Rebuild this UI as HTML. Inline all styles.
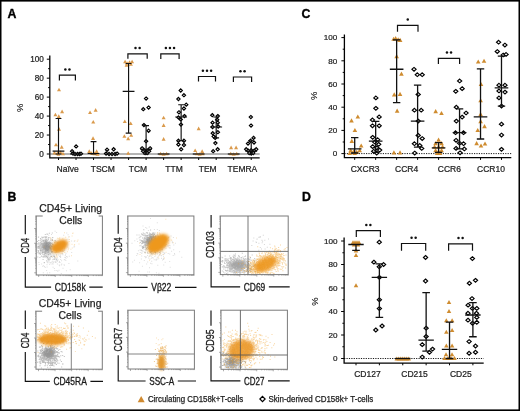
<!DOCTYPE html>
<html><head><meta charset="utf-8"><style>
html,body{margin:0;padding:0;background:#fff;width:520px;height:411px;overflow:hidden;}
svg{display:block;font-family:"Liberation Sans", sans-serif;filter:blur(0.25px);}
</style></head><body>
<svg width="520" height="411" viewBox="0 0 520 411"><rect x="0" y="0" width="520" height="1.6" fill="#000"/>
<rect x="0" y="0" width="1.5" height="411" fill="#000"/>
<rect x="518.5" y="0" width="1.5" height="411" fill="#000"/>
<rect x="0" y="409.4" width="520" height="1.6" fill="#000"/>
<text x="7.4" y="17.8" font-family='"Liberation Sans", sans-serif' font-weight="bold" font-size="12.3" stroke="#000" stroke-width="0.35">A</text>
<text x="7.4" y="200.7" font-family='"Liberation Sans", sans-serif' font-weight="bold" font-size="12.3" stroke="#000" stroke-width="0.35">B</text>
<text x="301.4" y="17.7" font-family='"Liberation Sans", sans-serif' font-weight="bold" font-size="12.3" stroke="#000" stroke-width="0.35">C</text>
<text x="301.9" y="200.8" font-family='"Liberation Sans", sans-serif' font-weight="bold" font-size="12.3" stroke="#000" stroke-width="0.35">D</text>
<path d="M49.8 55.5V157.8H259.7" fill="none" stroke="#000" stroke-width="1.3"/>
<path d="M46.8 154H49.8" stroke="#000" stroke-width="1"/>
<text x="43.8" y="156.7" text-anchor="end" font-family='"Liberation Sans", sans-serif' font-size="8.2" fill="#222" stroke="#222" stroke-width="0.22">0</text>
<path d="M48.1 144.52H49.8" stroke="#000" stroke-width="1"/>
<path d="M46.8 135.04H49.8" stroke="#000" stroke-width="1"/>
<text x="43.8" y="137.74" text-anchor="end" font-family='"Liberation Sans", sans-serif' font-size="8.2" fill="#222" stroke="#222" stroke-width="0.22">20</text>
<path d="M48.1 125.56H49.8" stroke="#000" stroke-width="1"/>
<path d="M46.8 116.08H49.8" stroke="#000" stroke-width="1"/>
<text x="43.8" y="118.78" text-anchor="end" font-family='"Liberation Sans", sans-serif' font-size="8.2" fill="#222" stroke="#222" stroke-width="0.22">40</text>
<path d="M48.1 106.6H49.8" stroke="#000" stroke-width="1"/>
<path d="M46.8 97.12H49.8" stroke="#000" stroke-width="1"/>
<text x="43.8" y="99.82" text-anchor="end" font-family='"Liberation Sans", sans-serif' font-size="8.2" fill="#222" stroke="#222" stroke-width="0.22">60</text>
<path d="M48.1 87.64H49.8" stroke="#000" stroke-width="1"/>
<path d="M46.8 78.16H49.8" stroke="#000" stroke-width="1"/>
<text x="43.8" y="80.86" text-anchor="end" font-family='"Liberation Sans", sans-serif' font-size="8.2" fill="#222" stroke="#222" stroke-width="0.22">80</text>
<path d="M48.1 68.68H49.8" stroke="#000" stroke-width="1"/>
<path d="M46.8 59.2H49.8" stroke="#000" stroke-width="1"/>
<text x="43.8" y="61.9" text-anchor="end" font-family='"Liberation Sans", sans-serif' font-size="8.2" fill="#222" stroke="#222" stroke-width="0.22">100</text>
<path d="M58.5 157.8V160" stroke="#000" stroke-width="1"/>
<path d="M76.02 157.8V160" stroke="#000" stroke-width="1"/>
<path d="M93.54 157.8V160" stroke="#000" stroke-width="1"/>
<path d="M111.06 157.8V160" stroke="#000" stroke-width="1"/>
<path d="M128.58 157.8V160" stroke="#000" stroke-width="1"/>
<path d="M146.1 157.8V160" stroke="#000" stroke-width="1"/>
<path d="M163.62 157.8V160" stroke="#000" stroke-width="1"/>
<path d="M181.14 157.8V160" stroke="#000" stroke-width="1"/>
<path d="M198.66 157.8V160" stroke="#000" stroke-width="1"/>
<path d="M216.18 157.8V160" stroke="#000" stroke-width="1"/>
<path d="M233.7 157.8V160" stroke="#000" stroke-width="1"/>
<path d="M251.22 157.8V160" stroke="#000" stroke-width="1"/>
<path d="M49.8 154H259.7" stroke="#444" stroke-width="0.8"/>
<text transform="translate(20 107.8) rotate(-90)" text-anchor="middle" y="3" font-family='"Liberation Sans", sans-serif' font-size="9.4" fill="#222" stroke="#222" stroke-width="0.1">%</text>
<text x="67.7" y="171.9" text-anchor="middle" font-family='"Liberation Sans", sans-serif' font-size="8.5" fill="#222" stroke="#222" stroke-width="0.22">Naïve</text>
<text x="102.8" y="171.9" text-anchor="middle" font-family='"Liberation Sans", sans-serif' font-size="8.5" fill="#222" stroke="#222" stroke-width="0.22">TSCM</text>
<text x="138" y="171.9" text-anchor="middle" font-family='"Liberation Sans", sans-serif' font-size="8.5" fill="#222" stroke="#222" stroke-width="0.22">TCM</text>
<text x="174" y="171.9" text-anchor="middle" font-family='"Liberation Sans", sans-serif' font-size="8.5" fill="#222" stroke="#222" stroke-width="0.22">TTM</text>
<text x="207.7" y="171.9" text-anchor="middle" font-family='"Liberation Sans", sans-serif' font-size="8.5" fill="#222" stroke="#222" stroke-width="0.22">TEM</text>
<text x="242.4" y="171.9" text-anchor="middle" font-family='"Liberation Sans", sans-serif' font-size="8.5" fill="#222" stroke="#222" stroke-width="0.22">TEMRA</text>
<path d="M55.4 112.76L57.4 116.36L53.4 116.36Z" fill="#DA9A4C"/>
<path d="M58.8 114.28L60.8 117.88L56.8 117.88Z" fill="#DA9A4C"/>
<path d="M62.1 109.54L64.1 113.14L60.1 113.14Z" fill="#DA9A4C"/>
<path d="M59 87.74L61 91.34L57 91.34Z" fill="#DA9A4C"/>
<path d="M59 127.08L61 130.68L57 130.68Z" fill="#DA9A4C"/>
<path d="M56 142.72L58 146.32L54 146.32Z" fill="#DA9A4C"/>
<path d="M61.7 145.09L63.7 148.69L59.7 148.69Z" fill="#DA9A4C"/>
<path d="M54.5 150.78L56.5 154.38L52.5 154.38Z" fill="#DA9A4C"/>
<path d="M57.5 151.25L59.5 154.85L55.5 154.85Z" fill="#DA9A4C"/>
<path d="M60.5 150.3L62.5 153.9L58.5 153.9Z" fill="#DA9A4C"/>
<path d="M63 151.73L65 155.33L61 155.33Z" fill="#DA9A4C"/>
<path d="M58.5 152.2L60.5 155.8L56.5 155.8Z" fill="#DA9A4C"/>
<path d="M76.12 144.82L77.77 146.42L76.12 148.02L74.47 146.42Z" fill="#fff" stroke="#000" stroke-width="1.15"/>
<path d="M72.12 149.56L73.77 151.16L72.12 152.76L70.47 151.16Z" fill="#fff" stroke="#000" stroke-width="1.15"/>
<path d="M73.02 151.93L74.67 153.53L73.02 155.13L71.37 153.53Z" fill="#fff" stroke="#000" stroke-width="1.15"/>
<path d="M75.02 152.4L76.67 154L75.02 155.6L73.37 154Z" fill="#fff" stroke="#000" stroke-width="1.15"/>
<path d="M77.52 152.4L79.17 154L77.52 155.6L75.87 154Z" fill="#fff" stroke="#000" stroke-width="1.15"/>
<path d="M79.52 152.4L81.17 154L79.52 155.6L77.87 154Z" fill="#fff" stroke="#000" stroke-width="1.15"/>
<path d="M81.02 152.12L82.67 153.72L81.02 155.32L79.37 153.72Z" fill="#fff" stroke="#000" stroke-width="1.15"/>
<path d="M90.04 110.49L92.04 114.09L88.04 114.09Z" fill="#DA9A4C"/>
<path d="M95.64 108.12L97.64 111.72L93.64 111.72Z" fill="#DA9A4C"/>
<path d="M93.24 119.97L95.24 123.57L91.24 123.57Z" fill="#DA9A4C"/>
<path d="M93.04 136.37L95.04 139.97L91.04 139.97Z" fill="#DA9A4C"/>
<path d="M89.24 149.36L91.24 152.96L87.24 152.96Z" fill="#DA9A4C"/>
<path d="M96.64 149.36L98.64 152.96L94.64 152.96Z" fill="#DA9A4C"/>
<path d="M91.54 151.25L93.54 154.85L89.54 154.85Z" fill="#DA9A4C"/>
<path d="M94.54 151.73L96.54 155.33L92.54 155.33Z" fill="#DA9A4C"/>
<path d="M97.54 152.2L99.54 155.8L95.54 155.8Z" fill="#DA9A4C"/>
<path d="M107.06 148.13L108.71 149.73L107.06 151.33L105.41 149.73Z" fill="#fff" stroke="#000" stroke-width="1.15"/>
<path d="M113.66 147.66L115.31 149.26L113.66 150.86L112.01 149.26Z" fill="#fff" stroke="#000" stroke-width="1.15"/>
<path d="M106.06 151.93L107.71 153.53L106.06 155.13L104.41 153.53Z" fill="#fff" stroke="#000" stroke-width="1.15"/>
<path d="M109.06 152.4L110.71 154L109.06 155.6L107.41 154Z" fill="#fff" stroke="#000" stroke-width="1.15"/>
<path d="M112.06 152.4L113.71 154L112.06 155.6L110.41 154Z" fill="#fff" stroke="#000" stroke-width="1.15"/>
<path d="M115.06 152.4L116.71 154L115.06 155.6L113.41 154Z" fill="#fff" stroke="#000" stroke-width="1.15"/>
<path d="M117.06 151.93L118.71 153.53L117.06 155.13L115.41 153.53Z" fill="#fff" stroke="#000" stroke-width="1.15"/>
<path d="M125.08 59.77L127.08 63.37L123.08 63.37Z" fill="#DA9A4C"/>
<path d="M127.08 61.19L129.08 64.79L125.08 64.79Z" fill="#DA9A4C"/>
<path d="M129.58 60.24L131.58 63.84L127.58 63.84Z" fill="#DA9A4C"/>
<path d="M132.08 59.77L134.08 63.37L130.08 63.37Z" fill="#DA9A4C"/>
<path d="M126.58 63.09L128.58 66.69L124.58 66.69Z" fill="#DA9A4C"/>
<path d="M130.88 62.14L132.88 65.74L128.88 65.74Z" fill="#DA9A4C"/>
<path d="M124.78 119.49L126.78 123.09L122.78 123.09Z" fill="#DA9A4C"/>
<path d="M130.68 121.39L132.68 124.99L128.68 124.99Z" fill="#DA9A4C"/>
<path d="M124.38 134.19L126.38 137.79L122.38 137.79Z" fill="#DA9A4C"/>
<path d="M131.18 133.24L133.18 136.84L129.18 136.84Z" fill="#DA9A4C"/>
<path d="M128.18 136.56L130.18 140.16L126.18 140.16Z" fill="#DA9A4C"/>
<path d="M128.18 151.25L130.18 154.85L126.18 154.85Z" fill="#DA9A4C"/>
<path d="M146.1 96.94L147.75 98.54L146.1 100.14L144.45 98.54Z" fill="#fff" stroke="#000" stroke-width="1.15"/>
<path d="M143.3 107.56L144.95 109.16L143.3 110.76L141.65 109.16Z" fill="#fff" stroke="#000" stroke-width="1.15"/>
<path d="M148.6 105.95L150.25 107.55L148.6 109.15L146.95 107.55Z" fill="#fff" stroke="#000" stroke-width="1.15"/>
<path d="M143.9 123.49L145.55 125.09L143.9 126.69L142.25 125.09Z" fill="#fff" stroke="#000" stroke-width="1.15"/>
<path d="M148.6 129.17L150.25 130.77L148.6 132.37L146.95 130.77Z" fill="#fff" stroke="#000" stroke-width="1.15"/>
<path d="M146.1 139.6L147.75 141.2L146.1 142.8L144.45 141.2Z" fill="#fff" stroke="#000" stroke-width="1.15"/>
<path d="M142.1 146.71L143.75 148.31L142.1 149.91L140.45 148.31Z" fill="#fff" stroke="#000" stroke-width="1.15"/>
<path d="M144.1 148.61L145.75 150.21L144.1 151.81L142.45 150.21Z" fill="#fff" stroke="#000" stroke-width="1.15"/>
<path d="M146.1 150.5L147.75 152.1L146.1 153.7L144.45 152.1Z" fill="#fff" stroke="#000" stroke-width="1.15"/>
<path d="M148.1 148.61L149.75 150.21L148.1 151.81L146.45 150.21Z" fill="#fff" stroke="#000" stroke-width="1.15"/>
<path d="M150.1 146.71L151.75 148.31L150.1 149.91L148.45 148.31Z" fill="#fff" stroke="#000" stroke-width="1.15"/>
<path d="M145.1 151.45L146.75 153.05L145.1 154.65L143.45 153.05Z" fill="#fff" stroke="#000" stroke-width="1.15"/>
<path d="M147.1 151.45L148.75 153.05L147.1 154.65L145.45 153.05Z" fill="#fff" stroke="#000" stroke-width="1.15"/>
<path d="M143.1 149.56L144.75 151.16L143.1 152.76L141.45 151.16Z" fill="#fff" stroke="#000" stroke-width="1.15"/>
<path d="M149.1 149.56L150.75 151.16L149.1 152.76L147.45 151.16Z" fill="#fff" stroke="#000" stroke-width="1.15"/>
<path d="M163.62 115.7L165.62 119.3L161.62 119.3Z" fill="#DA9A4C"/>
<path d="M163.62 123.29L165.62 126.89L161.62 126.89Z" fill="#DA9A4C"/>
<path d="M163.62 137.03L165.62 140.63L161.62 140.63Z" fill="#DA9A4C"/>
<path d="M160.62 151.73L162.62 155.33L158.62 155.33Z" fill="#DA9A4C"/>
<path d="M163.62 152.2L165.62 155.8L161.62 155.8Z" fill="#DA9A4C"/>
<path d="M166.62 151.73L168.62 155.33L164.62 155.33Z" fill="#DA9A4C"/>
<path d="M180.74 88.88L182.39 90.48L180.74 92.08L179.09 90.48Z" fill="#fff" stroke="#000" stroke-width="1.15"/>
<path d="M183.94 93.62L185.59 95.22L183.94 96.82L182.29 95.22Z" fill="#fff" stroke="#000" stroke-width="1.15"/>
<path d="M178.44 97.42L180.09 99.02L178.44 100.62L176.79 99.02Z" fill="#fff" stroke="#000" stroke-width="1.15"/>
<path d="M186.24 103.1L187.89 104.7L186.24 106.3L184.59 104.7Z" fill="#fff" stroke="#000" stroke-width="1.15"/>
<path d="M183.94 106.9L185.59 108.5L183.94 110.1L182.29 108.5Z" fill="#fff" stroke="#000" stroke-width="1.15"/>
<path d="M178.94 110.69L180.59 112.29L178.94 113.89L177.29 112.29Z" fill="#fff" stroke="#000" stroke-width="1.15"/>
<path d="M184.44 114.48L186.09 116.08L184.44 117.68L182.79 116.08Z" fill="#fff" stroke="#000" stroke-width="1.15"/>
<path d="M178.44 115.81L180.09 117.41L178.44 119.01L176.79 117.41Z" fill="#fff" stroke="#000" stroke-width="1.15"/>
<path d="M180.74 117.8L182.39 119.4L180.74 121L179.09 119.4Z" fill="#fff" stroke="#000" stroke-width="1.15"/>
<path d="M180.94 123.01L182.59 124.61L180.94 126.21L179.29 124.61Z" fill="#fff" stroke="#000" stroke-width="1.15"/>
<path d="M178.44 139.13L180.09 140.73L178.44 142.33L176.79 140.73Z" fill="#fff" stroke="#000" stroke-width="1.15"/>
<path d="M183.94 139.13L185.59 140.73L183.94 142.33L182.29 140.73Z" fill="#fff" stroke="#000" stroke-width="1.15"/>
<path d="M178.44 142.92L180.09 144.52L178.44 146.12L176.79 144.52Z" fill="#fff" stroke="#000" stroke-width="1.15"/>
<path d="M183.94 143.39L185.59 144.99L183.94 146.59L182.29 144.99Z" fill="#fff" stroke="#000" stroke-width="1.15"/>
<path d="M181.14 147.66L182.79 149.26L181.14 150.86L179.49 149.26Z" fill="#fff" stroke="#000" stroke-width="1.15"/>
<path d="M198.66 126.6L200.66 130.2L196.66 130.2Z" fill="#DA9A4C"/>
<path d="M195.16 148.41L197.16 152.01L193.16 152.01Z" fill="#DA9A4C"/>
<path d="M202.16 149.36L204.16 152.96L200.16 152.96Z" fill="#DA9A4C"/>
<path d="M196.66 151.73L198.66 155.33L194.66 155.33Z" fill="#DA9A4C"/>
<path d="M199.66 152.2L201.66 155.8L197.66 155.8Z" fill="#DA9A4C"/>
<path d="M202.66 151.73L204.66 155.33L200.66 155.33Z" fill="#DA9A4C"/>
<path d="M212.28 113.53L213.93 115.13L212.28 116.73L210.63 115.13Z" fill="#fff" stroke="#000" stroke-width="1.15"/>
<path d="M217.78 114.48L219.43 116.08L217.78 117.68L216.13 116.08Z" fill="#fff" stroke="#000" stroke-width="1.15"/>
<path d="M217.18 118.27L218.83 119.87L217.18 121.47L215.53 119.87Z" fill="#fff" stroke="#000" stroke-width="1.15"/>
<path d="M212.58 121.12L214.23 122.72L212.58 124.32L210.93 122.72Z" fill="#fff" stroke="#000" stroke-width="1.15"/>
<path d="M217.78 121.12L219.43 122.72L217.78 124.32L216.13 122.72Z" fill="#fff" stroke="#000" stroke-width="1.15"/>
<path d="M212.58 125.38L214.23 126.98L212.58 128.58L210.93 126.98Z" fill="#fff" stroke="#000" stroke-width="1.15"/>
<path d="M218.18 124.91L219.83 126.51L218.18 128.11L216.53 126.51Z" fill="#fff" stroke="#000" stroke-width="1.15"/>
<path d="M212.78 131.54L214.43 133.14L212.78 134.74L211.13 133.14Z" fill="#fff" stroke="#000" stroke-width="1.15"/>
<path d="M217.88 130.6L219.53 132.2L217.88 133.8L216.23 132.2Z" fill="#fff" stroke="#000" stroke-width="1.15"/>
<path d="M213.68 134.86L215.33 136.46L213.68 138.06L212.03 136.46Z" fill="#fff" stroke="#000" stroke-width="1.15"/>
<path d="M215.18 136.28L216.83 137.88L215.18 139.48L213.53 137.88Z" fill="#fff" stroke="#000" stroke-width="1.15"/>
<path d="M215.38 141.5L217.03 143.1L215.38 144.7L213.73 143.1Z" fill="#fff" stroke="#000" stroke-width="1.15"/>
<path d="M217.68 147.66L219.33 149.26L217.68 150.86L216.03 149.26Z" fill="#fff" stroke="#000" stroke-width="1.15"/>
<path d="M213.18 149.56L214.83 151.16L213.18 152.76L211.53 151.16Z" fill="#fff" stroke="#000" stroke-width="1.15"/>
<path d="M231.1 145.56L233.1 149.16L229.1 149.16Z" fill="#DA9A4C"/>
<path d="M236.1 145.56L238.1 149.16L234.1 149.16Z" fill="#DA9A4C"/>
<path d="M230.7 151.73L232.7 155.33L228.7 155.33Z" fill="#DA9A4C"/>
<path d="M233.7 152.2L235.7 155.8L231.7 155.8Z" fill="#DA9A4C"/>
<path d="M236.7 151.73L238.7 155.33L234.7 155.33Z" fill="#DA9A4C"/>
<path d="M250.82 115.43L252.47 117.03L250.82 118.63L249.17 117.03Z" fill="#fff" stroke="#000" stroke-width="1.15"/>
<path d="M251.02 123.96L252.67 125.56L251.02 127.16L249.37 125.56Z" fill="#fff" stroke="#000" stroke-width="1.15"/>
<path d="M253.52 136.28L255.17 137.88L253.52 139.48L251.87 137.88Z" fill="#fff" stroke="#000" stroke-width="1.15"/>
<path d="M250.52 139.13L252.17 140.73L250.52 142.33L248.87 140.73Z" fill="#fff" stroke="#000" stroke-width="1.15"/>
<path d="M248.02 141.97L249.67 143.57L248.02 145.17L246.37 143.57Z" fill="#fff" stroke="#000" stroke-width="1.15"/>
<path d="M254.02 141.02L255.67 142.62L254.02 144.22L252.37 142.62Z" fill="#fff" stroke="#000" stroke-width="1.15"/>
<path d="M246.22 147.66L247.87 149.26L246.22 150.86L244.57 149.26Z" fill="#fff" stroke="#000" stroke-width="1.15"/>
<path d="M248.22 149.08L249.87 150.68L248.22 152.28L246.57 150.68Z" fill="#fff" stroke="#000" stroke-width="1.15"/>
<path d="M250.22 150.5L251.87 152.1L250.22 153.7L248.57 152.1Z" fill="#fff" stroke="#000" stroke-width="1.15"/>
<path d="M252.22 150.5L253.87 152.1L252.22 153.7L250.57 152.1Z" fill="#fff" stroke="#000" stroke-width="1.15"/>
<path d="M254.22 149.08L255.87 150.68L254.22 152.28L252.57 150.68Z" fill="#fff" stroke="#000" stroke-width="1.15"/>
<path d="M256.22 147.66L257.87 149.26L256.22 150.86L254.57 149.26Z" fill="#fff" stroke="#000" stroke-width="1.15"/>
<path d="M251.22 151.93L252.87 153.53L251.22 155.13L249.57 153.53Z" fill="#fff" stroke="#000" stroke-width="1.15"/>
<path d="M249.22 151.45L250.87 153.05L249.22 154.65L247.57 153.05Z" fill="#fff" stroke="#000" stroke-width="1.15"/>
<path d="M253.22 151.45L254.87 153.05L253.22 154.65L251.57 153.05Z" fill="#fff" stroke="#000" stroke-width="1.15"/>
<path d="M251.22 148.61L252.87 150.21L251.22 151.81L249.57 150.21Z" fill="#fff" stroke="#000" stroke-width="1.15"/>
<path d="M58.5 118.45V154M55.6 118.45H61.4M55.6 154H61.4M52.6 151.16H64.4" stroke="#111" stroke-width="1.15" fill="none"/>
<path d="M70.12 154H81.92" stroke="#111" stroke-width="1.15" fill="none"/>
<path d="M93.54 141.68V154M90.64 141.68H96.44M90.64 154H96.44M87.64 153.53H99.44" stroke="#111" stroke-width="1.15" fill="none"/>
<path d="M105.16 154H116.96" stroke="#111" stroke-width="1.15" fill="none"/>
<path d="M128.58 63.47V133.14M125.68 63.47H131.48M125.68 133.14H131.48M122.68 91.43H134.48" stroke="#111" stroke-width="1.15" fill="none"/>
<path d="M146.1 125.56V154M143.2 125.56H149M143.2 154H149M140.2 149.26H152" stroke="#111" stroke-width="1.15" fill="none"/>
<path d="M157.72 154H169.52" stroke="#111" stroke-width="1.15" fill="none"/>
<path d="M181.14 104.7V140.73M178.24 104.7H184.04M178.24 140.73H184.04M175.24 117.03H187.04" stroke="#111" stroke-width="1.15" fill="none"/>
<path d="M192.76 154H204.56" stroke="#111" stroke-width="1.15" fill="none"/>
<path d="M216.18 117.03V137.88M213.28 117.03H219.08M213.28 137.88H219.08M210.28 126.98H222.08" stroke="#111" stroke-width="1.15" fill="none"/>
<path d="M227.8 154H239.6" stroke="#111" stroke-width="1.15" fill="none"/>
<path d="M251.22 140.73V154M248.32 140.73H254.12M248.32 154H254.12M245.32 151.16H257.12" stroke="#111" stroke-width="1.15" fill="none"/>
<path d="M59.4 80.4V75.2H75.4V80.4" stroke="#111" stroke-width="1.2" fill="none"/>
<circle cx="65.35" cy="69.4" r="1.25" fill="#111"/>
<circle cx="69.45" cy="69.4" r="1.25" fill="#111"/>
<path d="M127.9 58.7V53.9H147.2V58.7" stroke="#111" stroke-width="1.2" fill="none"/>
<circle cx="135.5" cy="48.1" r="1.25" fill="#111"/>
<circle cx="139.6" cy="48.1" r="1.25" fill="#111"/>
<path d="M160.8 59V53.9H179.1V59" stroke="#111" stroke-width="1.2" fill="none"/>
<circle cx="165.85" cy="48.1" r="1.25" fill="#111"/>
<circle cx="169.95" cy="48.1" r="1.25" fill="#111"/>
<circle cx="174.05" cy="48.1" r="1.25" fill="#111"/>
<path d="M198.5 81.4V76.5H215.5V81.4" stroke="#111" stroke-width="1.2" fill="none"/>
<circle cx="202.9" cy="70.7" r="1.25" fill="#111"/>
<circle cx="207" cy="70.7" r="1.25" fill="#111"/>
<circle cx="211.1" cy="70.7" r="1.25" fill="#111"/>
<path d="M233.4 81.9V77H251.6V81.9" stroke="#111" stroke-width="1.2" fill="none"/>
<circle cx="240.45" cy="71.2" r="1.25" fill="#111"/>
<circle cx="244.55" cy="71.2" r="1.25" fill="#111"/>
<path d="M344.4 34.5V157.7H511.3" fill="none" stroke="#000" stroke-width="1.3"/>
<path d="M341.4 153.6H344.4" stroke="#000" stroke-width="1"/>
<text x="337.2" y="156.3" text-anchor="end" font-family='"Liberation Sans", sans-serif' font-size="8.1" fill="#222" stroke="#222" stroke-width="0.22">0</text>
<path d="M342.7 142H344.4" stroke="#000" stroke-width="1"/>
<path d="M341.4 130.4H344.4" stroke="#000" stroke-width="1"/>
<text x="337.2" y="133.1" text-anchor="end" font-family='"Liberation Sans", sans-serif' font-size="8.1" fill="#222" stroke="#222" stroke-width="0.22">20</text>
<path d="M342.7 118.8H344.4" stroke="#000" stroke-width="1"/>
<path d="M341.4 107.2H344.4" stroke="#000" stroke-width="1"/>
<text x="337.2" y="109.9" text-anchor="end" font-family='"Liberation Sans", sans-serif' font-size="8.1" fill="#222" stroke="#222" stroke-width="0.22">40</text>
<path d="M342.7 95.6H344.4" stroke="#000" stroke-width="1"/>
<path d="M341.4 84H344.4" stroke="#000" stroke-width="1"/>
<text x="337.2" y="86.7" text-anchor="end" font-family='"Liberation Sans", sans-serif' font-size="8.1" fill="#222" stroke="#222" stroke-width="0.22">60</text>
<path d="M342.7 72.4H344.4" stroke="#000" stroke-width="1"/>
<path d="M341.4 60.8H344.4" stroke="#000" stroke-width="1"/>
<text x="337.2" y="63.5" text-anchor="end" font-family='"Liberation Sans", sans-serif' font-size="8.1" fill="#222" stroke="#222" stroke-width="0.22">80</text>
<path d="M342.7 49.2H344.4" stroke="#000" stroke-width="1"/>
<path d="M341.4 37.6H344.4" stroke="#000" stroke-width="1"/>
<text x="337.2" y="40.3" text-anchor="end" font-family='"Liberation Sans", sans-serif' font-size="8.1" fill="#222" stroke="#222" stroke-width="0.22">100</text>
<path d="M354.7 157.7V159.9" stroke="#000" stroke-width="1"/>
<path d="M375.67 157.7V159.9" stroke="#000" stroke-width="1"/>
<path d="M396.64 157.7V159.9" stroke="#000" stroke-width="1"/>
<path d="M417.61 157.7V159.9" stroke="#000" stroke-width="1"/>
<path d="M438.58 157.7V159.9" stroke="#000" stroke-width="1"/>
<path d="M459.55 157.7V159.9" stroke="#000" stroke-width="1"/>
<path d="M480.52 157.7V159.9" stroke="#000" stroke-width="1"/>
<path d="M501.49 157.7V159.9" stroke="#000" stroke-width="1"/>
<path d="M344.4 153.6H511.3" stroke="#000" stroke-width="0.9" stroke-dasharray="1.2 1.2"/>
<text transform="translate(314 95.8) rotate(-90)" text-anchor="middle" y="3" font-family='"Liberation Sans", sans-serif' font-size="9.4" fill="#222" stroke="#222" stroke-width="0.1">%</text>
<text x="365.1" y="172" text-anchor="middle" font-family='"Liberation Sans", sans-serif' font-size="8.5" fill="#222" stroke="#222" stroke-width="0.22">CXCR3</text>
<text x="406.6" y="172" text-anchor="middle" font-family='"Liberation Sans", sans-serif' font-size="8.5" fill="#222" stroke="#222" stroke-width="0.22">CCR4</text>
<text x="449.4" y="172" text-anchor="middle" font-family='"Liberation Sans", sans-serif' font-size="8.5" fill="#222" stroke="#222" stroke-width="0.22">CCR6</text>
<text x="491" y="172" text-anchor="middle" font-family='"Liberation Sans", sans-serif' font-size="8.5" fill="#222" stroke="#222" stroke-width="0.22">CCR10</text>
<path d="M351.5 118.24L353.8 122.38L349.2 122.38Z" fill="#CF8C30"/>
<path d="M357.8 114.41L360.1 118.55L355.5 118.55Z" fill="#CF8C30"/>
<path d="M354.9 127.98L357.2 132.12L352.6 132.12Z" fill="#CF8C30"/>
<path d="M351.8 138.77L354.1 142.91L349.5 142.91Z" fill="#CF8C30"/>
<path d="M361.2 143.41L363.5 147.55L358.9 147.55Z" fill="#CF8C30"/>
<path d="M350.7 148.05L353 152.19L348.4 152.19Z" fill="#CF8C30"/>
<path d="M353.7 149.21L356 153.35L351.4 153.35Z" fill="#CF8C30"/>
<path d="M356.7 149.79L359 153.93L354.4 153.93Z" fill="#CF8C30"/>
<path d="M359.7 148.05L362 152.19L357.4 152.19Z" fill="#CF8C30"/>
<path d="M354.7 150.95L357 155.09L352.4 155.09Z" fill="#CF8C30"/>
<path d="M349.7 150.95L352 155.09L347.4 155.09Z" fill="#CF8C30"/>
<path d="M375.87 96.07L377.97 97.92L375.87 99.77L373.77 97.92Z" fill="#fff" stroke="#000" stroke-width="1.15"/>
<path d="M375.87 106.51L377.97 108.36L375.87 110.21L373.77 108.36Z" fill="#fff" stroke="#000" stroke-width="1.15"/>
<path d="M379.17 115.09L381.27 116.94L379.17 118.79L377.07 116.94Z" fill="#fff" stroke="#000" stroke-width="1.15"/>
<path d="M372.47 118.11L374.57 119.96L372.47 121.81L370.37 119.96Z" fill="#fff" stroke="#000" stroke-width="1.15"/>
<path d="M372.47 123.91L374.57 125.76L372.47 127.61L370.37 125.76Z" fill="#fff" stroke="#000" stroke-width="1.15"/>
<path d="M379.17 123.91L381.27 125.76L379.17 127.61L377.07 125.76Z" fill="#fff" stroke="#000" stroke-width="1.15"/>
<path d="M372.67 135.51L374.77 137.36L372.67 139.21L370.57 137.36Z" fill="#fff" stroke="#000" stroke-width="1.15"/>
<path d="M377.67 137.83L379.77 139.68L377.67 141.53L375.57 139.68Z" fill="#fff" stroke="#000" stroke-width="1.15"/>
<path d="M374.67 140.15L376.77 142L374.67 143.85L372.57 142Z" fill="#fff" stroke="#000" stroke-width="1.15"/>
<path d="M378.67 142.47L380.77 144.32L378.67 146.17L376.57 144.32Z" fill="#fff" stroke="#000" stroke-width="1.15"/>
<path d="M372.67 144.79L374.77 146.64L372.67 148.49L370.57 146.64Z" fill="#fff" stroke="#000" stroke-width="1.15"/>
<path d="M376.67 145.95L378.77 147.8L376.67 149.65L374.57 147.8Z" fill="#fff" stroke="#000" stroke-width="1.15"/>
<path d="M379.67 148.27L381.77 150.12L379.67 151.97L377.57 150.12Z" fill="#fff" stroke="#000" stroke-width="1.15"/>
<path d="M373.67 149.43L375.77 151.28L373.67 153.13L371.57 151.28Z" fill="#fff" stroke="#000" stroke-width="1.15"/>
<path d="M376.67 151.17L378.77 153.02L376.67 154.87L374.57 153.02Z" fill="#fff" stroke="#000" stroke-width="1.15"/>
<path d="M393.64 36.69L395.94 40.83L391.34 40.83Z" fill="#CF8C30"/>
<path d="M395.64 36.11L397.94 40.25L393.34 40.25Z" fill="#CF8C30"/>
<path d="M398.14 37.27L400.44 41.41L395.84 41.41Z" fill="#CF8C30"/>
<path d="M400.14 37.85L402.44 41.99L397.84 41.99Z" fill="#CF8C30"/>
<path d="M396.64 54.09L398.94 58.23L394.34 58.23Z" fill="#CF8C30"/>
<path d="M401.44 71.49L403.74 75.63L399.14 75.63Z" fill="#CF8C30"/>
<path d="M394.24 92.37L396.54 96.51L391.94 96.51Z" fill="#CF8C30"/>
<path d="M400.04 91.79L402.34 95.93L397.74 95.93Z" fill="#CF8C30"/>
<path d="M397.14 108.61L399.44 112.75L394.84 112.75Z" fill="#CF8C30"/>
<path d="M393.94 150.37L396.24 154.51L391.64 154.51Z" fill="#CF8C30"/>
<path d="M400.04 150.37L402.34 154.51L397.74 154.51Z" fill="#CF8C30"/>
<path d="M414.01 67.42L416.11 69.27L414.01 71.12L411.91 69.27Z" fill="#fff" stroke="#000" stroke-width="1.15"/>
<path d="M417.31 72.87L419.41 74.72L417.31 76.57L415.21 74.72Z" fill="#fff" stroke="#000" stroke-width="1.15"/>
<path d="M422.21 72.87L424.31 74.72L422.21 76.57L420.11 74.72Z" fill="#fff" stroke="#000" stroke-width="1.15"/>
<path d="M418.21 92.59L420.31 94.44L418.21 96.29L416.11 94.44Z" fill="#fff" stroke="#000" stroke-width="1.15"/>
<path d="M414.41 108.37L416.51 110.22L414.41 112.07L412.31 110.22Z" fill="#fff" stroke="#000" stroke-width="1.15"/>
<path d="M421.21 108.37L423.31 110.22L421.21 112.07L419.11 110.22Z" fill="#fff" stroke="#000" stroke-width="1.15"/>
<path d="M418.21 119.27L420.31 121.12L418.21 122.97L416.11 121.12Z" fill="#fff" stroke="#000" stroke-width="1.15"/>
<path d="M418.21 133.54L420.31 135.39L418.21 137.24L416.11 135.39Z" fill="#fff" stroke="#000" stroke-width="1.15"/>
<path d="M422.21 136.67L424.31 138.52L422.21 140.37L420.11 138.52Z" fill="#fff" stroke="#000" stroke-width="1.15"/>
<path d="M414.41 141.89L416.51 143.74L414.41 145.59L412.31 143.74Z" fill="#fff" stroke="#000" stroke-width="1.15"/>
<path d="M419.81 143.63L421.91 145.48L419.81 147.33L417.71 145.48Z" fill="#fff" stroke="#000" stroke-width="1.15"/>
<path d="M421.71 146.65L423.81 148.5L421.71 150.35L419.61 148.5Z" fill="#fff" stroke="#000" stroke-width="1.15"/>
<path d="M414.71 151.17L416.81 153.02L414.71 154.87L412.61 153.02Z" fill="#fff" stroke="#000" stroke-width="1.15"/>
<path d="M435.68 109.07L437.98 113.21L433.38 113.21Z" fill="#CF8C30"/>
<path d="M441.48 110.93L443.78 115.07L439.18 115.07Z" fill="#CF8C30"/>
<path d="M438.58 137.61L440.88 141.75L436.28 141.75Z" fill="#CF8C30"/>
<path d="M435.58 141.09L437.88 145.23L433.28 145.23Z" fill="#CF8C30"/>
<path d="M441.58 141.09L443.88 145.23L439.28 145.23Z" fill="#CF8C30"/>
<path d="M434.58 144.57L436.88 148.71L432.28 148.71Z" fill="#CF8C30"/>
<path d="M438.58 144.57L440.88 148.71L436.28 148.71Z" fill="#CF8C30"/>
<path d="M442.58 144.57L444.88 148.71L440.28 148.71Z" fill="#CF8C30"/>
<path d="M435.58 148.05L437.88 152.19L433.28 152.19Z" fill="#CF8C30"/>
<path d="M441.58 148.05L443.88 152.19L439.28 152.19Z" fill="#CF8C30"/>
<path d="M438.58 149.21L440.88 153.35L436.28 153.35Z" fill="#CF8C30"/>
<path d="M437.08 150.95L439.38 155.09L434.78 155.09Z" fill="#CF8C30"/>
<path d="M440.08 150.95L442.38 155.09L437.78 155.09Z" fill="#CF8C30"/>
<path d="M459.65 79.13L461.75 80.98L459.65 82.83L457.55 80.98Z" fill="#fff" stroke="#000" stroke-width="1.15"/>
<path d="M455.75 89.46L457.85 91.31L455.75 93.16L453.65 91.31Z" fill="#fff" stroke="#000" stroke-width="1.15"/>
<path d="M462.15 86.79L464.25 88.64L462.15 90.49L460.05 88.64Z" fill="#fff" stroke="#000" stroke-width="1.15"/>
<path d="M456.35 105.35L458.45 107.2L456.35 109.05L454.25 107.2Z" fill="#fff" stroke="#000" stroke-width="1.15"/>
<path d="M466.05 111.15L468.15 113L466.05 114.85L463.95 113Z" fill="#fff" stroke="#000" stroke-width="1.15"/>
<path d="M462.15 115.21L464.25 117.06L462.15 118.91L460.05 117.06Z" fill="#fff" stroke="#000" stroke-width="1.15"/>
<path d="M456.35 119.27L458.45 121.12L456.35 122.97L454.25 121.12Z" fill="#fff" stroke="#000" stroke-width="1.15"/>
<path d="M455.55 130.87L457.65 132.72L455.55 134.57L453.45 132.72Z" fill="#fff" stroke="#000" stroke-width="1.15"/>
<path d="M463.55 130.87L465.65 132.72L463.55 134.57L461.45 132.72Z" fill="#fff" stroke="#000" stroke-width="1.15"/>
<path d="M456.05 138.41L458.15 140.26L456.05 142.11L453.95 140.26Z" fill="#fff" stroke="#000" stroke-width="1.15"/>
<path d="M459.55 141.31L461.65 143.16L459.55 145.01L457.45 143.16Z" fill="#fff" stroke="#000" stroke-width="1.15"/>
<path d="M463.55 141.89L465.65 143.74L463.55 145.59L461.45 143.74Z" fill="#fff" stroke="#000" stroke-width="1.15"/>
<path d="M456.05 146.53L458.15 148.38L456.05 150.23L453.95 148.38Z" fill="#fff" stroke="#000" stroke-width="1.15"/>
<path d="M464.35 147.11L466.45 148.96L464.35 150.81L462.25 148.96Z" fill="#fff" stroke="#000" stroke-width="1.15"/>
<path d="M460.05 150.94L462.15 152.79L460.05 154.64L457.95 152.79Z" fill="#fff" stroke="#000" stroke-width="1.15"/>
<path d="M478.22 59.43L480.52 63.57L475.92 63.57Z" fill="#CF8C30"/>
<path d="M484.02 58.73L486.32 62.87L481.72 62.87Z" fill="#CF8C30"/>
<path d="M481.02 81.93L483.32 86.07L478.72 86.07Z" fill="#CF8C30"/>
<path d="M480.62 98.17L482.92 102.31L478.32 102.31Z" fill="#CF8C30"/>
<path d="M480.62 112.09L482.92 116.23L478.32 116.23Z" fill="#CF8C30"/>
<path d="M480.62 119.05L482.92 123.19L478.32 123.19Z" fill="#CF8C30"/>
<path d="M484.52 124.04L486.82 128.18L482.22 128.18Z" fill="#CF8C30"/>
<path d="M477.72 127.98L480.02 132.12L475.42 132.12Z" fill="#CF8C30"/>
<path d="M476.62 141.09L478.92 145.23L474.32 145.23Z" fill="#CF8C30"/>
<path d="M481.02 143.41L483.32 147.55L478.72 147.55Z" fill="#CF8C30"/>
<path d="M485.02 141.44L487.32 145.58L482.72 145.58Z" fill="#CF8C30"/>
<path d="M498.59 40.39L500.69 42.24L498.59 44.09L496.49 42.24Z" fill="#fff" stroke="#000" stroke-width="1.15"/>
<path d="M504.89 43.17L506.99 45.02L504.89 46.87L502.79 45.02Z" fill="#fff" stroke="#000" stroke-width="1.15"/>
<path d="M497.29 49.67L499.39 51.52L497.29 53.37L495.19 51.52Z" fill="#fff" stroke="#000" stroke-width="1.15"/>
<path d="M503.19 53.15L505.29 55L503.19 56.85L501.09 55Z" fill="#fff" stroke="#000" stroke-width="1.15"/>
<path d="M506.09 52.57L508.19 54.42L506.09 56.27L503.99 54.42Z" fill="#fff" stroke="#000" stroke-width="1.15"/>
<path d="M498.99 83.31L501.09 85.16L498.99 87.01L496.89 85.16Z" fill="#fff" stroke="#000" stroke-width="1.15"/>
<path d="M504.99 83.31L507.09 85.16L504.99 87.01L502.89 85.16Z" fill="#fff" stroke="#000" stroke-width="1.15"/>
<path d="M498.99 89.11L501.09 90.96L498.99 92.81L496.89 90.96Z" fill="#fff" stroke="#000" stroke-width="1.15"/>
<path d="M504.99 90.27L507.09 92.12L504.99 93.97L502.89 92.12Z" fill="#fff" stroke="#000" stroke-width="1.15"/>
<path d="M498.99 96.07L501.09 97.92L498.99 99.77L496.89 97.92Z" fill="#fff" stroke="#000" stroke-width="1.15"/>
<path d="M501.49 104.19L503.59 106.04L501.49 107.89L499.39 106.04Z" fill="#fff" stroke="#000" stroke-width="1.15"/>
<path d="M501.49 122.29L503.59 124.14L501.49 125.99L499.39 124.14Z" fill="#fff" stroke="#000" stroke-width="1.15"/>
<path d="M501.49 133.19L503.59 135.04L501.49 136.89L499.39 135.04Z" fill="#fff" stroke="#000" stroke-width="1.15"/>
<path d="M501.49 147.46L503.59 149.31L501.49 151.16L499.39 149.31Z" fill="#fff" stroke="#000" stroke-width="1.15"/>
<path d="M354.7 137.71V153.02M351 137.71H358.4M351 153.02H358.4M347.9 148.96H361.5" stroke="#111" stroke-width="1.3" fill="none"/>
<path d="M375.67 121.47V152.44M371.97 121.47H379.37M371.97 152.44H379.37M368.87 141.07H382.47" stroke="#111" stroke-width="1.3" fill="none"/>
<path d="M396.64 39.92V102.56M392.94 39.92H400.34M392.94 102.56H400.34M389.84 69.27H403.44" stroke="#111" stroke-width="1.3" fill="none"/>
<path d="M417.61 85.16V147.1M413.91 85.16H421.31M413.91 147.1H421.31M410.81 121.12H424.41" stroke="#111" stroke-width="1.3" fill="none"/>
<path d="M438.58 142.58V152.44M434.88 142.58H442.28M434.88 152.44H442.28M431.78 147.8H445.38" stroke="#111" stroke-width="1.3" fill="none"/>
<path d="M459.55 108.82V148.96M455.85 108.82H463.25M455.85 148.96H463.25M452.75 132.72H466.35" stroke="#111" stroke-width="1.3" fill="none"/>
<path d="M480.52 68.92V138.98M476.82 68.92H484.22M476.82 138.98H484.22M473.72 116.83H487.32" stroke="#111" stroke-width="1.3" fill="none"/>
<path d="M501.49 56.16V106.04M497.79 56.16H505.19M497.79 106.04H505.19M494.69 87.94H508.29" stroke="#111" stroke-width="1.3" fill="none"/>
<path d="M397.5 31.8V25.4H418V31.8" stroke="#111" stroke-width="1.2" fill="none"/>
<circle cx="407.75" cy="19.6" r="1.25" fill="#111"/>
<path d="M438.4 64V58.3H459.6V64" stroke="#111" stroke-width="1.2" fill="none"/>
<circle cx="446.95" cy="52.5" r="1.25" fill="#111"/>
<circle cx="451.05" cy="52.5" r="1.25" fill="#111"/>
<path d="M344.1 237.5V363.1H483.7" fill="none" stroke="#000" stroke-width="1.3"/>
<path d="M341.1 358.5H344.1" stroke="#000" stroke-width="1"/>
<text x="337.4" y="361.2" text-anchor="end" font-family='"Liberation Sans", sans-serif' font-size="8.1" fill="#222" stroke="#222" stroke-width="0.22">0</text>
<path d="M342.4 346.75H344.1" stroke="#000" stroke-width="1"/>
<path d="M341.1 335H344.1" stroke="#000" stroke-width="1"/>
<text x="337.4" y="337.7" text-anchor="end" font-family='"Liberation Sans", sans-serif' font-size="8.1" fill="#222" stroke="#222" stroke-width="0.22">20</text>
<path d="M342.4 323.25H344.1" stroke="#000" stroke-width="1"/>
<path d="M341.1 311.5H344.1" stroke="#000" stroke-width="1"/>
<text x="337.4" y="314.2" text-anchor="end" font-family='"Liberation Sans", sans-serif' font-size="8.1" fill="#222" stroke="#222" stroke-width="0.22">40</text>
<path d="M342.4 299.75H344.1" stroke="#000" stroke-width="1"/>
<path d="M341.1 288H344.1" stroke="#000" stroke-width="1"/>
<text x="337.4" y="290.7" text-anchor="end" font-family='"Liberation Sans", sans-serif' font-size="8.1" fill="#222" stroke="#222" stroke-width="0.22">60</text>
<path d="M342.4 276.25H344.1" stroke="#000" stroke-width="1"/>
<path d="M341.1 264.5H344.1" stroke="#000" stroke-width="1"/>
<text x="337.4" y="267.2" text-anchor="end" font-family='"Liberation Sans", sans-serif' font-size="8.1" fill="#222" stroke="#222" stroke-width="0.22">80</text>
<path d="M342.4 252.75H344.1" stroke="#000" stroke-width="1"/>
<path d="M341.1 241H344.1" stroke="#000" stroke-width="1"/>
<text x="337.4" y="243.7" text-anchor="end" font-family='"Liberation Sans", sans-serif' font-size="8.1" fill="#222" stroke="#222" stroke-width="0.22">100</text>
<path d="M356 363.1V365.3" stroke="#000" stroke-width="1"/>
<path d="M379.38 363.1V365.3" stroke="#000" stroke-width="1"/>
<path d="M402.76 363.1V365.3" stroke="#000" stroke-width="1"/>
<path d="M426.14 363.1V365.3" stroke="#000" stroke-width="1"/>
<path d="M449.52 363.1V365.3" stroke="#000" stroke-width="1"/>
<path d="M472.9 363.1V365.3" stroke="#000" stroke-width="1"/>
<path d="M344.1 358.5H483.7" stroke="#000" stroke-width="0.9" stroke-dasharray="1.2 1.2"/>
<text transform="translate(314.5 301.6) rotate(-90)" text-anchor="middle" y="3" font-family='"Liberation Sans", sans-serif' font-size="9.4" fill="#222" stroke="#222" stroke-width="0.1">%</text>
<text x="367.4" y="376.7" text-anchor="middle" font-family='"Liberation Sans", sans-serif' font-size="8.5" fill="#222" stroke="#222" stroke-width="0.22">CD127</text>
<text x="414.5" y="376.7" text-anchor="middle" font-family='"Liberation Sans", sans-serif' font-size="8.5" fill="#222" stroke="#222" stroke-width="0.22">CD215</text>
<text x="460.8" y="376.7" text-anchor="middle" font-family='"Liberation Sans", sans-serif' font-size="8.5" fill="#222" stroke="#222" stroke-width="0.22">CD25</text>
<path d="M353 240.15L355.25 244.2L350.75 244.2Z" fill="#CF8C30"/>
<path d="M355 240.15L357.25 244.2L352.75 244.2Z" fill="#CF8C30"/>
<path d="M357 240.15L359.25 244.2L354.75 244.2Z" fill="#CF8C30"/>
<path d="M359 240.15L361.25 244.2L356.75 244.2Z" fill="#CF8C30"/>
<path d="M354 242.5L356.25 246.55L351.75 246.55Z" fill="#CF8C30"/>
<path d="M358 242.5L360.25 246.55L355.75 246.55Z" fill="#CF8C30"/>
<path d="M356 248.37L358.25 252.42L353.75 252.42Z" fill="#CF8C30"/>
<path d="M356 253.07L358.25 257.12L353.75 257.12Z" fill="#CF8C30"/>
<path d="M356 283.16L358.25 287.2L353.75 287.2Z" fill="#CF8C30"/>
<path d="M379.28 240.28L381.38 242.18L379.28 244.08L377.18 242.18Z" fill="#fff" stroke="#000" stroke-width="1.15"/>
<path d="M373.88 260.25L375.98 262.15L373.88 264.05L371.78 262.15Z" fill="#fff" stroke="#000" stroke-width="1.15"/>
<path d="M383.58 262.6L385.68 264.5L383.58 266.4L381.48 264.5Z" fill="#fff" stroke="#000" stroke-width="1.15"/>
<path d="M379.28 264.95L381.38 266.85L379.28 268.75L377.18 266.85Z" fill="#fff" stroke="#000" stroke-width="1.15"/>
<path d="M379.38 275.53L381.48 277.43L379.38 279.32L377.28 277.43Z" fill="#fff" stroke="#000" stroke-width="1.15"/>
<path d="M379.38 297.85L381.48 299.75L379.38 301.65L377.28 299.75Z" fill="#fff" stroke="#000" stroke-width="1.15"/>
<path d="M379.38 306.66L381.48 308.56L379.38 310.46L377.28 308.56Z" fill="#fff" stroke="#000" stroke-width="1.15"/>
<path d="M375.78 328.05L377.88 329.95L375.78 331.85L373.68 329.95Z" fill="#fff" stroke="#000" stroke-width="1.15"/>
<path d="M382.08 324.05L384.18 325.95L382.08 327.85L379.98 325.95Z" fill="#fff" stroke="#000" stroke-width="1.15"/>
<path d="M396.76 356.48L399.01 360.52L394.51 360.52Z" fill="#CF8C30"/>
<path d="M398.76 356.48L401.01 360.52L396.51 360.52Z" fill="#CF8C30"/>
<path d="M400.76 356.48L403.01 360.52L398.51 360.52Z" fill="#CF8C30"/>
<path d="M402.76 356.48L405.01 360.52L400.51 360.52Z" fill="#CF8C30"/>
<path d="M404.76 356.48L407.01 360.52L402.51 360.52Z" fill="#CF8C30"/>
<path d="M406.76 356.48L409.01 360.52L404.51 360.52Z" fill="#CF8C30"/>
<path d="M408.76 356.48L411.01 360.52L406.51 360.52Z" fill="#CF8C30"/>
<path d="M425.54 255.55L427.64 257.45L425.54 259.35L423.44 257.45Z" fill="#fff" stroke="#000" stroke-width="1.15"/>
<path d="M425.54 279.05L427.64 280.95L425.54 282.85L423.44 280.95Z" fill="#fff" stroke="#000" stroke-width="1.15"/>
<path d="M426.14 326.29L428.24 328.19L426.14 330.08L424.04 328.19Z" fill="#fff" stroke="#000" stroke-width="1.15"/>
<path d="M426.14 334.63L428.24 336.53L426.14 338.43L424.04 336.53Z" fill="#fff" stroke="#000" stroke-width="1.15"/>
<path d="M422.24 342.74L424.34 344.63L422.24 346.53L420.14 344.63Z" fill="#fff" stroke="#000" stroke-width="1.15"/>
<path d="M432.54 347.2L434.64 349.1L432.54 351L430.44 349.1Z" fill="#fff" stroke="#000" stroke-width="1.15"/>
<path d="M429.44 350.37L431.54 352.27L429.44 354.17L427.34 352.27Z" fill="#fff" stroke="#000" stroke-width="1.15"/>
<path d="M422.24 355.19L424.34 357.09L422.24 358.99L420.14 357.09Z" fill="#fff" stroke="#000" stroke-width="1.15"/>
<path d="M449.02 300.08L451.27 304.12L446.77 304.12Z" fill="#CF8C30"/>
<path d="M449.02 309L451.27 313.05L446.77 313.05Z" fill="#CF8C30"/>
<path d="M446.32 318.17L448.57 322.22L444.07 322.22Z" fill="#CF8C30"/>
<path d="M452.12 318.17L454.37 322.22L449.87 322.22Z" fill="#CF8C30"/>
<path d="M446.32 329.69L448.57 333.73L444.07 333.73Z" fill="#CF8C30"/>
<path d="M452.12 327.92L454.37 331.97L449.87 331.97Z" fill="#CF8C30"/>
<path d="M446.32 343.55L448.57 347.6L444.07 347.6Z" fill="#CF8C30"/>
<path d="M452.12 343.55L454.37 347.6L449.87 347.6Z" fill="#CF8C30"/>
<path d="M446.02 352.13L448.27 356.18L443.77 356.18Z" fill="#CF8C30"/>
<path d="M452.02 352.13L454.27 356.18L449.77 356.18Z" fill="#CF8C30"/>
<path d="M444.52 355.89L446.77 359.94L442.27 359.94Z" fill="#CF8C30"/>
<path d="M448.02 355.89L450.27 359.94L445.77 359.94Z" fill="#CF8C30"/>
<path d="M451.02 355.89L453.27 359.94L448.77 359.94Z" fill="#CF8C30"/>
<path d="M454.52 355.89L456.77 359.94L452.27 359.94Z" fill="#CF8C30"/>
<path d="M472.4 256.73L474.5 258.62L472.4 260.52L470.3 258.62Z" fill="#fff" stroke="#000" stroke-width="1.15"/>
<path d="M469.4 281.4L471.5 283.3L469.4 285.2L467.3 283.3Z" fill="#fff" stroke="#000" stroke-width="1.15"/>
<path d="M475.5 278.46L477.6 280.36L475.5 282.26L473.4 280.36Z" fill="#fff" stroke="#000" stroke-width="1.15"/>
<path d="M472 296.68L474.1 298.57L472 300.47L469.9 298.57Z" fill="#fff" stroke="#000" stroke-width="1.15"/>
<path d="M468.1 303.25L470.2 305.15L468.1 307.05L466 305.15Z" fill="#fff" stroke="#000" stroke-width="1.15"/>
<path d="M476.8 306.55L478.9 308.44L476.8 310.34L474.7 308.44Z" fill="#fff" stroke="#000" stroke-width="1.15"/>
<path d="M472.4 306.55L474.5 308.44L472.4 310.34L470.3 308.44Z" fill="#fff" stroke="#000" stroke-width="1.15"/>
<path d="M468 311.36L470.1 313.26L468 315.16L465.9 313.26Z" fill="#fff" stroke="#000" stroke-width="1.15"/>
<path d="M476.5 311.36L478.6 313.26L476.5 315.16L474.4 313.26Z" fill="#fff" stroke="#000" stroke-width="1.15"/>
<path d="M468 318.3L470.1 320.19L468 322.09L465.9 320.19Z" fill="#fff" stroke="#000" stroke-width="1.15"/>
<path d="M476.8 315.48L478.9 317.38L476.8 319.27L474.7 317.38Z" fill="#fff" stroke="#000" stroke-width="1.15"/>
<path d="M472.5 321.35L474.6 323.25L472.5 325.15L470.4 323.25Z" fill="#fff" stroke="#000" stroke-width="1.15"/>
<path d="M476.8 320.41L478.9 322.31L476.8 324.21L474.7 322.31Z" fill="#fff" stroke="#000" stroke-width="1.15"/>
<path d="M469.1 339.68L471.2 341.58L469.1 343.48L467 341.58Z" fill="#fff" stroke="#000" stroke-width="1.15"/>
<path d="M475.5 344.15L477.6 346.05L475.5 347.94L473.4 346.05Z" fill="#fff" stroke="#000" stroke-width="1.15"/>
<path d="M469.1 351.31L471.2 353.21L469.1 355.11L467 353.21Z" fill="#fff" stroke="#000" stroke-width="1.15"/>
<path d="M475.5 350.37L477.6 352.27L475.5 354.17L473.4 352.27Z" fill="#fff" stroke="#000" stroke-width="1.15"/>
<path d="M356 244.52V250.4M352.2 244.52H359.8M352.2 250.4H359.8M348.3 244.52H363.7" stroke="#111" stroke-width="1.3" fill="none"/>
<path d="M379.38 263.91V317.38M375.58 263.91H383.18M375.58 317.38H383.18M371.68 277.43H387.08" stroke="#111" stroke-width="1.3" fill="none"/>
<path d="M395.06 358.5H410.46" stroke="#111" stroke-width="1.3" fill="none"/>
<path d="M426.14 292.7V351.21M422.34 292.7H429.94M422.34 351.21H429.94M418.44 340.17H433.84" stroke="#111" stroke-width="1.3" fill="none"/>
<path d="M449.52 322.07V358.5M445.72 322.07H453.32M445.72 358.5H453.32M441.82 349.33H457.22" stroke="#111" stroke-width="1.3" fill="none"/>
<path d="M472.9 302.57V336.76M469.1 302.57H476.7M469.1 336.76H476.7M465.2 315.02H480.6" stroke="#111" stroke-width="1.3" fill="none"/>
<path d="M356.3 237.1V230.7H380.4V237.1" stroke="#111" stroke-width="1.2" fill="none"/>
<circle cx="366.3" cy="224.9" r="1.25" fill="#111"/>
<circle cx="370.4" cy="224.9" r="1.25" fill="#111"/>
<path d="M401.5 250.7V243.5H425.7V250.7" stroke="#111" stroke-width="1.2" fill="none"/>
<circle cx="411.55" cy="237.7" r="1.25" fill="#111"/>
<circle cx="415.65" cy="237.7" r="1.25" fill="#111"/>
<path d="M448.6 250.7V243.9H472.5V250.7" stroke="#111" stroke-width="1.2" fill="none"/>
<circle cx="458.5" cy="238.1" r="1.25" fill="#111"/>
<circle cx="462.6" cy="238.1" r="1.25" fill="#111"/>
<defs><filter id="bl" x="-50%" y="-50%" width="200%" height="200%"><feGaussianBlur stdDeviation="1.6"/></filter><filter id="bl2" x="-50%" y="-50%" width="200%" height="200%"><feGaussianBlur stdDeviation="0.9"/></filter></defs>
<path d="M45.5 249.6h1v1h-1zM44.3 243.1h1v1h-1zM43.5 242.5h1v1h-1zM45.8 255.4h1v1h-1zM43.3 244.6h1v1h-1zM47.7 250.0h1v1h-1zM46.0 242.9h1v1h-1zM45.4 251.8h1v1h-1zM39.5 245.5h1v1h-1zM36.9 240.9h1v1h-1zM37.2 246.7h1v1h-1zM39.8 249.5h1v1h-1zM46.2 247.0h1v1h-1zM45.3 248.6h1v1h-1zM38.6 245.4h1v1h-1zM41.1 243.6h1v1h-1zM50.3 243.6h1v1h-1zM45.4 252.9h1v1h-1zM42.9 247.4h1v1h-1zM46.0 248.4h1v1h-1zM40.0 248.4h1v1h-1zM51.6 239.5h1v1h-1zM49.4 248.7h1v1h-1zM42.6 259.0h1v1h-1zM48.9 241.4h1v1h-1zM45.8 251.2h1v1h-1zM44.7 251.8h1v1h-1zM45.2 251.7h1v1h-1zM52.0 244.3h1v1h-1zM46.4 245.5h1v1h-1zM46.1 241.5h1v1h-1zM42.9 246.9h1v1h-1zM49.5 254.3h1v1h-1zM39.5 243.6h1v1h-1zM48.4 237.0h1v1h-1zM43.4 247.5h1v1h-1zM51.2 251.8h1v1h-1zM44.0 246.0h1v1h-1zM44.4 256.4h1v1h-1zM43.6 246.3h1v1h-1zM47.1 247.3h1v1h-1zM44.6 241.9h1v1h-1zM45.4 245.6h1v1h-1zM50.7 251.6h1v1h-1zM45.4 251.7h1v1h-1zM44.0 253.8h1v1h-1zM45.5 251.2h1v1h-1zM39.7 249.9h1v1h-1zM37.9 236.8h1v1h-1zM44.1 243.1h1v1h-1zM46.2 260.3h1v1h-1zM41.8 244.6h1v1h-1zM46.4 250.7h1v1h-1zM44.7 246.9h1v1h-1zM48.7 250.9h1v1h-1zM40.8 247.6h1v1h-1zM45.7 242.2h1v1h-1zM46.7 243.3h1v1h-1zM49.9 249.1h1v1h-1zM45.9 244.7h1v1h-1zM45.0 237.0h1v1h-1zM40.4 250.0h1v1h-1zM37.6 252.2h1v1h-1zM41.7 252.3h1v1h-1zM46.1 239.5h1v1h-1zM51.1 255.9h1v1h-1zM45.2 246.5h1v1h-1zM44.8 242.6h1v1h-1zM50.4 245.0h1v1h-1zM45.3 243.6h1v1h-1zM42.7 241.0h1v1h-1zM51.2 247.2h1v1h-1zM49.8 248.1h1v1h-1zM42.4 246.2h1v1h-1zM43.0 248.0h1v1h-1zM43.8 246.4h1v1h-1zM39.3 243.6h1v1h-1zM52.9 244.3h1v1h-1zM40.8 249.9h1v1h-1zM51.8 240.0h1v1h-1zM44.6 244.5h1v1h-1zM37.6 252.0h1v1h-1zM45.4 248.4h1v1h-1zM42.1 250.5h1v1h-1zM43.1 247.2h1v1h-1zM40.5 241.3h1v1h-1zM51.5 245.2h1v1h-1zM46.8 247.8h1v1h-1zM43.5 245.2h1v1h-1zM48.3 246.3h1v1h-1zM44.8 248.1h1v1h-1zM50.8 251.7h1v1h-1zM47.2 244.9h1v1h-1zM39.3 253.2h1v1h-1zM49.8 247.2h1v1h-1zM47.9 252.3h1v1h-1zM49.2 253.1h1v1h-1zM43.4 256.3h1v1h-1zM39.9 252.7h1v1h-1zM47.7 252.8h1v1h-1zM54.0 256.2h1v1h-1zM40.3 238.7h1v1h-1zM49.2 242.4h1v1h-1zM45.4 252.6h1v1h-1zM38.1 236.4h1v1h-1zM46.7 248.2h1v1h-1zM44.4 248.2h1v1h-1zM41.6 239.7h1v1h-1zM44.8 242.7h1v1h-1zM38.1 250.8h1v1h-1zM45.2 250.2h1v1h-1zM41.0 244.4h1v1h-1zM41.0 243.1h1v1h-1zM46.4 243.7h1v1h-1zM47.1 249.9h1v1h-1zM54.6 240.3h1v1h-1zM49.5 247.5h1v1h-1zM45.4 240.0h1v1h-1zM43.4 252.1h1v1h-1zM45.1 248.4h1v1h-1zM44.2 254.4h1v1h-1zM45.4 235.9h1v1h-1zM42.4 237.2h1v1h-1zM51.5 248.3h1v1h-1zM40.2 242.8h1v1h-1zM50.6 248.9h1v1h-1zM45.7 247.7h1v1h-1zM45.7 252.4h1v1h-1zM48.0 249.2h1v1h-1zM40.8 250.8h1v1h-1zM42.4 254.0h1v1h-1zM39.8 247.2h1v1h-1zM45.5 240.7h1v1h-1zM53.2 256.0h1v1h-1zM43.4 252.2h1v1h-1zM47.2 233.6h1v1h-1zM46.6 247.7h1v1h-1zM45.9 242.1h1v1h-1zM44.3 247.0h1v1h-1zM50.8 249.8h1v1h-1zM45.5 256.4h1v1h-1zM43.0 245.9h1v1h-1zM37.3 256.6h1v1h-1zM49.8 253.0h1v1h-1zM48.5 248.6h1v1h-1zM46.5 246.6h1v1h-1zM44.6 248.3h1v1h-1zM52.3 251.1h1v1h-1zM45.2 244.8h1v1h-1zM42.6 256.8h1v1h-1zM47.8 248.4h1v1h-1zM43.9 241.9h1v1h-1zM45.2 252.8h1v1h-1zM43.7 246.8h1v1h-1zM44.5 248.6h1v1h-1zM38.3 246.7h1v1h-1zM41.7 252.9h1v1h-1zM42.0 251.2h1v1h-1zM52.4 246.3h1v1h-1zM42.8 249.1h1v1h-1zM45.5 242.5h1v1h-1zM47.6 259.1h1v1h-1zM44.3 246.9h1v1h-1zM40.8 249.8h1v1h-1zM39.9 241.9h1v1h-1zM51.3 243.0h1v1h-1zM50.4 256.4h1v1h-1zM46.7 251.0h1v1h-1zM54.3 246.9h1v1h-1zM42.8 240.6h1v1h-1zM45.7 256.1h1v1h-1zM49.8 242.8h1v1h-1zM41.7 245.2h1v1h-1zM46.8 246.9h1v1h-1zM46.5 249.6h1v1h-1zM44.2 247.8h1v1h-1zM46.4 247.5h1v1h-1zM47.8 258.3h1v1h-1zM48.2 248.3h1v1h-1zM37.9 250.1h1v1h-1zM49.3 251.9h1v1h-1zM44.8 238.6h1v1h-1zM43.8 244.3h1v1h-1zM48.4 260.4h1v1h-1zM46.5 243.7h1v1h-1zM40.2 247.7h1v1h-1zM44.7 241.7h1v1h-1zM46.0 241.7h1v1h-1zM50.5 253.8h1v1h-1zM50.4 245.4h1v1h-1zM47.8 247.3h1v1h-1zM43.8 246.1h1v1h-1zM39.7 240.1h1v1h-1zM49.1 246.9h1v1h-1zM46.5 253.5h1v1h-1zM37.7 243.7h1v1h-1zM46.3 250.2h1v1h-1zM43.8 253.7h1v1h-1zM46.4 241.3h1v1h-1zM41.3 252.4h1v1h-1zM47.6 237.6h1v1h-1zM51.6 251.3h1v1h-1zM51.5 245.9h1v1h-1zM44.2 241.8h1v1h-1zM56.9 247.0h1v1h-1zM52.6 244.4h1v1h-1zM46.2 238.8h1v1h-1zM43.8 253.4h1v1h-1zM39.9 253.9h1v1h-1zM47.0 242.3h1v1h-1zM43.2 245.5h1v1h-1zM45.3 245.1h1v1h-1zM41.8 246.3h1v1h-1zM40.9 240.9h1v1h-1zM45.3 252.9h1v1h-1zM38.6 248.0h1v1h-1zM42.6 242.6h1v1h-1zM49.3 245.2h1v1h-1zM52.2 243.7h1v1h-1zM47.2 246.7h1v1h-1zM42.1 251.2h1v1h-1zM44.8 251.3h1v1h-1zM45.3 242.0h1v1h-1zM45.0 248.3h1v1h-1zM49.8 243.0h1v1h-1zM45.3 238.5h1v1h-1zM48.4 242.1h1v1h-1zM37.4 247.7h1v1h-1zM50.5 239.6h1v1h-1zM40.6 243.9h1v1h-1zM40.4 250.1h1v1h-1zM41.9 244.0h1v1h-1zM48.1 243.8h1v1h-1zM47.4 242.7h1v1h-1zM40.0 237.9h1v1h-1zM53.9 246.2h1v1h-1zM46.6 247.8h1v1h-1zM46.2 248.3h1v1h-1zM54.1 242.3h1v1h-1zM38.5 242.4h1v1h-1zM39.5 252.1h1v1h-1zM49.2 242.7h1v1h-1zM39.2 246.0h1v1h-1zM51.8 232.5h1v1h-1zM47.9 242.1h1v1h-1zM50.2 242.1h1v1h-1zM44.2 239.7h1v1h-1zM41.1 255.6h1v1h-1zM49.2 245.8h1v1h-1zM41.6 237.6h1v1h-1zM43.7 247.8h1v1h-1zM45.1 247.5h1v1h-1zM40.5 247.6h1v1h-1zM45.3 255.1h1v1h-1zM53.9 247.2h1v1h-1zM42.1 247.6h1v1h-1zM42.8 243.9h1v1h-1zM45.2 242.3h1v1h-1zM48.2 247.4h1v1h-1zM46.6 247.0h1v1h-1zM42.2 242.8h1v1h-1zM44.4 245.0h1v1h-1zM46.6 248.0h1v1h-1zM39.4 248.4h1v1h-1zM39.5 244.6h1v1h-1zM44.2 236.6h1v1h-1zM45.9 248.8h1v1h-1zM44.8 245.7h1v1h-1zM43.8 242.6h1v1h-1zM44.3 245.0h1v1h-1zM45.9 241.4h1v1h-1zM46.6 248.8h1v1h-1zM44.9 245.6h1v1h-1zM48.0 238.8h1v1h-1zM47.6 249.3h1v1h-1zM46.8 250.1h1v1h-1zM42.6 246.6h1v1h-1zM48.4 250.4h1v1h-1zM46.4 239.7h1v1h-1zM47.9 254.4h1v1h-1zM50.0 249.3h1v1h-1zM38.5 253.2h1v1h-1zM44.8 234.1h1v1h-1zM47.2 239.8h1v1h-1zM39.7 244.5h1v1h-1zM51.2 246.0h1v1h-1zM46.7 257.6h1v1h-1zM52.7 247.4h1v1h-1zM44.4 241.1h1v1h-1zM42.4 250.3h1v1h-1zM47.3 248.6h1v1h-1zM50.0 243.8h1v1h-1zM45.2 252.0h1v1h-1zM48.1 253.9h1v1h-1zM47.3 246.3h1v1h-1zM47.1 242.5h1v1h-1zM38.1 251.2h1v1h-1zM45.3 249.7h1v1h-1zM37.9 246.0h1v1h-1zM42.8 243.2h1v1h-1zM49.5 250.1h1v1h-1zM42.8 247.9h1v1h-1zM48.9 232.8h1v1h-1zM44.9 251.0h1v1h-1zM48.6 257.4h1v1h-1zM50.6 249.7h1v1h-1zM46.9 252.3h1v1h-1zM43.1 247.8h1v1h-1zM49.6 258.8h1v1h-1zM44.8 247.7h1v1h-1zM46.4 255.4h1v1h-1zM45.4 256.1h1v1h-1zM41.2 247.0h1v1h-1zM44.6 252.3h1v1h-1zM50.2 239.7h1v1h-1zM41.4 249.9h1v1h-1zM42.5 239.6h1v1h-1zM50.2 250.7h1v1h-1zM47.7 245.4h1v1h-1zM50.1 246.7h1v1h-1zM50.4 243.0h1v1h-1zM41.7 249.1h1v1h-1zM42.3 251.7h1v1h-1zM46.7 242.9h1v1h-1zM45.8 246.1h1v1h-1zM49.6 244.5h1v1h-1zM43.5 254.7h1v1h-1zM55.6 259.0h1v1h-1zM45.8 249.2h1v1h-1zM52.4 247.3h1v1h-1zM41.1 248.6h1v1h-1zM47.5 243.4h1v1h-1zM38.1 240.1h1v1h-1zM48.5 243.8h1v1h-1zM44.9 249.2h1v1h-1zM48.3 246.2h1v1h-1zM47.7 243.1h1v1h-1zM43.9 242.4h1v1h-1zM50.6 247.9h1v1h-1zM42.2 246.1h1v1h-1zM44.5 251.9h1v1h-1zM38.3 242.3h1v1h-1zM43.8 261.9h1v1h-1zM49.8 247.4h1v1h-1zM48.7 259.3h1v1h-1zM44.4 246.0h1v1h-1zM51.0 250.7h1v1h-1zM48.5 245.2h1v1h-1zM54.2 257.4h1v1h-1zM48.0 251.8h1v1h-1zM44.6 250.4h1v1h-1zM48.6 246.1h1v1h-1zM37.9 250.0h1v1h-1zM42.2 246.2h1v1h-1zM42.8 246.1h1v1h-1zM46.6 254.1h1v1h-1zM54.4 248.1h1v1h-1zM37.4 243.1h1v1h-1zM40.1 245.2h1v1h-1zM45.9 237.0h1v1h-1zM47.0 239.7h1v1h-1zM46.8 247.4h1v1h-1zM44.1 247.6h1v1h-1zM43.1 244.6h1v1h-1zM37.9 247.8h1v1h-1zM53.8 258.9h1v1h-1zM51.4 251.9h1v1h-1zM42.5 255.9h1v1h-1zM45.2 247.6h1v1h-1zM44.2 248.5h1v1h-1zM43.5 247.5h1v1h-1zM40.6 245.9h1v1h-1zM55.8 247.6h1v1h-1zM44.4 250.9h1v1h-1zM48.7 241.9h1v1h-1zM44.6 253.1h1v1h-1zM46.7 248.7h1v1h-1zM52.5 244.3h1v1h-1zM45.9 245.1h1v1h-1zM52.2 237.3h1v1h-1zM42.5 245.1h1v1h-1zM48.5 251.3h1v1h-1zM51.8 239.3h1v1h-1zM48.9 246.4h1v1h-1zM42.5 251.0h1v1h-1zM41.4 236.6h1v1h-1zM43.8 239.8h1v1h-1zM42.6 250.0h1v1h-1zM46.9 256.7h1v1h-1zM44.6 239.6h1v1h-1zM42.1 242.9h1v1h-1zM40.0 250.4h1v1h-1zM42.6 237.1h1v1h-1zM48.6 247.4h1v1h-1zM47.1 248.6h1v1h-1zM48.3 248.2h1v1h-1zM51.1 250.3h1v1h-1zM47.3 250.3h1v1h-1zM38.9 247.1h1v1h-1zM44.3 249.1h1v1h-1zM39.4 257.0h1v1h-1zM46.0 241.3h1v1h-1zM37.8 246.5h1v1h-1zM45.1 244.0h1v1h-1zM45.9 244.5h1v1h-1zM48.0 244.0h1v1h-1zM45.3 253.4h1v1h-1zM57.1 242.5h1v1h-1zM43.4 243.4h1v1h-1zM49.0 241.7h1v1h-1zM43.3 247.8h1v1h-1zM41.1 242.7h1v1h-1zM43.4 236.4h1v1h-1z" fill="#5a5a5a" fill-opacity="0.35"/>
<path d="M40.0 250.3h1v1h-1zM54.3 252.3h1v1h-1zM37.0 249.8h1v1h-1zM60.2 259.0h1v1h-1zM52.3 246.0h1v1h-1zM58.7 248.8h1v1h-1zM42.5 246.8h1v1h-1zM66.0 256.0h1v1h-1zM63.4 249.7h1v1h-1zM61.4 248.6h1v1h-1zM59.9 249.5h1v1h-1zM52.2 256.9h1v1h-1zM63.9 249.6h1v1h-1zM37.3 251.5h1v1h-1zM53.1 255.0h1v1h-1zM64.9 256.9h1v1h-1zM60.3 244.1h1v1h-1zM60.8 272.9h1v1h-1zM60.0 256.3h1v1h-1zM54.4 270.1h1v1h-1zM44.7 253.0h1v1h-1zM57.1 260.7h1v1h-1zM49.1 256.8h1v1h-1zM50.5 255.1h1v1h-1zM51.8 243.7h1v1h-1zM52.8 261.9h1v1h-1zM44.3 251.8h1v1h-1zM59.0 244.4h1v1h-1zM54.6 244.5h1v1h-1zM71.2 252.0h1v1h-1zM59.7 255.1h1v1h-1zM53.9 267.9h1v1h-1zM41.1 263.5h1v1h-1zM52.6 266.7h1v1h-1zM54.7 247.9h1v1h-1zM55.5 260.6h1v1h-1zM53.3 258.4h1v1h-1zM48.3 234.8h1v1h-1zM61.1 260.3h1v1h-1zM54.3 254.6h1v1h-1zM62.3 249.9h1v1h-1zM46.6 252.3h1v1h-1zM63.7 241.5h1v1h-1zM63.7 248.2h1v1h-1zM43.1 265.3h1v1h-1zM52.1 242.3h1v1h-1zM49.8 262.4h1v1h-1zM63.7 250.2h1v1h-1zM56.7 260.4h1v1h-1zM47.2 257.2h1v1h-1zM52.7 249.2h1v1h-1zM48.6 254.6h1v1h-1zM53.3 248.9h1v1h-1zM49.2 264.0h1v1h-1zM54.9 262.0h1v1h-1zM63.8 259.3h1v1h-1zM73.4 246.6h1v1h-1zM60.3 251.1h1v1h-1zM69.7 269.3h1v1h-1zM59.0 261.1h1v1h-1zM59.6 253.4h1v1h-1zM57.1 259.9h1v1h-1zM52.3 263.2h1v1h-1zM43.7 262.6h1v1h-1zM50.9 246.0h1v1h-1zM56.4 245.8h1v1h-1zM44.8 239.9h1v1h-1zM52.8 258.5h1v1h-1zM62.2 252.7h1v1h-1zM62.4 254.2h1v1h-1zM52.2 259.2h1v1h-1zM62.5 250.9h1v1h-1zM50.8 252.6h1v1h-1zM53.7 245.9h1v1h-1zM62.3 250.4h1v1h-1zM57.2 246.6h1v1h-1zM56.2 257.5h1v1h-1zM49.2 272.2h1v1h-1zM56.3 270.0h1v1h-1zM61.6 248.0h1v1h-1zM49.6 257.9h1v1h-1zM53.6 254.4h1v1h-1zM50.4 237.7h1v1h-1zM51.0 234.0h1v1h-1zM56.3 247.5h1v1h-1zM46.6 252.0h1v1h-1zM55.5 241.1h1v1h-1zM37.3 244.4h1v1h-1zM67.3 244.5h1v1h-1zM58.9 241.7h1v1h-1zM55.7 251.1h1v1h-1zM52.5 259.1h1v1h-1zM68.8 255.8h1v1h-1zM54.1 245.2h1v1h-1zM58.3 251.8h1v1h-1zM60.5 253.6h1v1h-1zM68.7 236.2h1v1h-1zM50.3 261.9h1v1h-1zM49.8 246.9h1v1h-1zM50.6 241.6h1v1h-1zM63.3 244.0h1v1h-1zM45.1 250.4h1v1h-1zM62.0 246.6h1v1h-1zM46.8 262.0h1v1h-1zM60.8 250.6h1v1h-1zM42.9 240.1h1v1h-1zM46.7 233.9h1v1h-1zM59.7 248.3h1v1h-1zM57.3 270.8h1v1h-1zM63.6 243.6h1v1h-1zM60.8 264.4h1v1h-1zM46.3 245.4h1v1h-1zM52.0 239.6h1v1h-1zM66.2 232.4h1v1h-1zM43.0 251.6h1v1h-1zM51.0 255.5h1v1h-1zM55.4 252.1h1v1h-1zM63.2 234.7h1v1h-1zM53.0 247.6h1v1h-1zM54.2 256.0h1v1h-1zM44.8 248.2h1v1h-1zM60.1 257.1h1v1h-1zM46.9 272.4h1v1h-1zM73.8 240.8h1v1h-1zM60.1 256.0h1v1h-1zM51.1 249.1h1v1h-1zM51.1 249.0h1v1h-1zM59.7 250.4h1v1h-1zM49.0 243.2h1v1h-1zM52.6 246.0h1v1h-1zM51.4 263.4h1v1h-1zM56.3 258.5h1v1h-1zM56.2 254.5h1v1h-1zM51.9 251.2h1v1h-1zM59.8 244.2h1v1h-1zM65.1 254.3h1v1h-1zM46.3 249.6h1v1h-1zM46.9 255.4h1v1h-1zM46.5 264.3h1v1h-1zM46.0 233.5h1v1h-1zM46.4 235.9h1v1h-1zM52.6 263.5h1v1h-1zM58.8 242.0h1v1h-1zM46.1 270.0h1v1h-1zM55.9 254.0h1v1h-1zM64.7 255.3h1v1h-1zM56.2 259.6h1v1h-1zM47.5 244.5h1v1h-1zM53.5 245.5h1v1h-1zM52.4 254.9h1v1h-1zM74.1 246.3h1v1h-1zM51.9 252.5h1v1h-1zM56.9 263.4h1v1h-1zM48.6 246.6h1v1h-1zM38.2 245.7h1v1h-1zM57.8 254.4h1v1h-1zM43.9 250.6h1v1h-1zM53.3 258.5h1v1h-1zM47.7 251.7h1v1h-1zM67.6 234.3h1v1h-1zM50.0 256.0h1v1h-1zM49.6 246.7h1v1h-1zM52.5 254.0h1v1h-1zM52.3 237.1h1v1h-1zM51.7 246.3h1v1h-1zM48.1 256.0h1v1h-1zM58.8 262.1h1v1h-1zM48.5 262.3h1v1h-1zM63.6 264.2h1v1h-1zM65.5 252.7h1v1h-1zM51.4 261.4h1v1h-1zM40.7 255.9h1v1h-1zM48.2 250.7h1v1h-1zM37.3 246.0h1v1h-1zM52.8 262.0h1v1h-1zM61.9 253.3h1v1h-1zM51.3 246.5h1v1h-1zM56.6 251.8h1v1h-1zM58.5 269.8h1v1h-1zM52.7 240.5h1v1h-1zM45.3 240.9h1v1h-1zM42.2 265.7h1v1h-1zM55.0 240.3h1v1h-1zM58.9 265.3h1v1h-1zM49.8 247.9h1v1h-1zM50.0 256.6h1v1h-1zM58.8 264.6h1v1h-1zM63.9 264.7h1v1h-1zM65.3 260.0h1v1h-1zM39.2 252.8h1v1h-1zM55.8 250.6h1v1h-1zM61.2 250.8h1v1h-1zM44.7 267.0h1v1h-1zM59.0 256.0h1v1h-1zM61.3 263.6h1v1h-1zM56.1 231.9h1v1h-1zM46.9 249.9h1v1h-1zM44.1 255.8h1v1h-1zM63.7 249.6h1v1h-1zM42.8 272.3h1v1h-1zM48.9 242.9h1v1h-1zM55.1 257.8h1v1h-1zM46.7 261.1h1v1h-1zM48.6 245.7h1v1h-1zM54.6 260.9h1v1h-1zM47.3 257.0h1v1h-1zM46.6 266.5h1v1h-1zM52.5 252.9h1v1h-1zM59.5 262.0h1v1h-1zM64.4 257.0h1v1h-1zM47.6 249.2h1v1h-1zM57.6 259.2h1v1h-1zM65.6 257.8h1v1h-1zM62.5 267.7h1v1h-1zM54.5 240.6h1v1h-1zM42.4 241.1h1v1h-1zM67.3 246.4h1v1h-1zM64.1 259.3h1v1h-1zM68.4 263.0h1v1h-1zM52.1 252.2h1v1h-1zM53.8 255.6h1v1h-1zM48.2 253.7h1v1h-1zM67.5 238.7h1v1h-1zM55.3 245.8h1v1h-1zM54.7 261.6h1v1h-1zM52.5 261.0h1v1h-1zM38.7 264.0h1v1h-1zM47.6 259.6h1v1h-1zM54.6 230.7h1v1h-1zM46.2 256.0h1v1h-1zM67.0 256.6h1v1h-1zM55.3 241.3h1v1h-1zM65.9 270.3h1v1h-1zM53.3 252.0h1v1h-1zM38.4 261.9h1v1h-1zM77.3 260.5h1v1h-1zM64.4 258.9h1v1h-1zM44.1 266.0h1v1h-1zM41.9 252.1h1v1h-1zM55.5 261.9h1v1h-1zM56.7 257.5h1v1h-1zM46.1 242.4h1v1h-1zM53.6 247.6h1v1h-1zM41.2 242.6h1v1h-1zM48.6 237.3h1v1h-1zM40.9 239.3h1v1h-1zM54.6 257.7h1v1h-1zM71.1 240.5h1v1h-1zM46.9 262.2h1v1h-1zM51.0 251.1h1v1h-1z" fill="#5a5a5a" fill-opacity="0.2"/>
<ellipse cx="47" cy="246.5" rx="4.5" ry="5" transform="rotate(0 47 246.5)" fill="#666" fill-opacity="0.5" filter="url(#bl)"/>
<path d="M68.9 239.1h1v1h-1zM50.5 244.6h1v1h-1zM62.6 246.1h1v1h-1zM50.1 246.6h1v1h-1zM64.3 246.5h1v1h-1zM57.8 250.5h1v1h-1zM59.2 237.2h1v1h-1zM59.2 248.6h1v1h-1zM52.0 239.5h1v1h-1zM60.1 249.9h1v1h-1zM64.0 232.3h1v1h-1zM72.2 233.1h1v1h-1zM68.2 247.7h1v1h-1zM65.9 243.4h1v1h-1zM54.9 252.2h1v1h-1zM50.3 238.5h1v1h-1zM77.5 239.6h1v1h-1zM68.2 236.5h1v1h-1zM71.8 247.4h1v1h-1zM68.7 240.9h1v1h-1zM52.8 249.2h1v1h-1zM43.8 246.5h1v1h-1zM58.3 241.8h1v1h-1zM58.8 246.1h1v1h-1zM73.8 244.8h1v1h-1zM62.5 250.9h1v1h-1zM54.9 247.2h1v1h-1zM62.3 238.2h1v1h-1zM55.5 241.8h1v1h-1zM64.3 252.0h1v1h-1zM56.3 249.3h1v1h-1zM52.4 244.4h1v1h-1zM56.3 255.7h1v1h-1zM74.4 240.2h1v1h-1zM57.6 251.1h1v1h-1zM59.9 250.2h1v1h-1zM62.3 246.1h1v1h-1zM62.1 241.8h1v1h-1zM53.9 240.6h1v1h-1zM54.3 241.9h1v1h-1zM57.0 242.7h1v1h-1zM61.6 247.4h1v1h-1zM50.2 247.4h1v1h-1zM56.4 252.0h1v1h-1zM71.5 243.8h1v1h-1zM61.3 252.8h1v1h-1zM54.9 256.8h1v1h-1zM50.1 237.3h1v1h-1zM78.5 243.5h1v1h-1zM54.6 250.0h1v1h-1zM59.0 247.1h1v1h-1zM50.1 248.2h1v1h-1zM63.1 245.3h1v1h-1zM66.9 242.4h1v1h-1zM71.6 235.6h1v1h-1zM57.1 237.7h1v1h-1zM55.9 255.3h1v1h-1zM55.9 251.1h1v1h-1zM57.3 242.1h1v1h-1zM56.9 245.1h1v1h-1zM59.0 250.5h1v1h-1zM62.4 241.6h1v1h-1zM55.5 250.0h1v1h-1zM61.8 250.3h1v1h-1zM76.8 240.7h1v1h-1zM59.4 245.4h1v1h-1zM53.1 245.3h1v1h-1zM53.5 247.7h1v1h-1zM59.3 250.3h1v1h-1zM57.3 246.5h1v1h-1zM56.8 256.4h1v1h-1zM66.9 251.3h1v1h-1zM67.8 249.2h1v1h-1zM60.2 249.6h1v1h-1zM72.5 232.4h1v1h-1zM70.4 248.8h1v1h-1zM64.1 247.6h1v1h-1zM65.7 239.2h1v1h-1zM60.4 241.2h1v1h-1zM54.7 245.8h1v1h-1zM59.5 247.1h1v1h-1zM59.3 238.8h1v1h-1zM74.1 244.0h1v1h-1zM63.4 242.2h1v1h-1zM60.7 248.5h1v1h-1zM58.5 237.9h1v1h-1zM71.0 255.2h1v1h-1zM51.6 256.1h1v1h-1zM61.9 244.3h1v1h-1zM65.2 236.7h1v1h-1z" fill="#EE9A1E" fill-opacity="0.3"/>
<ellipse cx="59.6" cy="246.2" rx="9.2" ry="5.8" transform="rotate(-30 59.6 246.2)" fill="#EC941A" fill-opacity="1" filter="url(#bl)"/>
<path d="M155.4 247.3h1v1h-1zM147.9 240.9h1v1h-1zM148.9 239.9h1v1h-1zM152.5 233.8h1v1h-1zM149.0 234.5h1v1h-1zM152.0 239.6h1v1h-1zM140.8 249.7h1v1h-1zM144.8 243.4h1v1h-1zM151.8 233.0h1v1h-1zM151.0 250.8h1v1h-1zM155.5 247.7h1v1h-1zM148.2 237.6h1v1h-1zM153.8 247.0h1v1h-1zM153.3 239.2h1v1h-1zM149.8 241.4h1v1h-1zM154.3 251.3h1v1h-1zM146.3 237.5h1v1h-1zM150.7 246.3h1v1h-1zM151.8 239.6h1v1h-1zM147.7 244.1h1v1h-1zM139.8 241.9h1v1h-1zM151.2 237.7h1v1h-1zM155.4 245.7h1v1h-1zM152.4 240.1h1v1h-1zM159.7 238.3h1v1h-1zM151.2 245.9h1v1h-1zM148.6 237.4h1v1h-1zM149.7 241.1h1v1h-1zM142.5 247.2h1v1h-1zM147.5 241.1h1v1h-1zM143.0 245.5h1v1h-1zM150.2 242.5h1v1h-1zM148.1 247.9h1v1h-1zM145.0 244.7h1v1h-1zM152.3 235.4h1v1h-1zM151.7 247.7h1v1h-1zM147.7 242.0h1v1h-1zM154.2 245.5h1v1h-1zM139.5 245.3h1v1h-1zM142.9 240.7h1v1h-1zM144.2 241.2h1v1h-1zM148.1 237.6h1v1h-1zM151.8 243.2h1v1h-1zM147.9 244.7h1v1h-1zM156.8 238.4h1v1h-1zM147.5 243.6h1v1h-1zM147.7 245.8h1v1h-1zM150.3 236.2h1v1h-1zM152.9 247.0h1v1h-1zM148.9 244.2h1v1h-1zM143.7 241.8h1v1h-1zM155.2 251.8h1v1h-1zM146.9 241.2h1v1h-1zM147.5 243.0h1v1h-1zM152.9 240.8h1v1h-1zM157.8 236.9h1v1h-1zM155.9 238.9h1v1h-1zM147.4 234.7h1v1h-1zM149.3 242.1h1v1h-1zM142.2 234.5h1v1h-1zM151.8 238.0h1v1h-1zM147.7 242.3h1v1h-1zM150.5 244.2h1v1h-1zM142.6 242.1h1v1h-1zM151.5 241.7h1v1h-1zM146.9 240.9h1v1h-1zM146.9 244.2h1v1h-1zM150.7 234.5h1v1h-1zM158.0 240.8h1v1h-1zM151.0 246.3h1v1h-1zM139.4 239.6h1v1h-1zM144.2 244.2h1v1h-1zM147.2 241.0h1v1h-1zM143.5 233.5h1v1h-1zM147.1 235.1h1v1h-1zM146.4 242.3h1v1h-1zM141.6 240.1h1v1h-1zM146.5 244.9h1v1h-1zM153.8 242.5h1v1h-1zM144.0 241.8h1v1h-1zM148.3 246.4h1v1h-1zM147.0 252.6h1v1h-1zM145.8 240.4h1v1h-1zM154.5 245.0h1v1h-1zM154.6 245.0h1v1h-1zM154.4 246.3h1v1h-1zM154.0 238.0h1v1h-1zM155.5 238.5h1v1h-1zM147.3 238.2h1v1h-1zM151.5 245.8h1v1h-1zM147.6 248.3h1v1h-1zM152.1 242.1h1v1h-1zM142.1 248.0h1v1h-1zM149.8 237.2h1v1h-1zM142.7 232.6h1v1h-1zM150.2 237.5h1v1h-1zM147.1 232.4h1v1h-1zM151.6 239.1h1v1h-1zM149.8 236.1h1v1h-1zM155.1 252.4h1v1h-1zM144.9 241.7h1v1h-1zM145.8 238.9h1v1h-1zM159.6 245.2h1v1h-1zM142.0 237.4h1v1h-1zM157.6 242.9h1v1h-1zM156.5 244.1h1v1h-1zM146.5 243.9h1v1h-1zM140.7 240.6h1v1h-1zM151.2 236.6h1v1h-1zM158.1 235.7h1v1h-1zM150.4 246.9h1v1h-1zM157.8 238.7h1v1h-1zM147.0 246.9h1v1h-1zM153.2 236.1h1v1h-1zM150.6 248.1h1v1h-1zM146.9 237.4h1v1h-1zM146.3 240.2h1v1h-1zM151.4 241.6h1v1h-1zM156.2 241.4h1v1h-1zM145.9 248.1h1v1h-1zM154.6 241.2h1v1h-1zM151.8 236.9h1v1h-1zM149.7 248.3h1v1h-1zM139.4 236.8h1v1h-1zM151.2 236.3h1v1h-1zM144.5 237.5h1v1h-1zM141.7 241.4h1v1h-1zM149.9 244.5h1v1h-1zM144.5 251.5h1v1h-1zM142.5 241.3h1v1h-1zM152.1 239.8h1v1h-1zM150.6 253.5h1v1h-1zM147.8 245.4h1v1h-1zM155.2 246.8h1v1h-1zM151.7 247.2h1v1h-1zM151.0 248.4h1v1h-1zM146.2 242.8h1v1h-1zM157.6 237.7h1v1h-1zM157.6 250.3h1v1h-1zM148.6 237.8h1v1h-1zM148.7 235.3h1v1h-1zM157.8 243.4h1v1h-1zM146.0 241.3h1v1h-1zM150.7 241.5h1v1h-1zM148.5 247.0h1v1h-1zM141.6 246.2h1v1h-1zM147.7 242.1h1v1h-1zM147.1 236.4h1v1h-1zM151.4 239.6h1v1h-1zM143.4 238.6h1v1h-1zM147.1 246.8h1v1h-1zM146.9 245.0h1v1h-1zM157.0 242.9h1v1h-1zM154.4 236.4h1v1h-1zM149.5 249.0h1v1h-1zM154.7 245.4h1v1h-1zM153.9 246.5h1v1h-1zM155.2 242.3h1v1h-1zM153.0 242.1h1v1h-1zM151.5 242.2h1v1h-1zM151.8 237.2h1v1h-1zM155.6 236.6h1v1h-1zM153.1 238.8h1v1h-1zM155.7 250.5h1v1h-1zM144.8 238.0h1v1h-1zM146.5 242.9h1v1h-1zM158.1 236.6h1v1h-1zM150.0 235.5h1v1h-1zM153.4 243.6h1v1h-1zM154.0 234.1h1v1h-1zM153.1 241.4h1v1h-1zM146.4 244.9h1v1h-1zM141.6 233.9h1v1h-1zM153.8 242.3h1v1h-1zM144.2 238.1h1v1h-1zM156.0 238.7h1v1h-1zM158.0 244.5h1v1h-1zM150.8 246.6h1v1h-1zM149.0 242.5h1v1h-1zM149.7 242.2h1v1h-1zM154.2 239.3h1v1h-1zM148.6 241.4h1v1h-1zM148.3 237.6h1v1h-1zM148.1 243.3h1v1h-1zM147.7 243.2h1v1h-1zM154.3 251.4h1v1h-1zM156.0 239.9h1v1h-1zM156.9 250.5h1v1h-1zM150.8 240.7h1v1h-1zM152.0 242.3h1v1h-1zM154.8 237.8h1v1h-1zM154.4 232.5h1v1h-1zM149.2 236.2h1v1h-1zM155.2 235.5h1v1h-1zM152.8 245.7h1v1h-1zM150.8 234.1h1v1h-1zM144.3 237.7h1v1h-1zM150.1 241.2h1v1h-1zM146.6 240.4h1v1h-1zM146.3 240.3h1v1h-1zM156.7 246.3h1v1h-1zM143.0 247.1h1v1h-1zM150.1 245.1h1v1h-1zM146.2 244.2h1v1h-1zM148.7 247.7h1v1h-1zM149.8 241.1h1v1h-1zM150.5 240.0h1v1h-1zM146.6 248.8h1v1h-1zM150.5 240.6h1v1h-1zM157.3 243.8h1v1h-1zM143.7 242.2h1v1h-1zM159.9 243.0h1v1h-1zM143.7 239.6h1v1h-1zM146.2 241.9h1v1h-1zM144.6 246.7h1v1h-1zM141.7 241.1h1v1h-1zM151.0 236.7h1v1h-1zM151.8 244.6h1v1h-1zM151.7 238.4h1v1h-1zM147.5 238.7h1v1h-1zM158.1 239.4h1v1h-1zM146.2 245.2h1v1h-1zM154.0 241.8h1v1h-1zM160.7 242.0h1v1h-1zM147.9 243.2h1v1h-1zM146.4 246.7h1v1h-1zM159.2 251.9h1v1h-1zM143.6 233.7h1v1h-1zM148.0 244.4h1v1h-1zM142.9 242.3h1v1h-1zM149.8 244.4h1v1h-1zM146.6 239.1h1v1h-1zM151.0 237.7h1v1h-1zM143.8 238.2h1v1h-1zM149.4 246.8h1v1h-1zM144.2 246.4h1v1h-1zM151.3 238.5h1v1h-1zM147.2 237.0h1v1h-1zM158.1 242.4h1v1h-1zM145.2 234.6h1v1h-1zM149.5 248.8h1v1h-1zM156.9 238.2h1v1h-1zM152.3 236.1h1v1h-1zM149.4 242.6h1v1h-1zM146.5 234.9h1v1h-1zM157.5 244.3h1v1h-1zM141.7 240.1h1v1h-1zM149.1 238.5h1v1h-1zM144.4 252.0h1v1h-1zM149.0 239.7h1v1h-1zM157.7 236.4h1v1h-1zM147.7 244.6h1v1h-1zM144.0 242.1h1v1h-1zM149.6 238.8h1v1h-1zM153.8 249.7h1v1h-1zM155.5 242.6h1v1h-1zM153.4 242.3h1v1h-1zM155.0 237.7h1v1h-1zM153.3 233.0h1v1h-1zM144.7 237.5h1v1h-1zM150.5 245.0h1v1h-1zM152.9 235.3h1v1h-1zM148.9 240.6h1v1h-1zM143.6 239.6h1v1h-1zM144.6 235.2h1v1h-1zM150.4 241.8h1v1h-1zM144.5 240.0h1v1h-1zM151.2 253.2h1v1h-1zM150.4 251.8h1v1h-1zM150.9 238.9h1v1h-1zM149.4 249.3h1v1h-1zM153.0 233.4h1v1h-1zM152.4 246.9h1v1h-1zM157.6 248.7h1v1h-1zM149.8 245.7h1v1h-1zM152.4 253.6h1v1h-1zM140.4 235.7h1v1h-1zM149.1 241.8h1v1h-1zM155.5 235.2h1v1h-1zM151.9 244.3h1v1h-1zM155.3 237.2h1v1h-1zM155.2 241.0h1v1h-1zM149.2 243.2h1v1h-1zM147.2 238.4h1v1h-1zM149.7 233.2h1v1h-1zM157.1 242.3h1v1h-1zM147.2 239.3h1v1h-1zM150.7 244.5h1v1h-1zM153.5 240.9h1v1h-1zM151.6 237.0h1v1h-1zM145.8 235.3h1v1h-1zM153.1 240.4h1v1h-1zM152.3 247.7h1v1h-1zM143.3 229.2h1v1h-1zM145.5 236.3h1v1h-1zM161.7 248.4h1v1h-1zM148.5 243.8h1v1h-1zM150.3 244.1h1v1h-1zM156.4 245.1h1v1h-1zM151.6 250.9h1v1h-1zM147.7 245.8h1v1h-1zM156.3 241.4h1v1h-1zM144.5 242.0h1v1h-1zM148.2 243.1h1v1h-1zM149.8 233.7h1v1h-1zM153.6 243.0h1v1h-1zM153.4 242.2h1v1h-1zM156.8 239.5h1v1h-1zM154.8 241.7h1v1h-1zM150.1 229.5h1v1h-1zM153.6 237.3h1v1h-1zM145.9 239.1h1v1h-1zM142.3 245.9h1v1h-1zM149.2 245.9h1v1h-1zM149.5 251.7h1v1h-1zM150.1 240.3h1v1h-1zM145.0 241.0h1v1h-1zM144.4 243.2h1v1h-1zM149.5 241.3h1v1h-1zM144.3 245.1h1v1h-1zM147.4 245.2h1v1h-1zM158.4 239.0h1v1h-1zM143.7 236.7h1v1h-1zM139.7 239.6h1v1h-1zM150.0 237.0h1v1h-1zM148.2 239.4h1v1h-1zM154.8 247.1h1v1h-1zM146.5 242.7h1v1h-1zM150.0 247.7h1v1h-1zM142.8 240.6h1v1h-1zM140.7 240.6h1v1h-1zM159.9 250.5h1v1h-1zM149.6 248.5h1v1h-1zM147.3 237.1h1v1h-1zM148.3 241.9h1v1h-1zM153.8 251.4h1v1h-1zM144.7 249.0h1v1h-1zM149.3 238.8h1v1h-1zM153.3 244.9h1v1h-1zM151.9 243.2h1v1h-1zM145.9 232.2h1v1h-1zM162.4 246.5h1v1h-1zM156.6 243.0h1v1h-1zM144.8 245.6h1v1h-1zM145.3 242.1h1v1h-1zM150.7 236.1h1v1h-1zM143.4 235.1h1v1h-1zM149.7 242.8h1v1h-1zM145.3 241.3h1v1h-1zM152.6 231.9h1v1h-1zM143.8 241.9h1v1h-1zM160.9 246.6h1v1h-1zM148.8 238.3h1v1h-1zM151.9 247.3h1v1h-1zM151.5 250.2h1v1h-1zM155.1 238.2h1v1h-1zM154.6 243.0h1v1h-1zM152.0 233.5h1v1h-1zM152.9 237.1h1v1h-1zM147.7 244.6h1v1h-1zM146.1 238.8h1v1h-1zM141.5 243.0h1v1h-1zM161.3 245.3h1v1h-1zM156.1 244.7h1v1h-1zM148.0 243.2h1v1h-1zM147.5 237.0h1v1h-1zM146.9 245.2h1v1h-1zM145.5 238.9h1v1h-1zM150.5 239.9h1v1h-1zM153.5 239.0h1v1h-1zM149.4 243.4h1v1h-1zM147.3 239.9h1v1h-1zM151.0 246.0h1v1h-1zM156.4 245.1h1v1h-1zM142.9 245.4h1v1h-1zM149.1 243.9h1v1h-1zM146.8 241.3h1v1h-1zM153.3 240.4h1v1h-1zM150.3 250.5h1v1h-1zM151.6 236.9h1v1h-1z" fill="#5a5a5a" fill-opacity="0.38"/>
<path d="M161.3 240.6h1v1h-1zM164.3 245.8h1v1h-1zM145.0 244.3h1v1h-1zM145.3 249.9h1v1h-1zM154.8 248.4h1v1h-1zM153.9 229.0h1v1h-1zM155.4 259.3h1v1h-1zM155.7 244.1h1v1h-1zM151.2 246.7h1v1h-1zM147.5 242.2h1v1h-1zM143.8 259.9h1v1h-1zM152.8 257.6h1v1h-1zM150.5 248.7h1v1h-1zM151.3 252.6h1v1h-1zM161.3 250.4h1v1h-1zM146.3 240.2h1v1h-1zM169.6 245.2h1v1h-1zM150.1 262.7h1v1h-1zM163.9 253.3h1v1h-1zM149.0 271.5h1v1h-1zM156.9 253.5h1v1h-1zM151.3 233.9h1v1h-1zM139.7 252.1h1v1h-1zM156.9 245.6h1v1h-1zM141.3 233.6h1v1h-1zM149.7 233.4h1v1h-1zM162.0 259.5h1v1h-1zM181.3 256.8h1v1h-1zM147.1 239.3h1v1h-1zM151.2 257.7h1v1h-1zM159.1 253.9h1v1h-1zM155.1 254.6h1v1h-1zM167.5 237.4h1v1h-1zM148.4 234.1h1v1h-1zM169.2 261.0h1v1h-1zM160.5 236.0h1v1h-1zM154.7 245.7h1v1h-1zM153.8 246.1h1v1h-1zM158.2 244.1h1v1h-1zM161.5 250.4h1v1h-1zM150.1 246.9h1v1h-1zM148.6 256.1h1v1h-1zM150.3 250.9h1v1h-1zM149.1 233.1h1v1h-1zM162.1 237.4h1v1h-1zM159.8 252.2h1v1h-1zM136.4 238.6h1v1h-1zM147.9 239.8h1v1h-1zM141.2 255.4h1v1h-1zM150.6 251.9h1v1h-1zM148.7 251.1h1v1h-1zM145.5 247.7h1v1h-1zM158.8 248.5h1v1h-1zM148.4 237.1h1v1h-1zM154.7 251.4h1v1h-1zM150.4 240.3h1v1h-1zM158.4 272.8h1v1h-1zM150.0 251.4h1v1h-1zM156.8 222.3h1v1h-1zM154.2 240.9h1v1h-1zM166.8 245.5h1v1h-1zM145.2 245.8h1v1h-1zM154.7 242.4h1v1h-1zM152.5 234.5h1v1h-1zM150.7 255.8h1v1h-1zM172.7 255.1h1v1h-1zM155.7 259.8h1v1h-1zM163.2 264.6h1v1h-1zM163.8 246.8h1v1h-1zM155.6 249.8h1v1h-1zM156.0 250.0h1v1h-1zM145.2 227.0h1v1h-1zM146.3 227.7h1v1h-1zM153.7 248.0h1v1h-1zM136.2 254.9h1v1h-1zM161.7 249.0h1v1h-1zM169.7 266.7h1v1h-1zM140.9 258.4h1v1h-1zM157.4 252.2h1v1h-1zM162.3 240.8h1v1h-1zM147.1 239.7h1v1h-1zM145.5 247.0h1v1h-1zM138.5 237.5h1v1h-1zM158.8 247.3h1v1h-1zM156.8 229.1h1v1h-1zM145.2 242.4h1v1h-1zM153.3 242.1h1v1h-1zM162.3 247.4h1v1h-1zM153.2 248.1h1v1h-1zM160.1 243.3h1v1h-1zM164.2 252.6h1v1h-1zM154.5 248.4h1v1h-1zM158.2 258.2h1v1h-1zM162.5 251.8h1v1h-1zM161.8 249.2h1v1h-1zM165.5 247.7h1v1h-1zM132.2 261.4h1v1h-1zM154.1 236.3h1v1h-1zM151.0 239.2h1v1h-1zM174.0 253.0h1v1h-1zM137.3 253.5h1v1h-1zM149.0 267.2h1v1h-1zM142.5 225.5h1v1h-1zM153.7 244.5h1v1h-1zM148.8 226.6h1v1h-1zM157.3 264.7h1v1h-1zM133.9 259.7h1v1h-1zM147.3 271.5h1v1h-1zM157.4 246.1h1v1h-1zM164.1 253.3h1v1h-1zM147.1 255.1h1v1h-1zM147.9 230.1h1v1h-1zM173.3 244.5h1v1h-1zM146.9 251.4h1v1h-1zM137.4 234.5h1v1h-1zM148.0 242.8h1v1h-1zM153.7 259.2h1v1h-1zM148.3 252.9h1v1h-1zM159.0 237.2h1v1h-1zM155.3 238.6h1v1h-1zM163.6 252.6h1v1h-1zM153.2 234.6h1v1h-1zM154.2 240.3h1v1h-1zM160.1 246.8h1v1h-1zM144.9 257.3h1v1h-1zM160.2 242.1h1v1h-1zM164.6 245.0h1v1h-1zM149.9 249.2h1v1h-1zM145.5 243.6h1v1h-1zM151.4 263.3h1v1h-1zM168.0 245.4h1v1h-1zM169.1 247.6h1v1h-1zM156.8 256.8h1v1h-1zM155.9 272.2h1v1h-1zM155.4 236.0h1v1h-1zM166.1 243.9h1v1h-1zM150.0 218.1h1v1h-1zM163.0 256.2h1v1h-1zM161.0 257.8h1v1h-1zM169.9 247.5h1v1h-1zM162.4 240.6h1v1h-1zM149.5 258.6h1v1h-1zM156.9 234.7h1v1h-1zM156.6 246.2h1v1h-1zM144.8 252.3h1v1h-1zM149.0 232.3h1v1h-1zM141.9 265.7h1v1h-1zM137.9 250.2h1v1h-1zM159.1 254.4h1v1h-1zM140.7 244.8h1v1h-1zM154.4 256.0h1v1h-1zM146.6 236.4h1v1h-1zM163.0 259.1h1v1h-1zM156.7 241.9h1v1h-1zM157.1 249.1h1v1h-1zM161.4 235.5h1v1h-1zM154.2 246.4h1v1h-1zM141.9 250.2h1v1h-1zM153.3 243.9h1v1h-1zM157.0 233.8h1v1h-1zM152.5 252.3h1v1h-1zM155.8 258.8h1v1h-1zM141.0 232.9h1v1h-1zM155.4 252.6h1v1h-1zM174.2 254.2h1v1h-1zM144.3 256.1h1v1h-1zM144.5 233.1h1v1h-1zM179.1 251.3h1v1h-1zM160.1 253.6h1v1h-1zM171.1 250.8h1v1h-1zM165.2 237.7h1v1h-1zM139.1 262.3h1v1h-1zM167.7 253.1h1v1h-1zM155.3 249.7h1v1h-1zM146.1 263.4h1v1h-1zM159.6 253.1h1v1h-1zM156.8 258.5h1v1h-1zM158.1 255.5h1v1h-1zM141.3 253.1h1v1h-1zM174.9 242.8h1v1h-1zM151.7 256.9h1v1h-1zM162.6 254.2h1v1h-1zM136.8 253.0h1v1h-1zM141.2 239.8h1v1h-1zM158.5 245.0h1v1h-1zM160.8 255.2h1v1h-1zM144.0 241.6h1v1h-1zM142.4 242.7h1v1h-1zM142.1 241.4h1v1h-1zM150.9 238.0h1v1h-1zM138.8 234.4h1v1h-1zM157.5 248.6h1v1h-1zM163.3 258.4h1v1h-1zM149.6 254.7h1v1h-1zM138.6 270.8h1v1h-1zM165.0 245.8h1v1h-1zM141.4 251.8h1v1h-1zM134.3 240.2h1v1h-1zM160.5 248.8h1v1h-1zM148.1 257.5h1v1h-1zM142.6 250.8h1v1h-1zM148.0 239.5h1v1h-1zM157.6 238.1h1v1h-1zM172.0 242.2h1v1h-1zM172.9 237.1h1v1h-1zM159.1 236.0h1v1h-1zM139.6 249.6h1v1h-1zM159.8 235.3h1v1h-1zM164.8 240.0h1v1h-1zM154.3 251.8h1v1h-1zM158.9 230.0h1v1h-1zM169.2 253.6h1v1h-1zM148.7 237.8h1v1h-1zM136.1 234.4h1v1h-1zM158.4 244.6h1v1h-1zM141.7 242.7h1v1h-1zM168.6 244.7h1v1h-1zM147.2 261.5h1v1h-1zM157.6 248.4h1v1h-1zM146.9 232.5h1v1h-1zM141.3 243.2h1v1h-1zM150.8 251.6h1v1h-1zM158.5 250.2h1v1h-1zM155.2 237.9h1v1h-1zM131.5 242.8h1v1h-1zM143.5 241.5h1v1h-1zM150.3 235.6h1v1h-1zM141.9 247.0h1v1h-1zM154.2 241.4h1v1h-1zM158.0 245.8h1v1h-1zM142.8 248.4h1v1h-1zM171.8 241.3h1v1h-1zM164.7 261.8h1v1h-1zM168.0 239.8h1v1h-1zM173.2 249.2h1v1h-1zM150.5 245.7h1v1h-1zM159.0 248.5h1v1h-1zM151.2 260.8h1v1h-1zM145.8 237.6h1v1h-1zM160.9 255.0h1v1h-1zM163.9 237.3h1v1h-1zM163.8 252.8h1v1h-1zM170.6 235.5h1v1h-1zM155.2 245.2h1v1h-1zM137.1 240.9h1v1h-1zM164.3 243.3h1v1h-1zM145.8 256.7h1v1h-1zM162.9 257.9h1v1h-1zM145.1 247.4h1v1h-1zM163.3 241.4h1v1h-1zM145.5 256.3h1v1h-1zM168.6 236.5h1v1h-1zM142.9 246.6h1v1h-1zM159.2 246.5h1v1h-1zM146.0 249.5h1v1h-1zM143.4 247.5h1v1h-1z" fill="#5a5a5a" fill-opacity="0.2"/>
<ellipse cx="151.5" cy="240.5" rx="5.5" ry="4.5" transform="rotate(-40 151.5 240.5)" fill="#666" fill-opacity="0.5" filter="url(#bl)"/>
<path d="M164.0 257.6h1v1h-1zM160.6 235.3h1v1h-1zM150.8 246.3h1v1h-1zM145.8 248.4h1v1h-1zM157.1 250.5h1v1h-1zM153.1 241.9h1v1h-1zM146.1 244.9h1v1h-1zM157.3 242.4h1v1h-1zM163.2 234.5h1v1h-1zM165.9 238.6h1v1h-1zM151.4 234.6h1v1h-1zM153.2 252.8h1v1h-1zM167.8 236.7h1v1h-1zM161.7 237.4h1v1h-1zM153.9 242.1h1v1h-1zM165.7 239.4h1v1h-1zM155.9 242.8h1v1h-1zM163.1 241.5h1v1h-1zM159.5 254.5h1v1h-1zM160.1 241.7h1v1h-1zM171.2 239.7h1v1h-1zM159.9 245.7h1v1h-1zM149.7 245.8h1v1h-1zM149.0 259.8h1v1h-1zM149.3 255.6h1v1h-1zM149.9 243.1h1v1h-1zM158.2 245.1h1v1h-1zM168.5 247.3h1v1h-1zM163.8 244.9h1v1h-1zM157.4 249.1h1v1h-1zM157.8 240.3h1v1h-1zM157.7 243.2h1v1h-1zM161.1 243.7h1v1h-1zM152.8 242.5h1v1h-1zM157.1 232.0h1v1h-1zM160.2 252.7h1v1h-1zM139.5 254.0h1v1h-1zM156.9 232.5h1v1h-1zM165.3 218.7h1v1h-1zM172.8 242.2h1v1h-1zM163.3 237.4h1v1h-1zM157.5 237.4h1v1h-1zM159.5 234.1h1v1h-1zM160.3 248.6h1v1h-1zM150.4 247.2h1v1h-1zM154.8 236.5h1v1h-1zM166.8 238.4h1v1h-1zM149.0 250.6h1v1h-1zM151.4 244.2h1v1h-1zM156.5 239.6h1v1h-1zM161.9 235.1h1v1h-1zM164.4 237.8h1v1h-1zM161.8 236.3h1v1h-1zM151.3 240.7h1v1h-1zM165.4 244.0h1v1h-1zM176.0 237.5h1v1h-1zM159.3 240.8h1v1h-1zM160.8 240.9h1v1h-1zM170.8 239.5h1v1h-1zM150.9 244.4h1v1h-1zM168.0 237.3h1v1h-1zM161.3 249.2h1v1h-1zM155.1 243.8h1v1h-1zM148.7 237.1h1v1h-1zM159.5 233.5h1v1h-1zM152.4 242.8h1v1h-1zM162.7 239.0h1v1h-1zM152.7 235.8h1v1h-1zM152.7 237.2h1v1h-1zM161.7 243.0h1v1h-1zM165.6 251.7h1v1h-1zM163.8 242.8h1v1h-1zM158.7 241.5h1v1h-1zM168.3 242.7h1v1h-1zM154.3 254.1h1v1h-1zM165.0 244.4h1v1h-1zM157.0 235.4h1v1h-1zM157.8 256.7h1v1h-1zM155.0 235.7h1v1h-1zM159.4 239.7h1v1h-1zM139.1 242.8h1v1h-1zM149.6 252.4h1v1h-1zM157.3 242.2h1v1h-1zM162.4 244.1h1v1h-1zM144.6 252.5h1v1h-1zM149.1 242.1h1v1h-1zM154.7 245.3h1v1h-1zM151.7 238.2h1v1h-1zM162.7 254.0h1v1h-1zM146.1 241.3h1v1h-1zM162.3 244.1h1v1h-1zM157.4 235.9h1v1h-1zM161.8 234.6h1v1h-1zM149.4 246.3h1v1h-1zM160.4 246.6h1v1h-1zM162.2 239.7h1v1h-1zM164.5 238.5h1v1h-1zM159.0 232.5h1v1h-1zM151.6 254.4h1v1h-1zM148.9 248.9h1v1h-1z" fill="#EE9A1E" fill-opacity="0.3"/>
<ellipse cx="158.3" cy="243.5" rx="12.3" ry="7.4" transform="rotate(-38 158.3 243.5)" fill="#EE981C" fill-opacity="1" filter="url(#bl)"/>
<path d="M236.3 262.8h1v1h-1zM233.6 271.3h1v1h-1zM254.2 265.1h1v1h-1zM236.9 268.3h1v1h-1zM250.7 259.7h1v1h-1zM237.7 264.2h1v1h-1zM241.2 265.7h1v1h-1zM241.9 263.1h1v1h-1zM237.4 262.0h1v1h-1zM232.0 264.4h1v1h-1zM235.9 259.7h1v1h-1zM248.8 264.4h1v1h-1zM226.6 270.0h1v1h-1zM231.4 267.3h1v1h-1zM236.9 266.1h1v1h-1zM238.3 262.4h1v1h-1zM240.3 260.3h1v1h-1zM241.0 265.3h1v1h-1zM240.6 267.9h1v1h-1zM245.8 267.0h1v1h-1zM238.1 265.8h1v1h-1zM247.1 268.7h1v1h-1zM229.5 262.1h1v1h-1zM239.5 262.2h1v1h-1zM234.2 260.7h1v1h-1zM235.0 266.9h1v1h-1zM244.5 265.0h1v1h-1zM252.6 264.7h1v1h-1zM261.0 269.5h1v1h-1zM240.7 262.8h1v1h-1zM235.1 268.3h1v1h-1zM234.4 268.1h1v1h-1zM237.7 259.9h1v1h-1zM244.1 268.1h1v1h-1zM241.5 269.5h1v1h-1zM245.3 264.9h1v1h-1zM226.8 258.8h1v1h-1zM247.1 268.2h1v1h-1zM237.8 263.0h1v1h-1zM237.2 265.1h1v1h-1zM234.5 261.9h1v1h-1zM253.2 266.0h1v1h-1zM232.5 259.1h1v1h-1zM231.6 268.2h1v1h-1zM242.7 264.0h1v1h-1zM237.4 263.6h1v1h-1zM228.7 270.9h1v1h-1zM231.3 264.4h1v1h-1zM243.6 263.9h1v1h-1zM226.6 260.7h1v1h-1zM237.8 266.5h1v1h-1zM236.3 269.5h1v1h-1zM244.4 266.5h1v1h-1zM237.2 263.9h1v1h-1zM241.1 269.1h1v1h-1zM237.5 267.0h1v1h-1zM234.6 258.6h1v1h-1zM229.5 268.4h1v1h-1zM240.4 272.2h1v1h-1zM237.4 268.9h1v1h-1zM246.9 269.5h1v1h-1zM232.4 264.2h1v1h-1zM238.0 260.6h1v1h-1zM240.6 269.6h1v1h-1zM234.8 264.1h1v1h-1zM235.2 261.8h1v1h-1zM240.1 265.1h1v1h-1zM249.5 267.7h1v1h-1zM241.0 264.0h1v1h-1zM226.4 264.6h1v1h-1zM230.6 269.3h1v1h-1zM236.8 272.5h1v1h-1zM242.5 268.8h1v1h-1zM238.7 265.9h1v1h-1zM241.9 269.2h1v1h-1zM231.7 267.2h1v1h-1zM256.7 264.6h1v1h-1zM235.1 261.9h1v1h-1zM226.1 270.3h1v1h-1zM237.5 266.3h1v1h-1zM230.3 269.7h1v1h-1zM241.7 266.8h1v1h-1zM240.6 264.9h1v1h-1zM248.9 267.8h1v1h-1zM239.6 270.6h1v1h-1zM243.7 267.1h1v1h-1zM239.5 272.9h1v1h-1zM240.8 264.6h1v1h-1zM230.6 263.5h1v1h-1zM229.1 265.5h1v1h-1zM238.9 255.8h1v1h-1zM237.2 267.9h1v1h-1zM238.3 260.7h1v1h-1zM246.5 261.9h1v1h-1zM227.8 260.1h1v1h-1zM236.9 269.4h1v1h-1zM245.8 266.0h1v1h-1zM228.1 262.1h1v1h-1zM230.3 264.2h1v1h-1zM223.7 265.5h1v1h-1zM241.8 264.3h1v1h-1zM240.5 260.8h1v1h-1zM226.1 262.1h1v1h-1zM245.7 269.6h1v1h-1zM233.6 270.4h1v1h-1zM234.6 271.8h1v1h-1zM240.6 263.0h1v1h-1zM243.0 261.5h1v1h-1zM230.0 258.5h1v1h-1zM238.9 264.8h1v1h-1zM236.4 263.2h1v1h-1zM247.8 263.1h1v1h-1zM231.6 270.6h1v1h-1zM247.7 266.5h1v1h-1zM223.9 262.3h1v1h-1zM241.6 265.1h1v1h-1zM248.7 258.8h1v1h-1zM242.1 262.2h1v1h-1zM246.9 264.7h1v1h-1zM244.7 262.1h1v1h-1zM226.4 260.0h1v1h-1zM232.4 260.4h1v1h-1zM246.0 271.0h1v1h-1zM239.0 260.3h1v1h-1zM236.1 261.9h1v1h-1zM247.9 266.4h1v1h-1zM240.7 263.2h1v1h-1zM221.9 261.5h1v1h-1zM228.6 266.7h1v1h-1zM237.7 261.4h1v1h-1zM234.1 272.0h1v1h-1zM229.8 260.9h1v1h-1zM235.3 261.9h1v1h-1zM233.8 267.4h1v1h-1zM250.0 257.0h1v1h-1zM236.9 265.2h1v1h-1zM236.4 264.2h1v1h-1zM234.4 269.5h1v1h-1zM233.5 264.4h1v1h-1zM237.0 265.5h1v1h-1zM235.7 269.5h1v1h-1zM236.9 265.8h1v1h-1zM236.6 260.5h1v1h-1zM230.8 260.3h1v1h-1zM238.4 261.8h1v1h-1zM229.0 266.1h1v1h-1zM240.9 257.1h1v1h-1zM249.7 265.1h1v1h-1zM236.2 269.8h1v1h-1zM237.5 262.3h1v1h-1zM253.5 260.2h1v1h-1zM236.3 268.8h1v1h-1zM229.0 264.5h1v1h-1zM230.3 264.8h1v1h-1zM241.9 265.4h1v1h-1zM228.0 266.8h1v1h-1zM237.8 267.0h1v1h-1zM245.5 269.6h1v1h-1zM240.1 266.4h1v1h-1zM228.8 264.4h1v1h-1zM238.7 263.2h1v1h-1zM237.7 261.3h1v1h-1zM234.1 266.8h1v1h-1zM235.2 270.7h1v1h-1zM240.3 265.3h1v1h-1zM235.3 265.6h1v1h-1zM229.5 268.0h1v1h-1zM231.6 267.4h1v1h-1zM238.0 269.9h1v1h-1zM236.9 269.6h1v1h-1zM230.1 267.7h1v1h-1zM235.3 265.9h1v1h-1zM237.5 269.2h1v1h-1zM221.9 266.5h1v1h-1zM225.8 270.4h1v1h-1zM222.2 260.5h1v1h-1zM224.4 272.4h1v1h-1zM227.3 265.5h1v1h-1zM233.0 256.9h1v1h-1zM234.5 268.0h1v1h-1zM235.6 269.2h1v1h-1zM234.3 265.0h1v1h-1zM234.1 266.5h1v1h-1zM251.2 266.6h1v1h-1zM238.5 262.2h1v1h-1zM231.3 271.6h1v1h-1zM228.7 260.9h1v1h-1zM236.3 263.1h1v1h-1zM251.7 254.4h1v1h-1zM239.7 268.2h1v1h-1zM228.6 262.1h1v1h-1zM240.2 272.3h1v1h-1zM230.1 257.9h1v1h-1zM244.3 271.9h1v1h-1zM234.5 255.0h1v1h-1zM247.9 264.1h1v1h-1zM245.4 264.8h1v1h-1zM234.2 263.0h1v1h-1zM248.1 271.5h1v1h-1zM221.0 260.8h1v1h-1zM250.3 263.3h1v1h-1zM226.8 265.0h1v1h-1zM236.2 264.6h1v1h-1zM233.4 263.6h1v1h-1zM233.6 266.5h1v1h-1zM230.9 263.7h1v1h-1zM235.9 270.9h1v1h-1zM239.8 264.5h1v1h-1zM241.0 266.8h1v1h-1zM245.2 267.3h1v1h-1zM250.5 271.1h1v1h-1zM236.7 263.1h1v1h-1zM243.6 267.3h1v1h-1zM236.3 258.4h1v1h-1zM223.3 266.6h1v1h-1zM242.8 268.6h1v1h-1zM227.3 269.7h1v1h-1zM233.0 266.7h1v1h-1zM240.1 261.4h1v1h-1zM232.6 255.7h1v1h-1zM230.1 256.9h1v1h-1zM240.3 265.3h1v1h-1zM243.9 266.6h1v1h-1zM232.2 266.6h1v1h-1zM234.1 267.7h1v1h-1zM239.4 260.6h1v1h-1zM237.0 265.2h1v1h-1zM234.7 269.0h1v1h-1zM249.8 263.3h1v1h-1zM234.4 254.9h1v1h-1zM236.0 263.0h1v1h-1zM241.4 261.7h1v1h-1zM234.2 260.7h1v1h-1zM242.7 258.2h1v1h-1zM237.4 267.1h1v1h-1zM235.9 259.7h1v1h-1zM236.8 266.8h1v1h-1zM229.3 266.5h1v1h-1zM246.3 269.8h1v1h-1zM225.1 260.6h1v1h-1zM224.9 269.8h1v1h-1zM241.6 268.2h1v1h-1zM230.4 259.8h1v1h-1zM237.6 265.5h1v1h-1zM230.6 265.6h1v1h-1zM241.8 266.0h1v1h-1zM229.2 255.5h1v1h-1zM235.1 265.7h1v1h-1zM235.0 263.1h1v1h-1zM231.8 268.2h1v1h-1zM236.6 265.6h1v1h-1zM229.7 262.2h1v1h-1zM238.2 260.5h1v1h-1zM227.6 263.5h1v1h-1zM246.0 265.9h1v1h-1zM247.9 264.4h1v1h-1zM234.7 258.7h1v1h-1zM232.7 271.5h1v1h-1zM239.5 268.3h1v1h-1zM242.3 265.0h1v1h-1zM235.5 265.5h1v1h-1zM242.0 267.1h1v1h-1zM240.7 265.7h1v1h-1zM231.2 263.8h1v1h-1zM229.9 269.5h1v1h-1zM221.2 264.0h1v1h-1zM254.9 263.5h1v1h-1zM228.5 264.9h1v1h-1zM246.7 264.3h1v1h-1zM241.6 265.4h1v1h-1zM237.5 262.6h1v1h-1zM233.3 266.7h1v1h-1zM240.1 268.5h1v1h-1zM238.1 258.6h1v1h-1zM241.0 263.6h1v1h-1zM234.9 258.3h1v1h-1zM232.7 261.7h1v1h-1zM236.7 258.5h1v1h-1zM237.4 265.6h1v1h-1zM228.6 262.2h1v1h-1zM230.6 269.1h1v1h-1zM224.5 263.1h1v1h-1zM243.4 262.2h1v1h-1zM238.0 261.2h1v1h-1zM251.5 269.1h1v1h-1zM245.5 259.0h1v1h-1zM228.7 269.9h1v1h-1zM235.5 263.8h1v1h-1zM239.5 259.4h1v1h-1zM242.8 265.1h1v1h-1zM240.6 262.0h1v1h-1zM240.8 261.8h1v1h-1zM244.2 270.1h1v1h-1zM243.8 267.3h1v1h-1zM241.8 252.8h1v1h-1zM243.3 263.8h1v1h-1zM237.7 263.7h1v1h-1zM226.6 262.6h1v1h-1zM241.9 271.4h1v1h-1zM232.3 260.9h1v1h-1zM247.9 261.0h1v1h-1zM252.6 265.2h1v1h-1zM230.4 269.4h1v1h-1zM249.7 258.5h1v1h-1zM248.7 263.7h1v1h-1zM248.1 263.3h1v1h-1zM225.2 267.3h1v1h-1zM249.9 268.1h1v1h-1zM235.2 262.7h1v1h-1zM234.8 261.3h1v1h-1zM234.9 253.5h1v1h-1zM238.3 264.9h1v1h-1zM256.2 268.4h1v1h-1zM233.4 267.5h1v1h-1zM227.8 262.3h1v1h-1zM223.0 271.5h1v1h-1zM241.5 259.7h1v1h-1zM236.5 269.3h1v1h-1zM240.7 266.7h1v1h-1zM230.6 262.1h1v1h-1zM237.7 269.1h1v1h-1zM230.8 260.0h1v1h-1zM245.6 260.8h1v1h-1zM245.1 266.1h1v1h-1zM243.6 272.8h1v1h-1zM242.2 268.5h1v1h-1zM230.1 261.9h1v1h-1zM241.8 271.9h1v1h-1zM239.3 265.9h1v1h-1zM244.5 265.1h1v1h-1zM236.5 260.3h1v1h-1zM244.4 260.2h1v1h-1zM240.8 258.6h1v1h-1zM245.2 260.4h1v1h-1zM243.3 257.8h1v1h-1zM233.7 270.3h1v1h-1zM231.0 265.3h1v1h-1zM233.4 254.6h1v1h-1zM239.3 266.9h1v1h-1zM228.7 267.6h1v1h-1zM231.0 260.5h1v1h-1zM237.1 261.9h1v1h-1zM254.2 258.0h1v1h-1zM242.5 269.5h1v1h-1zM222.2 257.2h1v1h-1zM241.2 262.8h1v1h-1zM239.9 270.1h1v1h-1zM234.2 260.2h1v1h-1zM230.0 266.4h1v1h-1zM238.7 258.8h1v1h-1zM249.9 269.9h1v1h-1zM243.4 259.7h1v1h-1zM233.9 262.5h1v1h-1zM233.9 259.9h1v1h-1zM240.3 266.0h1v1h-1zM239.7 262.7h1v1h-1zM246.7 265.8h1v1h-1zM236.6 269.3h1v1h-1zM234.7 263.9h1v1h-1zM232.0 268.0h1v1h-1zM233.6 262.3h1v1h-1zM231.4 267.5h1v1h-1zM233.0 257.5h1v1h-1zM241.7 261.8h1v1h-1zM239.7 266.7h1v1h-1zM246.0 269.7h1v1h-1zM232.7 264.3h1v1h-1zM227.3 272.5h1v1h-1zM240.3 271.3h1v1h-1zM234.6 255.8h1v1h-1zM248.5 265.4h1v1h-1zM238.0 265.2h1v1h-1zM241.8 267.4h1v1h-1zM225.1 269.9h1v1h-1zM233.0 262.9h1v1h-1zM250.0 269.1h1v1h-1zM234.5 256.6h1v1h-1zM238.2 267.4h1v1h-1zM236.4 259.4h1v1h-1zM231.1 259.4h1v1h-1zM238.6 268.7h1v1h-1zM244.7 261.7h1v1h-1zM238.8 267.5h1v1h-1zM233.2 264.3h1v1h-1zM252.9 265.9h1v1h-1zM243.6 263.0h1v1h-1zM237.3 257.3h1v1h-1zM236.8 270.4h1v1h-1zM252.7 270.4h1v1h-1zM242.2 265.2h1v1h-1zM232.5 264.3h1v1h-1zM241.6 261.5h1v1h-1zM244.0 260.6h1v1h-1zM223.7 260.4h1v1h-1zM224.5 258.8h1v1h-1zM245.5 264.1h1v1h-1zM238.6 270.2h1v1h-1zM246.4 262.7h1v1h-1zM247.0 266.7h1v1h-1zM237.0 267.0h1v1h-1zM226.3 261.5h1v1h-1zM236.2 267.7h1v1h-1zM234.2 264.4h1v1h-1zM244.3 271.4h1v1h-1zM242.8 270.7h1v1h-1zM234.0 263.6h1v1h-1zM239.4 263.6h1v1h-1zM233.2 272.4h1v1h-1zM235.5 260.7h1v1h-1zM237.6 270.5h1v1h-1zM233.7 262.8h1v1h-1zM231.8 264.4h1v1h-1zM250.8 259.8h1v1h-1zM249.3 260.5h1v1h-1zM235.2 268.8h1v1h-1zM241.7 266.3h1v1h-1zM224.6 266.6h1v1h-1zM235.4 265.8h1v1h-1zM228.4 262.8h1v1h-1zM227.3 269.4h1v1h-1zM235.0 267.5h1v1h-1zM231.9 262.7h1v1h-1zM246.7 260.6h1v1h-1zM223.5 266.8h1v1h-1zM228.4 263.0h1v1h-1zM243.8 261.3h1v1h-1zM243.6 261.9h1v1h-1zM248.2 271.0h1v1h-1zM233.5 264.0h1v1h-1zM230.8 265.9h1v1h-1zM245.6 258.5h1v1h-1zM243.9 259.0h1v1h-1zM230.6 257.0h1v1h-1zM252.8 265.3h1v1h-1zM238.8 262.0h1v1h-1zM245.0 255.5h1v1h-1zM234.1 265.1h1v1h-1zM242.0 261.3h1v1h-1zM237.2 269.3h1v1h-1zM238.5 266.7h1v1h-1zM234.4 266.4h1v1h-1zM237.4 271.5h1v1h-1zM242.4 263.9h1v1h-1zM242.7 260.9h1v1h-1zM222.0 259.9h1v1h-1zM243.9 260.2h1v1h-1zM233.6 266.0h1v1h-1zM246.2 264.9h1v1h-1zM236.2 262.5h1v1h-1zM249.2 269.8h1v1h-1zM236.3 258.7h1v1h-1zM231.1 267.6h1v1h-1zM231.6 269.0h1v1h-1zM239.7 266.3h1v1h-1zM241.9 267.2h1v1h-1zM230.6 263.5h1v1h-1zM254.5 259.6h1v1h-1zM233.4 269.8h1v1h-1zM235.8 261.3h1v1h-1zM227.1 267.4h1v1h-1zM244.6 271.3h1v1h-1zM237.4 269.7h1v1h-1zM229.3 265.8h1v1h-1zM231.9 265.8h1v1h-1zM242.6 269.8h1v1h-1zM229.6 270.7h1v1h-1zM233.4 260.4h1v1h-1zM235.7 258.4h1v1h-1zM237.0 266.3h1v1h-1zM235.5 267.4h1v1h-1zM234.6 265.0h1v1h-1zM226.2 265.2h1v1h-1zM230.6 263.0h1v1h-1zM236.3 265.9h1v1h-1zM224.7 258.0h1v1h-1zM234.7 267.1h1v1h-1zM239.7 269.0h1v1h-1zM246.8 267.2h1v1h-1zM236.9 260.4h1v1h-1zM229.9 262.9h1v1h-1zM239.0 266.0h1v1h-1zM237.0 264.3h1v1h-1zM241.7 265.9h1v1h-1zM239.2 266.4h1v1h-1zM232.9 260.4h1v1h-1zM240.7 266.9h1v1h-1zM235.3 263.1h1v1h-1zM254.1 261.6h1v1h-1zM235.4 266.2h1v1h-1zM228.3 265.5h1v1h-1zM250.5 269.2h1v1h-1zM241.7 267.7h1v1h-1zM237.8 269.3h1v1h-1zM235.8 263.1h1v1h-1zM237.8 269.1h1v1h-1zM239.5 268.0h1v1h-1zM221.8 270.4h1v1h-1zM254.6 271.0h1v1h-1zM234.6 261.2h1v1h-1zM239.1 260.6h1v1h-1zM242.4 262.6h1v1h-1zM244.2 271.1h1v1h-1zM221.8 266.3h1v1h-1zM231.8 258.7h1v1h-1zM232.4 264.0h1v1h-1zM244.8 258.2h1v1h-1zM241.5 267.5h1v1h-1zM236.9 259.7h1v1h-1zM241.0 266.7h1v1h-1zM242.5 266.9h1v1h-1zM248.7 258.9h1v1h-1zM228.4 263.3h1v1h-1zM232.1 268.1h1v1h-1zM234.6 272.8h1v1h-1zM248.4 268.5h1v1h-1zM234.1 267.8h1v1h-1zM243.1 260.2h1v1h-1zM239.6 268.2h1v1h-1zM238.6 272.1h1v1h-1zM246.1 261.3h1v1h-1zM237.9 261.2h1v1h-1zM241.3 261.1h1v1h-1zM243.9 266.7h1v1h-1zM244.3 264.3h1v1h-1zM226.1 272.9h1v1h-1zM235.7 271.2h1v1h-1zM240.2 268.0h1v1h-1zM250.7 266.5h1v1h-1zM247.5 258.3h1v1h-1zM243.5 263.9h1v1h-1zM236.0 265.0h1v1h-1zM239.6 272.5h1v1h-1zM223.1 265.2h1v1h-1zM231.6 270.2h1v1h-1zM233.8 267.1h1v1h-1zM234.0 268.0h1v1h-1zM244.6 263.2h1v1h-1zM237.4 258.6h1v1h-1zM239.3 268.9h1v1h-1zM232.8 270.0h1v1h-1zM221.5 256.7h1v1h-1zM226.6 262.8h1v1h-1zM237.1 264.6h1v1h-1zM236.5 268.3h1v1h-1zM233.5 259.3h1v1h-1zM247.9 267.2h1v1h-1zM230.8 265.0h1v1h-1zM243.5 270.4h1v1h-1zM230.3 268.4h1v1h-1zM238.9 270.0h1v1h-1zM247.4 263.5h1v1h-1zM226.1 266.8h1v1h-1zM250.3 268.1h1v1h-1zM229.2 269.1h1v1h-1zM232.7 265.2h1v1h-1zM237.7 271.8h1v1h-1zM230.0 262.6h1v1h-1zM225.1 267.2h1v1h-1zM233.6 266.9h1v1h-1zM229.0 263.4h1v1h-1zM244.8 264.2h1v1h-1zM241.7 267.4h1v1h-1zM234.4 258.0h1v1h-1zM244.4 265.8h1v1h-1zM244.4 255.9h1v1h-1zM224.6 255.4h1v1h-1zM230.4 269.7h1v1h-1zM241.2 264.8h1v1h-1zM238.0 268.4h1v1h-1zM234.7 266.8h1v1h-1zM238.0 255.2h1v1h-1zM234.1 271.1h1v1h-1zM234.0 264.4h1v1h-1zM232.4 262.8h1v1h-1zM245.4 263.8h1v1h-1zM229.3 251.0h1v1h-1zM232.7 256.1h1v1h-1zM223.3 268.6h1v1h-1zM242.3 256.4h1v1h-1zM243.4 267.1h1v1h-1zM231.1 268.3h1v1h-1zM224.8 259.6h1v1h-1zM226.2 260.0h1v1h-1zM243.6 259.0h1v1h-1zM228.4 260.7h1v1h-1zM238.5 263.5h1v1h-1zM243.5 261.8h1v1h-1zM227.3 262.7h1v1h-1zM237.3 260.8h1v1h-1zM232.6 265.2h1v1h-1zM247.1 262.0h1v1h-1zM230.6 260.0h1v1h-1zM239.9 267.3h1v1h-1zM235.8 265.1h1v1h-1zM246.4 268.8h1v1h-1zM226.3 264.9h1v1h-1zM237.6 268.1h1v1h-1zM235.2 262.0h1v1h-1zM233.4 256.9h1v1h-1zM236.6 262.2h1v1h-1zM240.3 260.3h1v1h-1zM233.5 260.5h1v1h-1zM228.8 268.0h1v1h-1zM233.3 266.8h1v1h-1zM228.3 265.3h1v1h-1zM224.1 262.7h1v1h-1zM232.9 267.4h1v1h-1zM238.1 264.0h1v1h-1zM243.0 265.7h1v1h-1zM240.7 268.3h1v1h-1zM236.2 263.5h1v1h-1zM239.1 262.9h1v1h-1zM239.6 269.8h1v1h-1zM243.1 263.1h1v1h-1zM227.0 264.5h1v1h-1zM235.7 269.8h1v1h-1zM233.8 263.9h1v1h-1zM242.2 262.6h1v1h-1zM235.5 272.5h1v1h-1zM247.8 267.6h1v1h-1zM238.7 260.4h1v1h-1zM240.8 265.0h1v1h-1zM238.3 262.5h1v1h-1zM236.6 264.0h1v1h-1zM239.0 271.2h1v1h-1zM239.4 257.3h1v1h-1zM229.4 257.7h1v1h-1zM230.7 267.3h1v1h-1zM239.6 262.1h1v1h-1zM238.6 261.4h1v1h-1zM226.0 258.5h1v1h-1zM230.2 271.2h1v1h-1zM226.6 270.4h1v1h-1zM246.6 264.0h1v1h-1zM236.3 262.0h1v1h-1zM236.4 267.7h1v1h-1zM236.7 269.3h1v1h-1zM245.5 266.3h1v1h-1zM239.1 264.5h1v1h-1zM239.2 259.8h1v1h-1zM239.6 265.7h1v1h-1zM229.3 260.9h1v1h-1zM238.7 256.1h1v1h-1zM230.7 257.9h1v1h-1zM229.4 264.2h1v1h-1zM239.0 269.7h1v1h-1zM242.6 270.1h1v1h-1zM241.0 262.7h1v1h-1zM244.9 262.6h1v1h-1zM232.0 271.6h1v1h-1zM242.5 265.7h1v1h-1zM242.2 268.7h1v1h-1zM226.4 264.3h1v1h-1zM227.8 265.3h1v1h-1zM231.6 270.9h1v1h-1zM240.5 261.1h1v1h-1zM236.4 259.3h1v1h-1zM236.9 267.2h1v1h-1zM238.6 256.1h1v1h-1zM234.1 267.0h1v1h-1zM238.9 270.0h1v1h-1zM226.9 267.1h1v1h-1zM231.7 265.6h1v1h-1zM239.6 267.8h1v1h-1zM232.2 265.6h1v1h-1zM227.8 258.4h1v1h-1zM240.7 264.5h1v1h-1z" fill="#5a5a5a" fill-opacity="0.36"/>
<path d="M253.3 237.4h1v1h-1zM259.8 247.0h1v1h-1zM263.9 244.0h1v1h-1zM252.6 240.4h1v1h-1zM261.7 242.3h1v1h-1zM261.4 239.8h1v1h-1zM266.8 246.7h1v1h-1zM259.4 236.8h1v1h-1zM268.0 238.6h1v1h-1zM264.6 248.4h1v1h-1zM256.0 241.9h1v1h-1zM258.4 242.8h1v1h-1zM261.0 248.5h1v1h-1zM262.1 240.7h1v1h-1zM264.3 239.7h1v1h-1zM258.3 249.7h1v1h-1zM256.5 238.8h1v1h-1zM259.9 236.5h1v1h-1zM251.3 245.0h1v1h-1zM256.6 238.6h1v1h-1zM258.3 236.8h1v1h-1zM255.5 241.4h1v1h-1zM269.4 243.7h1v1h-1zM262.8 234.7h1v1h-1zM259.7 236.0h1v1h-1z" fill="#5a5a5a" fill-opacity="0.25"/>
<ellipse cx="238" cy="265" rx="8" ry="4.5" transform="rotate(0 238 265)" fill="#777" fill-opacity="0.4" filter="url(#bl)"/>
<path d="M271.8 259.1h1v1h-1zM265.5 262.9h1v1h-1zM256.5 258.3h1v1h-1zM267.4 254.1h1v1h-1zM253.9 267.0h1v1h-1zM259.5 267.7h1v1h-1zM275.1 260.4h1v1h-1zM267.2 262.7h1v1h-1zM268.8 250.6h1v1h-1zM266.5 257.3h1v1h-1zM254.2 268.7h1v1h-1zM263.2 268.0h1v1h-1zM269.9 247.2h1v1h-1zM276.6 267.0h1v1h-1zM262.9 255.9h1v1h-1zM256.8 271.8h1v1h-1zM272.3 255.8h1v1h-1zM263.5 265.9h1v1h-1zM248.7 269.1h1v1h-1zM285.1 267.5h1v1h-1zM258.7 261.6h1v1h-1zM268.8 263.0h1v1h-1zM261.7 264.2h1v1h-1zM272.9 256.3h1v1h-1zM267.1 265.0h1v1h-1zM274.3 259.9h1v1h-1zM280.4 255.0h1v1h-1zM258.8 263.7h1v1h-1zM240.5 270.2h1v1h-1zM275.1 260.5h1v1h-1zM258.8 268.7h1v1h-1zM246.4 270.6h1v1h-1zM271.8 264.7h1v1h-1zM260.5 271.3h1v1h-1zM281.3 253.4h1v1h-1zM268.5 252.6h1v1h-1zM266.2 264.3h1v1h-1zM259.4 264.5h1v1h-1zM276.7 268.6h1v1h-1zM259.6 256.1h1v1h-1zM278.4 261.1h1v1h-1zM272.0 261.5h1v1h-1zM265.8 252.0h1v1h-1zM258.6 262.5h1v1h-1zM266.0 265.3h1v1h-1zM254.7 265.7h1v1h-1zM264.7 256.2h1v1h-1zM272.1 264.2h1v1h-1zM266.8 264.5h1v1h-1zM252.8 259.2h1v1h-1zM258.9 264.5h1v1h-1zM263.1 269.2h1v1h-1zM241.1 267.9h1v1h-1zM259.1 263.3h1v1h-1zM257.5 272.6h1v1h-1zM262.2 266.3h1v1h-1zM270.3 264.5h1v1h-1zM276.2 257.3h1v1h-1zM265.6 267.8h1v1h-1zM268.7 260.4h1v1h-1zM264.7 260.8h1v1h-1zM274.1 265.1h1v1h-1zM269.9 272.8h1v1h-1zM250.9 268.8h1v1h-1zM280.0 254.1h1v1h-1zM267.6 255.2h1v1h-1zM270.1 255.1h1v1h-1zM252.9 268.4h1v1h-1zM258.5 260.0h1v1h-1zM259.8 260.0h1v1h-1zM265.9 263.1h1v1h-1zM271.2 258.0h1v1h-1zM250.3 262.5h1v1h-1zM266.8 272.2h1v1h-1zM271.7 256.7h1v1h-1zM271.3 253.7h1v1h-1zM273.8 257.3h1v1h-1zM273.9 263.3h1v1h-1zM263.7 266.3h1v1h-1zM255.6 267.6h1v1h-1zM272.1 260.9h1v1h-1zM248.5 266.5h1v1h-1zM265.9 255.9h1v1h-1zM282.0 262.4h1v1h-1zM259.0 263.1h1v1h-1zM250.2 262.1h1v1h-1zM271.0 264.7h1v1h-1zM269.3 263.3h1v1h-1zM261.2 267.6h1v1h-1zM252.1 269.7h1v1h-1zM282.0 263.8h1v1h-1zM260.5 263.8h1v1h-1zM282.2 266.6h1v1h-1zM250.9 267.7h1v1h-1zM270.4 268.6h1v1h-1zM259.4 270.2h1v1h-1zM269.1 261.0h1v1h-1zM264.9 270.2h1v1h-1zM269.1 255.2h1v1h-1zM264.3 255.8h1v1h-1zM255.6 260.2h1v1h-1zM251.8 265.7h1v1h-1zM257.8 270.3h1v1h-1zM272.2 258.9h1v1h-1zM257.2 272.2h1v1h-1zM242.6 262.4h1v1h-1zM273.6 263.7h1v1h-1zM273.9 258.3h1v1h-1zM252.8 266.3h1v1h-1zM268.9 257.2h1v1h-1zM255.8 259.5h1v1h-1zM256.9 272.6h1v1h-1zM266.9 255.7h1v1h-1zM254.3 265.2h1v1h-1zM267.8 255.3h1v1h-1zM258.9 253.4h1v1h-1zM255.0 270.9h1v1h-1zM271.0 253.9h1v1h-1zM260.3 270.7h1v1h-1zM260.7 262.4h1v1h-1zM270.7 262.2h1v1h-1zM277.5 262.7h1v1h-1zM260.0 265.3h1v1h-1zM261.8 256.9h1v1h-1zM258.9 272.5h1v1h-1zM267.8 261.6h1v1h-1zM271.5 263.6h1v1h-1zM275.6 256.3h1v1h-1zM262.9 263.2h1v1h-1zM284.8 260.2h1v1h-1zM256.3 265.7h1v1h-1zM259.1 266.5h1v1h-1zM267.9 258.1h1v1h-1zM263.0 261.6h1v1h-1zM268.4 268.3h1v1h-1zM265.7 272.6h1v1h-1zM272.2 267.9h1v1h-1zM273.2 266.5h1v1h-1zM264.2 259.1h1v1h-1zM273.4 264.2h1v1h-1zM280.0 244.6h1v1h-1zM266.3 269.6h1v1h-1zM253.7 267.6h1v1h-1zM278.2 262.3h1v1h-1zM269.6 263.1h1v1h-1zM256.5 264.6h1v1h-1zM272.6 261.1h1v1h-1zM281.7 254.0h1v1h-1zM243.1 272.0h1v1h-1zM269.1 264.2h1v1h-1zM264.4 259.1h1v1h-1zM277.7 253.8h1v1h-1zM271.5 259.0h1v1h-1zM240.9 269.9h1v1h-1zM268.8 259.9h1v1h-1zM272.3 259.8h1v1h-1zM263.4 263.6h1v1h-1zM254.2 264.3h1v1h-1zM272.9 263.6h1v1h-1zM264.1 260.0h1v1h-1zM268.0 252.1h1v1h-1zM262.1 263.7h1v1h-1zM258.5 267.8h1v1h-1zM257.9 262.3h1v1h-1zM283.9 259.6h1v1h-1zM276.8 258.7h1v1h-1zM276.4 263.3h1v1h-1zM282.4 270.2h1v1h-1zM264.4 265.7h1v1h-1zM257.2 246.2h1v1h-1zM253.3 269.5h1v1h-1zM270.3 257.9h1v1h-1zM279.2 265.1h1v1h-1zM265.5 272.3h1v1h-1zM282.9 258.4h1v1h-1zM263.6 262.3h1v1h-1zM265.8 260.3h1v1h-1zM277.5 262.8h1v1h-1zM278.4 261.2h1v1h-1zM258.4 266.1h1v1h-1zM273.0 257.8h1v1h-1zM263.4 271.7h1v1h-1zM272.7 260.2h1v1h-1zM264.9 266.6h1v1h-1zM275.3 263.8h1v1h-1zM264.3 266.9h1v1h-1zM275.4 263.7h1v1h-1zM236.0 272.1h1v1h-1zM258.4 265.6h1v1h-1zM269.8 267.3h1v1h-1zM271.3 260.3h1v1h-1zM270.3 272.2h1v1h-1zM261.2 267.6h1v1h-1zM281.0 258.6h1v1h-1zM262.2 264.6h1v1h-1zM276.6 261.4h1v1h-1zM265.7 269.1h1v1h-1zM270.2 262.2h1v1h-1zM269.3 263.5h1v1h-1zM261.9 262.6h1v1h-1zM264.0 258.6h1v1h-1zM263.8 264.4h1v1h-1zM264.8 264.2h1v1h-1zM266.4 263.7h1v1h-1zM260.9 271.5h1v1h-1zM262.1 271.6h1v1h-1zM246.1 266.3h1v1h-1zM274.6 258.6h1v1h-1zM260.8 268.2h1v1h-1zM256.7 268.3h1v1h-1zM244.9 270.6h1v1h-1zM261.4 268.9h1v1h-1zM272.0 255.5h1v1h-1zM279.2 253.7h1v1h-1zM241.8 260.3h1v1h-1zM279.7 256.6h1v1h-1zM258.4 262.5h1v1h-1zM269.4 272.8h1v1h-1zM258.7 252.6h1v1h-1zM272.8 258.1h1v1h-1zM267.5 272.3h1v1h-1zM266.3 270.4h1v1h-1zM264.2 259.8h1v1h-1zM269.2 258.4h1v1h-1zM279.4 263.1h1v1h-1zM268.0 266.3h1v1h-1zM270.5 259.7h1v1h-1zM273.6 258.6h1v1h-1zM269.4 256.2h1v1h-1zM267.9 265.1h1v1h-1zM257.9 264.8h1v1h-1zM262.9 269.4h1v1h-1zM260.5 268.7h1v1h-1zM280.7 258.8h1v1h-1zM251.7 270.9h1v1h-1zM274.8 257.7h1v1h-1zM277.6 261.9h1v1h-1zM269.3 260.4h1v1h-1zM260.9 264.4h1v1h-1zM267.9 265.8h1v1h-1zM269.2 260.2h1v1h-1zM267.6 265.2h1v1h-1zM249.6 266.5h1v1h-1zM258.4 265.9h1v1h-1zM263.0 263.4h1v1h-1zM259.8 270.6h1v1h-1zM264.9 254.1h1v1h-1zM263.7 257.8h1v1h-1zM280.5 254.0h1v1h-1zM262.8 265.6h1v1h-1zM264.2 264.1h1v1h-1zM280.7 258.1h1v1h-1zM276.4 265.6h1v1h-1zM274.7 265.4h1v1h-1zM260.3 271.2h1v1h-1zM268.7 259.1h1v1h-1zM264.5 265.5h1v1h-1zM277.1 265.3h1v1h-1zM274.3 267.1h1v1h-1zM276.7 251.1h1v1h-1zM259.6 260.9h1v1h-1zM270.5 270.3h1v1h-1zM269.7 255.5h1v1h-1zM266.0 269.9h1v1h-1zM261.2 265.3h1v1h-1zM264.8 253.1h1v1h-1zM274.1 261.9h1v1h-1zM269.1 256.2h1v1h-1zM257.9 263.8h1v1h-1zM268.7 262.8h1v1h-1zM271.6 271.9h1v1h-1zM276.4 254.4h1v1h-1zM266.6 271.7h1v1h-1zM279.5 254.1h1v1h-1zM264.0 265.1h1v1h-1zM256.1 262.3h1v1h-1zM264.6 269.5h1v1h-1zM261.7 264.4h1v1h-1zM258.8 258.7h1v1h-1zM274.2 245.6h1v1h-1zM261.6 269.1h1v1h-1zM255.0 272.4h1v1h-1zM275.6 253.9h1v1h-1zM265.5 257.1h1v1h-1zM271.0 261.8h1v1h-1zM271.4 269.4h1v1h-1zM273.6 268.2h1v1h-1zM269.2 254.9h1v1h-1zM269.7 264.8h1v1h-1zM267.7 265.1h1v1h-1zM258.3 267.7h1v1h-1zM268.2 260.6h1v1h-1zM262.0 252.6h1v1h-1zM276.0 252.2h1v1h-1zM244.2 267.9h1v1h-1zM259.9 269.8h1v1h-1zM258.6 268.8h1v1h-1zM275.7 271.0h1v1h-1zM258.6 271.1h1v1h-1zM258.9 270.4h1v1h-1zM268.6 252.7h1v1h-1zM253.2 262.5h1v1h-1zM250.9 266.2h1v1h-1zM254.1 260.4h1v1h-1zM268.3 265.8h1v1h-1zM253.0 266.3h1v1h-1zM265.7 262.3h1v1h-1zM261.7 270.5h1v1h-1zM275.4 263.3h1v1h-1zM281.0 254.1h1v1h-1zM267.8 269.9h1v1h-1zM259.8 268.9h1v1h-1zM264.9 259.8h1v1h-1zM260.4 256.7h1v1h-1zM256.6 255.9h1v1h-1zM277.9 259.8h1v1h-1zM278.1 265.6h1v1h-1zM277.4 263.8h1v1h-1zM258.8 269.5h1v1h-1zM258.5 259.9h1v1h-1zM256.7 270.5h1v1h-1zM272.4 252.2h1v1h-1zM285.3 263.4h1v1h-1zM261.5 262.8h1v1h-1zM267.7 268.7h1v1h-1zM260.0 259.6h1v1h-1zM264.3 251.8h1v1h-1zM270.0 268.7h1v1h-1zM270.6 266.1h1v1h-1zM272.2 265.0h1v1h-1zM265.4 258.8h1v1h-1zM263.8 264.1h1v1h-1zM281.2 266.3h1v1h-1zM268.1 258.0h1v1h-1zM259.0 265.6h1v1h-1zM279.4 259.3h1v1h-1zM263.7 259.9h1v1h-1zM274.7 261.2h1v1h-1zM265.8 264.2h1v1h-1zM280.9 255.6h1v1h-1zM284.2 262.6h1v1h-1zM268.5 267.7h1v1h-1zM263.0 259.9h1v1h-1zM261.5 260.1h1v1h-1zM270.7 261.4h1v1h-1zM273.1 265.2h1v1h-1zM250.1 271.9h1v1h-1zM258.3 267.7h1v1h-1zM274.4 249.2h1v1h-1zM267.5 262.3h1v1h-1zM265.1 260.8h1v1h-1zM258.2 256.2h1v1h-1zM256.7 265.6h1v1h-1zM262.3 264.7h1v1h-1zM257.8 270.6h1v1h-1zM258.5 258.8h1v1h-1zM257.7 265.0h1v1h-1zM274.8 262.3h1v1h-1zM263.0 265.0h1v1h-1zM272.7 272.8h1v1h-1zM261.5 268.4h1v1h-1zM270.4 255.7h1v1h-1zM268.1 263.5h1v1h-1zM263.1 268.3h1v1h-1zM277.9 264.8h1v1h-1zM264.7 265.3h1v1h-1zM284.7 248.1h1v1h-1zM270.1 267.0h1v1h-1zM268.9 266.1h1v1h-1zM269.3 266.5h1v1h-1zM277.1 257.0h1v1h-1zM267.7 262.4h1v1h-1zM262.3 265.1h1v1h-1zM257.5 272.0h1v1h-1zM285.4 264.8h1v1h-1zM275.3 253.3h1v1h-1zM278.1 253.5h1v1h-1zM269.8 272.9h1v1h-1zM258.2 272.2h1v1h-1zM268.2 261.6h1v1h-1zM259.0 269.3h1v1h-1zM264.2 270.7h1v1h-1zM273.9 251.5h1v1h-1zM260.7 264.0h1v1h-1zM252.7 262.9h1v1h-1zM266.3 262.1h1v1h-1zM249.8 267.8h1v1h-1zM267.9 255.3h1v1h-1zM274.2 249.9h1v1h-1zM254.6 271.1h1v1h-1zM254.6 267.3h1v1h-1zM263.2 268.2h1v1h-1zM238.0 263.2h1v1h-1zM260.6 255.6h1v1h-1zM272.1 264.9h1v1h-1zM263.0 262.9h1v1h-1zM272.8 267.7h1v1h-1zM268.6 265.5h1v1h-1zM264.7 261.8h1v1h-1zM258.3 268.6h1v1h-1zM262.7 263.6h1v1h-1zM275.6 262.0h1v1h-1zM270.2 252.0h1v1h-1zM269.7 258.2h1v1h-1zM256.7 262.7h1v1h-1zM278.9 262.5h1v1h-1zM256.9 260.9h1v1h-1zM265.1 261.2h1v1h-1zM277.6 249.2h1v1h-1zM248.8 270.0h1v1h-1zM266.4 264.1h1v1h-1zM277.6 270.7h1v1h-1zM261.6 262.2h1v1h-1zM250.6 272.1h1v1h-1zM273.1 258.6h1v1h-1zM276.8 258.7h1v1h-1zM280.5 258.8h1v1h-1zM254.9 264.8h1v1h-1zM248.1 261.3h1v1h-1zM270.4 266.7h1v1h-1zM283.6 255.0h1v1h-1zM261.3 259.0h1v1h-1zM275.9 261.3h1v1h-1zM262.2 269.4h1v1h-1zM266.7 251.8h1v1h-1zM273.0 261.0h1v1h-1zM261.5 263.1h1v1h-1zM285.4 263.8h1v1h-1zM279.9 250.1h1v1h-1zM262.2 270.8h1v1h-1zM253.4 265.0h1v1h-1zM276.7 261.3h1v1h-1zM267.0 260.5h1v1h-1zM263.8 268.3h1v1h-1zM262.4 272.6h1v1h-1zM259.5 261.2h1v1h-1zM277.4 257.3h1v1h-1zM270.1 259.1h1v1h-1zM247.6 260.8h1v1h-1zM269.8 264.3h1v1h-1zM264.1 257.0h1v1h-1zM270.6 252.4h1v1h-1zM260.0 261.5h1v1h-1zM264.6 269.3h1v1h-1zM261.6 269.0h1v1h-1zM268.3 252.0h1v1h-1zM254.5 266.5h1v1h-1zM261.3 267.5h1v1h-1zM272.4 259.5h1v1h-1zM253.5 269.4h1v1h-1zM262.4 268.6h1v1h-1zM266.9 267.5h1v1h-1zM265.4 272.5h1v1h-1zM242.7 268.2h1v1h-1zM266.9 253.9h1v1h-1zM269.8 254.3h1v1h-1zM264.7 258.5h1v1h-1zM262.4 266.2h1v1h-1zM264.2 262.0h1v1h-1zM285.5 254.4h1v1h-1zM259.4 272.2h1v1h-1zM276.3 266.1h1v1h-1zM280.0 251.3h1v1h-1zM278.3 264.7h1v1h-1zM266.6 264.7h1v1h-1zM278.1 247.0h1v1h-1zM261.8 267.2h1v1h-1zM275.0 269.2h1v1h-1zM250.1 271.2h1v1h-1zM270.7 253.3h1v1h-1zM279.2 260.6h1v1h-1zM268.8 260.3h1v1h-1zM261.8 259.6h1v1h-1zM267.5 260.9h1v1h-1zM263.0 264.4h1v1h-1zM273.6 261.4h1v1h-1zM254.8 267.9h1v1h-1zM269.2 259.2h1v1h-1zM278.2 262.5h1v1h-1zM257.8 269.3h1v1h-1zM267.6 268.2h1v1h-1zM256.5 259.1h1v1h-1zM271.6 262.4h1v1h-1zM270.6 261.2h1v1h-1zM267.8 259.6h1v1h-1zM272.2 265.7h1v1h-1zM267.4 267.8h1v1h-1zM248.1 267.1h1v1h-1zM283.2 266.2h1v1h-1zM268.0 261.9h1v1h-1zM255.4 270.7h1v1h-1zM269.6 252.8h1v1h-1zM272.2 263.6h1v1h-1zM267.4 256.0h1v1h-1zM267.4 253.7h1v1h-1zM279.8 257.9h1v1h-1zM274.9 255.4h1v1h-1zM283.6 249.2h1v1h-1zM271.6 268.1h1v1h-1zM265.4 263.7h1v1h-1zM257.0 269.7h1v1h-1zM253.7 263.4h1v1h-1zM259.1 259.3h1v1h-1zM277.2 250.2h1v1h-1zM258.4 265.1h1v1h-1zM267.9 267.4h1v1h-1zM272.7 258.5h1v1h-1zM262.6 265.3h1v1h-1zM275.1 263.5h1v1h-1zM256.5 255.4h1v1h-1zM269.2 264.1h1v1h-1zM258.9 260.7h1v1h-1zM262.5 263.8h1v1h-1zM256.9 258.9h1v1h-1zM264.5 267.7h1v1h-1zM261.6 265.7h1v1h-1zM246.8 271.2h1v1h-1zM262.0 257.9h1v1h-1zM251.3 272.9h1v1h-1zM259.8 269.4h1v1h-1zM263.6 268.4h1v1h-1zM259.4 257.4h1v1h-1zM264.5 262.2h1v1h-1zM270.9 258.5h1v1h-1zM264.4 269.4h1v1h-1zM278.3 262.4h1v1h-1zM276.5 261.4h1v1h-1zM275.0 264.6h1v1h-1zM269.8 262.1h1v1h-1zM265.6 262.3h1v1h-1zM262.6 264.9h1v1h-1zM265.6 256.8h1v1h-1zM252.0 271.6h1v1h-1zM270.0 268.7h1v1h-1zM282.0 258.3h1v1h-1zM258.2 260.0h1v1h-1zM258.9 267.0h1v1h-1zM247.4 272.6h1v1h-1zM267.4 266.8h1v1h-1zM263.2 265.4h1v1h-1zM258.2 264.3h1v1h-1zM250.2 271.6h1v1h-1zM280.4 257.8h1v1h-1zM267.0 257.1h1v1h-1zM277.2 253.6h1v1h-1zM273.5 260.6h1v1h-1zM259.7 272.7h1v1h-1zM266.6 264.3h1v1h-1zM270.0 261.5h1v1h-1zM263.7 267.4h1v1h-1zM262.5 265.5h1v1h-1zM256.5 258.9h1v1h-1zM258.7 263.9h1v1h-1zM268.9 269.3h1v1h-1zM251.0 271.3h1v1h-1zM243.5 267.6h1v1h-1zM256.2 254.4h1v1h-1zM249.5 272.1h1v1h-1zM266.4 262.6h1v1h-1zM262.5 259.9h1v1h-1zM282.6 259.5h1v1h-1zM265.4 271.0h1v1h-1zM268.9 266.0h1v1h-1zM265.7 257.4h1v1h-1zM275.2 260.2h1v1h-1zM255.1 264.0h1v1h-1zM273.8 257.6h1v1h-1zM267.9 266.6h1v1h-1zM263.6 255.3h1v1h-1zM274.0 265.5h1v1h-1zM277.6 267.9h1v1h-1zM271.1 265.8h1v1h-1zM279.7 255.3h1v1h-1zM285.8 264.8h1v1h-1zM277.4 269.4h1v1h-1zM271.7 255.5h1v1h-1zM277.1 260.3h1v1h-1zM270.1 262.5h1v1h-1zM279.6 260.5h1v1h-1zM260.8 268.9h1v1h-1zM270.9 256.8h1v1h-1zM261.2 263.4h1v1h-1zM261.3 267.8h1v1h-1zM279.6 268.6h1v1h-1zM279.2 263.5h1v1h-1zM279.5 265.3h1v1h-1zM264.2 268.5h1v1h-1zM268.6 261.5h1v1h-1zM260.7 262.9h1v1h-1zM260.7 258.5h1v1h-1zM270.7 261.2h1v1h-1zM267.7 264.7h1v1h-1zM271.2 257.5h1v1h-1zM261.3 255.9h1v1h-1zM241.4 263.2h1v1h-1zM275.7 247.9h1v1h-1zM273.7 268.9h1v1h-1zM284.9 260.4h1v1h-1zM260.6 269.2h1v1h-1zM259.0 258.9h1v1h-1zM261.1 265.7h1v1h-1zM260.4 267.0h1v1h-1zM263.0 262.5h1v1h-1zM251.8 261.6h1v1h-1zM260.1 268.1h1v1h-1zM283.8 258.2h1v1h-1zM262.3 257.3h1v1h-1zM261.2 252.8h1v1h-1zM267.3 272.9h1v1h-1zM271.8 267.8h1v1h-1zM259.6 258.3h1v1h-1zM261.0 263.6h1v1h-1zM281.8 268.3h1v1h-1zM258.7 264.9h1v1h-1zM264.1 262.4h1v1h-1zM255.2 269.2h1v1h-1zM270.5 263.9h1v1h-1zM255.1 268.1h1v1h-1zM256.4 266.5h1v1h-1zM260.9 262.5h1v1h-1zM252.6 259.2h1v1h-1zM282.6 257.5h1v1h-1zM273.6 272.9h1v1h-1zM266.7 266.7h1v1h-1zM269.3 269.4h1v1h-1zM271.6 263.0h1v1h-1zM264.7 266.0h1v1h-1zM272.1 248.3h1v1h-1zM264.2 262.0h1v1h-1zM259.1 254.9h1v1h-1zM271.0 256.2h1v1h-1zM263.1 262.0h1v1h-1zM250.2 268.4h1v1h-1zM247.5 266.6h1v1h-1zM263.5 264.8h1v1h-1zM266.6 262.6h1v1h-1zM253.9 265.6h1v1h-1zM260.0 265.4h1v1h-1zM258.9 261.8h1v1h-1zM281.4 256.8h1v1h-1zM262.7 263.7h1v1h-1zM267.7 271.4h1v1h-1zM273.3 267.1h1v1h-1zM280.6 268.9h1v1h-1zM262.7 254.8h1v1h-1zM270.3 258.1h1v1h-1zM248.7 268.0h1v1h-1zM278.8 265.1h1v1h-1zM270.5 255.3h1v1h-1zM286.5 247.1h1v1h-1zM262.4 256.7h1v1h-1zM279.4 260.2h1v1h-1zM274.7 260.2h1v1h-1zM266.2 264.7h1v1h-1zM273.8 257.7h1v1h-1zM267.0 265.1h1v1h-1zM281.7 259.0h1v1h-1zM265.7 260.8h1v1h-1zM251.5 266.9h1v1h-1zM266.5 262.0h1v1h-1zM268.9 266.9h1v1h-1zM271.1 263.1h1v1h-1zM272.9 261.7h1v1h-1zM267.3 266.0h1v1h-1zM269.2 269.0h1v1h-1zM264.7 258.7h1v1h-1zM276.7 259.9h1v1h-1zM267.8 263.4h1v1h-1zM277.5 263.4h1v1h-1zM265.1 254.8h1v1h-1zM263.2 265.8h1v1h-1zM283.8 257.9h1v1h-1zM268.5 269.9h1v1h-1zM265.5 263.9h1v1h-1zM264.5 255.4h1v1h-1zM276.3 261.6h1v1h-1zM261.4 259.0h1v1h-1zM271.8 269.6h1v1h-1zM258.3 261.0h1v1h-1zM266.7 253.8h1v1h-1zM245.5 270.7h1v1h-1zM259.7 265.1h1v1h-1zM262.4 267.5h1v1h-1zM263.3 261.5h1v1h-1z" fill="#EE9A1E" fill-opacity="0.42"/>
<path d="M254.0 270.8h1v1h-1zM261.1 271.8h1v1h-1zM259.8 255.0h1v1h-1zM251.3 267.0h1v1h-1zM257.3 261.8h1v1h-1zM263.4 269.4h1v1h-1zM253.2 268.9h1v1h-1zM254.6 265.2h1v1h-1zM258.8 266.4h1v1h-1zM249.2 265.7h1v1h-1zM255.7 263.9h1v1h-1zM262.6 263.9h1v1h-1zM265.1 271.8h1v1h-1zM251.6 268.8h1v1h-1zM262.2 267.5h1v1h-1zM250.4 268.7h1v1h-1zM266.3 262.3h1v1h-1zM259.1 268.3h1v1h-1zM255.7 266.7h1v1h-1zM254.7 272.4h1v1h-1zM259.3 264.3h1v1h-1zM264.1 263.1h1v1h-1zM259.7 269.0h1v1h-1zM262.3 269.7h1v1h-1zM261.6 268.2h1v1h-1zM261.2 269.7h1v1h-1zM267.1 265.5h1v1h-1zM262.3 270.1h1v1h-1zM257.2 266.0h1v1h-1zM258.6 262.4h1v1h-1zM249.5 271.1h1v1h-1zM255.0 269.3h1v1h-1zM256.7 270.0h1v1h-1zM255.0 266.8h1v1h-1zM255.7 272.5h1v1h-1zM258.2 267.5h1v1h-1zM248.0 270.9h1v1h-1zM260.6 266.7h1v1h-1zM256.9 272.5h1v1h-1zM257.9 261.4h1v1h-1zM254.0 266.7h1v1h-1zM259.0 264.9h1v1h-1zM254.2 264.5h1v1h-1zM256.2 268.6h1v1h-1zM261.3 271.5h1v1h-1zM257.2 269.3h1v1h-1zM256.9 268.8h1v1h-1zM264.1 258.4h1v1h-1zM255.5 269.6h1v1h-1zM262.0 263.9h1v1h-1zM258.1 271.8h1v1h-1zM254.2 260.7h1v1h-1zM254.6 263.5h1v1h-1zM259.6 264.9h1v1h-1zM265.3 268.9h1v1h-1zM252.4 266.3h1v1h-1zM250.9 269.9h1v1h-1zM263.8 267.4h1v1h-1zM261.0 264.5h1v1h-1zM262.3 260.8h1v1h-1zM249.2 264.4h1v1h-1zM261.2 266.6h1v1h-1zM255.5 271.1h1v1h-1zM257.0 269.2h1v1h-1zM254.8 272.8h1v1h-1zM254.7 265.1h1v1h-1zM259.6 270.1h1v1h-1zM246.5 269.2h1v1h-1zM249.6 265.0h1v1h-1zM260.3 264.8h1v1h-1zM258.1 266.8h1v1h-1zM266.0 267.9h1v1h-1zM250.5 263.9h1v1h-1zM251.8 268.8h1v1h-1zM256.3 272.2h1v1h-1zM257.2 268.8h1v1h-1zM258.0 267.8h1v1h-1zM257.8 271.4h1v1h-1zM260.3 266.1h1v1h-1zM247.5 265.0h1v1h-1zM257.7 258.3h1v1h-1zM253.9 270.1h1v1h-1zM253.5 263.8h1v1h-1zM262.8 263.7h1v1h-1zM269.7 264.5h1v1h-1zM255.0 263.9h1v1h-1zM256.7 263.0h1v1h-1zM256.3 272.6h1v1h-1zM257.3 267.2h1v1h-1zM264.0 264.6h1v1h-1zM261.1 267.0h1v1h-1zM257.3 268.3h1v1h-1zM256.9 268.0h1v1h-1zM252.3 265.9h1v1h-1zM258.5 267.8h1v1h-1zM250.4 265.4h1v1h-1zM252.8 268.0h1v1h-1zM257.1 268.5h1v1h-1zM253.0 268.2h1v1h-1zM249.4 256.6h1v1h-1zM255.9 261.5h1v1h-1zM251.5 263.3h1v1h-1zM259.3 263.3h1v1h-1zM257.6 266.2h1v1h-1zM250.0 261.8h1v1h-1zM258.5 269.7h1v1h-1zM257.5 269.2h1v1h-1zM255.5 268.5h1v1h-1zM254.4 264.5h1v1h-1zM266.1 260.6h1v1h-1zM257.4 269.8h1v1h-1zM256.8 264.2h1v1h-1zM255.1 266.2h1v1h-1zM250.7 267.9h1v1h-1zM254.0 265.8h1v1h-1zM259.5 263.8h1v1h-1zM258.2 265.6h1v1h-1zM258.2 268.3h1v1h-1zM257.2 264.1h1v1h-1zM252.1 264.6h1v1h-1zM256.9 271.0h1v1h-1zM261.4 266.0h1v1h-1zM256.4 261.5h1v1h-1zM244.9 264.5h1v1h-1zM252.6 261.8h1v1h-1zM247.1 270.1h1v1h-1zM251.9 261.2h1v1h-1zM267.5 268.6h1v1h-1zM254.3 270.6h1v1h-1zM248.2 262.7h1v1h-1zM255.2 264.9h1v1h-1zM262.9 261.5h1v1h-1zM252.2 268.9h1v1h-1zM258.7 271.9h1v1h-1zM253.5 268.6h1v1h-1zM260.1 266.6h1v1h-1zM254.4 266.0h1v1h-1zM252.6 263.4h1v1h-1zM253.1 261.7h1v1h-1zM257.7 261.5h1v1h-1zM261.3 267.0h1v1h-1zM252.9 272.7h1v1h-1zM256.7 270.1h1v1h-1zM252.2 272.1h1v1h-1zM251.8 268.2h1v1h-1zM247.2 265.2h1v1h-1zM258.3 266.0h1v1h-1zM253.5 271.0h1v1h-1zM255.4 272.8h1v1h-1zM243.7 270.1h1v1h-1zM258.3 261.6h1v1h-1zM249.3 271.3h1v1h-1zM250.4 265.3h1v1h-1zM258.7 266.5h1v1h-1zM258.1 264.3h1v1h-1zM257.2 272.1h1v1h-1zM257.4 259.0h1v1h-1zM259.0 268.0h1v1h-1zM255.5 262.5h1v1h-1zM256.2 269.1h1v1h-1zM258.4 272.0h1v1h-1zM251.3 269.7h1v1h-1zM259.4 266.7h1v1h-1zM251.1 264.0h1v1h-1zM259.5 271.0h1v1h-1zM251.6 262.4h1v1h-1zM261.9 261.6h1v1h-1zM256.5 264.6h1v1h-1zM247.0 268.3h1v1h-1zM267.0 267.0h1v1h-1zM260.8 271.9h1v1h-1zM253.1 264.3h1v1h-1zM263.7 266.3h1v1h-1zM255.6 266.6h1v1h-1zM255.1 265.4h1v1h-1zM259.4 272.8h1v1h-1zM253.9 262.3h1v1h-1zM256.0 261.9h1v1h-1zM252.5 272.7h1v1h-1zM267.3 269.3h1v1h-1zM250.4 270.9h1v1h-1zM244.5 265.0h1v1h-1zM263.3 270.7h1v1h-1zM248.9 261.2h1v1h-1zM260.0 267.6h1v1h-1zM252.8 269.4h1v1h-1zM252.9 260.1h1v1h-1zM259.7 265.2h1v1h-1zM250.7 262.5h1v1h-1zM257.0 264.6h1v1h-1zM258.8 266.7h1v1h-1zM261.1 266.2h1v1h-1zM252.5 259.9h1v1h-1zM250.3 270.6h1v1h-1zM270.9 262.8h1v1h-1zM250.6 269.1h1v1h-1zM258.1 265.1h1v1h-1zM256.1 261.4h1v1h-1zM254.2 271.4h1v1h-1zM263.9 267.1h1v1h-1zM254.4 269.6h1v1h-1zM261.2 269.7h1v1h-1zM252.0 269.2h1v1h-1zM260.5 264.9h1v1h-1zM249.1 269.8h1v1h-1zM257.5 271.6h1v1h-1zM256.2 265.2h1v1h-1zM253.6 263.7h1v1h-1zM251.0 265.6h1v1h-1zM253.3 272.2h1v1h-1zM249.6 267.6h1v1h-1zM257.0 266.3h1v1h-1zM259.8 268.1h1v1h-1zM261.5 270.9h1v1h-1zM256.4 263.5h1v1h-1zM259.3 268.1h1v1h-1zM259.1 267.8h1v1h-1zM252.3 263.8h1v1h-1zM259.3 273.0h1v1h-1zM254.3 269.6h1v1h-1zM262.7 264.5h1v1h-1zM254.1 263.4h1v1h-1zM261.6 268.9h1v1h-1zM253.5 261.2h1v1h-1zM254.9 271.8h1v1h-1zM254.3 266.1h1v1h-1zM259.0 262.9h1v1h-1zM256.1 270.2h1v1h-1zM251.9 264.5h1v1h-1zM257.0 267.4h1v1h-1zM254.6 268.7h1v1h-1z" fill="#EE9A1E" fill-opacity="0.4"/>
<path d="M276.7 253.6h1v1h-1zM273.2 258.4h1v1h-1zM280.3 261.6h1v1h-1zM272.5 260.7h1v1h-1zM278.9 256.8h1v1h-1zM277.8 259.8h1v1h-1zM283.0 253.2h1v1h-1zM278.2 256.4h1v1h-1zM275.0 260.9h1v1h-1zM279.1 253.4h1v1h-1zM274.7 257.7h1v1h-1zM270.3 259.9h1v1h-1zM275.6 257.5h1v1h-1zM277.2 263.2h1v1h-1zM276.0 255.7h1v1h-1zM282.8 255.2h1v1h-1zM273.8 252.1h1v1h-1zM280.2 257.8h1v1h-1zM277.7 257.5h1v1h-1zM275.3 254.2h1v1h-1zM272.8 258.4h1v1h-1zM276.4 262.5h1v1h-1zM272.9 255.2h1v1h-1zM271.8 261.7h1v1h-1zM271.0 259.6h1v1h-1zM281.6 256.4h1v1h-1zM278.8 249.5h1v1h-1zM274.4 251.2h1v1h-1zM276.6 256.9h1v1h-1zM272.8 260.2h1v1h-1zM277.3 255.1h1v1h-1zM273.9 251.8h1v1h-1zM275.2 264.2h1v1h-1zM273.1 258.4h1v1h-1zM273.7 259.7h1v1h-1zM277.6 256.1h1v1h-1zM268.8 255.1h1v1h-1zM280.6 256.1h1v1h-1zM278.4 255.2h1v1h-1zM268.5 258.4h1v1h-1zM277.2 254.9h1v1h-1zM274.4 257.9h1v1h-1zM273.6 258.1h1v1h-1zM275.1 248.8h1v1h-1zM275.3 254.9h1v1h-1zM272.6 258.3h1v1h-1zM274.0 258.8h1v1h-1zM280.2 257.4h1v1h-1zM269.8 254.4h1v1h-1zM279.5 256.0h1v1h-1zM272.7 256.6h1v1h-1zM277.9 257.8h1v1h-1zM278.5 254.1h1v1h-1zM274.8 256.1h1v1h-1zM275.8 249.7h1v1h-1zM275.0 252.3h1v1h-1zM281.4 262.3h1v1h-1zM282.6 259.7h1v1h-1zM274.0 260.3h1v1h-1zM275.1 259.0h1v1h-1zM272.4 254.9h1v1h-1zM277.8 263.1h1v1h-1zM275.8 264.7h1v1h-1zM275.8 253.6h1v1h-1zM275.4 255.1h1v1h-1zM275.7 260.3h1v1h-1zM279.6 257.8h1v1h-1zM275.9 257.4h1v1h-1zM276.4 258.9h1v1h-1zM276.0 258.7h1v1h-1zM270.8 259.7h1v1h-1zM282.8 257.6h1v1h-1zM270.3 261.6h1v1h-1zM274.6 246.6h1v1h-1zM275.1 259.0h1v1h-1zM277.5 261.2h1v1h-1zM278.4 257.4h1v1h-1zM268.1 253.1h1v1h-1zM276.7 259.3h1v1h-1zM271.9 254.8h1v1h-1zM277.8 250.3h1v1h-1zM268.2 256.2h1v1h-1zM276.9 255.3h1v1h-1zM266.9 257.0h1v1h-1zM270.7 259.2h1v1h-1zM275.5 257.9h1v1h-1zM278.5 255.1h1v1h-1zM279.2 261.3h1v1h-1zM277.5 261.6h1v1h-1zM273.5 260.1h1v1h-1zM277.0 253.5h1v1h-1zM275.6 255.1h1v1h-1zM273.8 257.3h1v1h-1zM280.2 255.9h1v1h-1zM276.4 251.9h1v1h-1zM276.4 261.0h1v1h-1zM279.2 258.6h1v1h-1zM273.9 253.6h1v1h-1zM275.6 252.3h1v1h-1zM271.1 260.2h1v1h-1zM272.3 263.2h1v1h-1zM270.3 258.5h1v1h-1zM271.3 257.6h1v1h-1zM271.8 257.1h1v1h-1zM275.3 255.4h1v1h-1zM278.0 262.2h1v1h-1zM273.6 260.0h1v1h-1zM276.3 256.9h1v1h-1zM284.6 249.4h1v1h-1zM273.3 250.7h1v1h-1zM274.7 256.2h1v1h-1zM283.1 261.5h1v1h-1zM274.2 258.6h1v1h-1zM282.6 257.6h1v1h-1zM276.8 258.7h1v1h-1zM270.0 254.1h1v1h-1zM277.3 258.9h1v1h-1zM272.3 255.8h1v1h-1zM275.5 256.4h1v1h-1zM278.7 257.3h1v1h-1zM276.6 252.0h1v1h-1zM271.8 258.1h1v1h-1zM269.6 257.9h1v1h-1zM273.3 254.1h1v1h-1zM278.5 254.6h1v1h-1zM272.5 254.6h1v1h-1zM276.2 266.5h1v1h-1zM267.5 256.9h1v1h-1zM275.0 260.2h1v1h-1zM274.5 248.4h1v1h-1zM281.2 253.1h1v1h-1zM275.7 252.2h1v1h-1zM271.6 255.2h1v1h-1zM279.3 259.9h1v1h-1zM273.5 258.7h1v1h-1zM274.4 257.3h1v1h-1zM276.5 259.1h1v1h-1zM273.5 256.5h1v1h-1zM276.8 257.2h1v1h-1zM272.7 262.9h1v1h-1zM274.1 259.5h1v1h-1zM276.7 261.2h1v1h-1zM267.2 264.0h1v1h-1zM275.0 252.6h1v1h-1zM276.4 264.8h1v1h-1zM277.9 252.6h1v1h-1zM274.0 261.5h1v1h-1zM270.3 256.3h1v1h-1z" fill="#EE9A1E" fill-opacity="0.35"/>
<ellipse cx="265.5" cy="264" rx="11.5" ry="6.4" transform="rotate(-25 265.5 264)" fill="#EC941A" fill-opacity="0.85" filter="url(#bl)"/>
<path d="M47.2 366.7h1v1h-1zM47.2 362.0h1v1h-1zM45.1 350.4h1v1h-1zM54.3 358.2h1v1h-1zM39.4 358.3h1v1h-1zM52.3 351.5h1v1h-1zM50.0 356.3h1v1h-1zM46.2 351.6h1v1h-1zM45.2 353.3h1v1h-1zM41.6 354.6h1v1h-1zM40.7 355.2h1v1h-1zM48.4 349.2h1v1h-1zM53.5 365.4h1v1h-1zM56.1 347.4h1v1h-1zM55.8 356.0h1v1h-1zM48.5 351.6h1v1h-1zM48.8 362.4h1v1h-1zM51.8 352.6h1v1h-1zM45.2 352.5h1v1h-1zM52.0 365.0h1v1h-1zM43.0 354.8h1v1h-1zM46.7 350.7h1v1h-1zM51.0 357.8h1v1h-1zM41.1 349.2h1v1h-1zM55.3 356.5h1v1h-1zM51.7 352.1h1v1h-1zM46.7 357.3h1v1h-1zM46.1 348.8h1v1h-1zM48.8 359.7h1v1h-1zM43.2 360.6h1v1h-1zM52.6 350.1h1v1h-1zM48.9 354.6h1v1h-1zM52.3 358.4h1v1h-1zM41.7 347.5h1v1h-1zM54.4 355.4h1v1h-1zM51.1 356.6h1v1h-1zM57.2 348.2h1v1h-1zM54.7 350.4h1v1h-1zM52.8 362.1h1v1h-1zM41.3 357.0h1v1h-1zM47.3 353.2h1v1h-1zM49.0 349.1h1v1h-1zM43.6 358.4h1v1h-1zM53.4 351.7h1v1h-1zM40.9 367.4h1v1h-1zM54.8 356.8h1v1h-1zM43.2 351.6h1v1h-1zM50.1 349.6h1v1h-1zM57.5 355.6h1v1h-1zM50.9 349.2h1v1h-1zM43.9 350.5h1v1h-1zM50.3 353.4h1v1h-1zM47.2 356.5h1v1h-1zM50.0 362.9h1v1h-1zM47.7 349.3h1v1h-1zM48.7 362.7h1v1h-1zM45.8 355.1h1v1h-1zM46.9 357.0h1v1h-1zM50.2 350.4h1v1h-1zM47.6 359.9h1v1h-1zM54.7 359.8h1v1h-1zM53.5 353.0h1v1h-1zM46.8 359.8h1v1h-1zM42.5 354.5h1v1h-1zM38.8 352.8h1v1h-1zM45.0 348.3h1v1h-1zM52.0 350.8h1v1h-1zM46.8 353.4h1v1h-1zM44.8 362.5h1v1h-1zM46.1 355.9h1v1h-1zM41.8 352.3h1v1h-1zM47.1 353.2h1v1h-1zM45.7 355.6h1v1h-1zM57.2 354.1h1v1h-1zM48.1 352.7h1v1h-1zM62.5 363.5h1v1h-1zM51.8 358.6h1v1h-1zM45.0 354.0h1v1h-1zM50.0 355.5h1v1h-1zM44.2 350.6h1v1h-1zM51.6 356.5h1v1h-1zM37.5 355.3h1v1h-1zM55.7 351.3h1v1h-1zM50.1 347.0h1v1h-1zM53.3 348.8h1v1h-1zM42.1 353.1h1v1h-1zM61.6 351.5h1v1h-1zM42.0 357.3h1v1h-1zM50.1 363.8h1v1h-1zM42.0 346.2h1v1h-1zM47.1 356.9h1v1h-1zM50.8 360.7h1v1h-1zM40.8 350.4h1v1h-1zM48.1 359.4h1v1h-1zM51.4 352.6h1v1h-1zM43.3 359.6h1v1h-1zM47.9 363.6h1v1h-1zM42.3 351.9h1v1h-1zM45.2 352.3h1v1h-1zM44.1 351.9h1v1h-1zM48.5 352.4h1v1h-1zM52.4 354.4h1v1h-1zM48.8 362.8h1v1h-1zM50.5 355.7h1v1h-1zM48.7 355.2h1v1h-1zM51.9 350.5h1v1h-1zM55.0 363.3h1v1h-1zM55.1 352.2h1v1h-1zM40.3 352.5h1v1h-1zM49.7 359.3h1v1h-1zM47.9 353.2h1v1h-1zM57.0 351.2h1v1h-1zM54.6 359.7h1v1h-1zM41.7 356.3h1v1h-1zM45.8 349.7h1v1h-1zM38.9 346.4h1v1h-1zM51.1 352.7h1v1h-1zM50.3 349.1h1v1h-1zM47.1 353.4h1v1h-1zM40.5 345.9h1v1h-1zM51.2 355.6h1v1h-1zM43.8 354.3h1v1h-1zM52.4 364.7h1v1h-1zM44.1 358.2h1v1h-1zM60.3 355.2h1v1h-1zM56.7 340.9h1v1h-1zM56.6 354.8h1v1h-1zM38.7 359.0h1v1h-1zM54.5 361.4h1v1h-1zM55.3 354.7h1v1h-1zM44.8 352.4h1v1h-1zM48.7 357.0h1v1h-1zM46.2 355.1h1v1h-1zM53.6 356.6h1v1h-1zM61.2 366.5h1v1h-1zM42.6 351.8h1v1h-1zM41.8 348.6h1v1h-1zM51.8 349.5h1v1h-1zM43.2 353.4h1v1h-1zM53.2 352.9h1v1h-1zM46.9 359.8h1v1h-1zM51.4 357.3h1v1h-1zM54.0 349.4h1v1h-1zM50.0 351.4h1v1h-1zM54.4 359.2h1v1h-1zM43.2 362.1h1v1h-1zM42.5 361.2h1v1h-1zM49.9 350.1h1v1h-1zM42.8 353.2h1v1h-1zM48.7 351.0h1v1h-1zM51.9 347.3h1v1h-1zM48.8 354.8h1v1h-1zM38.7 356.5h1v1h-1zM42.0 341.3h1v1h-1zM45.5 353.6h1v1h-1zM53.7 352.2h1v1h-1zM56.8 362.6h1v1h-1zM54.8 362.0h1v1h-1zM50.7 351.8h1v1h-1zM52.3 360.1h1v1h-1zM50.1 353.5h1v1h-1zM40.3 358.5h1v1h-1zM50.7 347.8h1v1h-1zM49.4 358.8h1v1h-1zM48.2 359.1h1v1h-1zM52.9 346.8h1v1h-1zM47.2 357.5h1v1h-1zM53.8 362.5h1v1h-1zM38.4 354.5h1v1h-1zM52.7 361.5h1v1h-1zM58.0 349.8h1v1h-1zM46.8 349.1h1v1h-1zM53.3 347.6h1v1h-1zM55.3 359.9h1v1h-1zM51.5 343.0h1v1h-1zM45.2 358.9h1v1h-1zM41.1 353.5h1v1h-1zM48.3 359.7h1v1h-1zM50.4 356.3h1v1h-1zM46.4 354.9h1v1h-1zM48.1 358.8h1v1h-1zM47.9 360.4h1v1h-1zM39.6 361.4h1v1h-1zM47.9 361.0h1v1h-1zM49.3 359.5h1v1h-1zM56.9 351.8h1v1h-1zM49.3 353.9h1v1h-1zM50.0 346.0h1v1h-1zM47.9 353.5h1v1h-1zM44.6 353.8h1v1h-1zM40.4 362.4h1v1h-1zM51.3 365.1h1v1h-1zM44.1 348.5h1v1h-1zM50.4 345.8h1v1h-1zM50.0 351.0h1v1h-1zM47.0 356.2h1v1h-1zM49.1 364.9h1v1h-1zM52.2 347.8h1v1h-1zM54.1 347.5h1v1h-1zM49.3 348.0h1v1h-1zM44.3 361.9h1v1h-1zM45.8 351.3h1v1h-1zM45.7 353.1h1v1h-1zM56.6 348.4h1v1h-1zM42.1 357.9h1v1h-1zM40.1 352.8h1v1h-1zM54.9 354.8h1v1h-1zM46.2 350.9h1v1h-1zM43.8 351.6h1v1h-1zM49.5 361.5h1v1h-1zM54.0 351.7h1v1h-1zM44.8 358.5h1v1h-1zM38.9 352.4h1v1h-1zM47.0 348.7h1v1h-1zM43.3 356.6h1v1h-1zM39.7 349.8h1v1h-1zM45.2 355.2h1v1h-1zM41.3 360.6h1v1h-1zM47.0 353.3h1v1h-1zM46.7 351.0h1v1h-1zM43.4 360.9h1v1h-1zM49.8 354.1h1v1h-1zM54.1 350.8h1v1h-1zM52.1 354.8h1v1h-1zM43.8 358.8h1v1h-1zM40.5 358.2h1v1h-1zM43.8 356.8h1v1h-1zM56.1 357.7h1v1h-1zM45.4 354.5h1v1h-1zM46.6 348.2h1v1h-1zM42.6 354.8h1v1h-1zM51.5 345.0h1v1h-1zM48.2 357.3h1v1h-1zM49.2 349.1h1v1h-1zM54.2 348.0h1v1h-1zM52.1 363.2h1v1h-1zM37.5 355.9h1v1h-1zM50.2 355.8h1v1h-1zM44.4 352.8h1v1h-1zM41.0 355.2h1v1h-1zM51.4 350.9h1v1h-1zM43.5 352.0h1v1h-1zM48.5 354.8h1v1h-1zM47.9 354.9h1v1h-1zM41.4 339.7h1v1h-1zM51.8 362.2h1v1h-1zM40.8 350.9h1v1h-1zM50.1 359.6h1v1h-1zM52.0 361.4h1v1h-1zM48.2 356.7h1v1h-1zM50.7 352.1h1v1h-1zM55.0 357.8h1v1h-1zM53.7 352.4h1v1h-1zM54.0 348.8h1v1h-1zM50.6 340.4h1v1h-1zM43.0 358.4h1v1h-1zM46.0 355.4h1v1h-1zM39.7 362.8h1v1h-1zM51.7 354.3h1v1h-1zM50.7 356.2h1v1h-1zM56.1 355.6h1v1h-1zM40.5 353.1h1v1h-1zM55.4 357.5h1v1h-1zM46.2 357.7h1v1h-1zM49.1 357.7h1v1h-1zM39.9 349.6h1v1h-1zM52.0 353.3h1v1h-1zM50.3 365.0h1v1h-1zM46.8 355.8h1v1h-1zM45.5 351.1h1v1h-1zM48.0 346.6h1v1h-1zM37.1 361.8h1v1h-1zM47.9 360.5h1v1h-1zM49.1 355.3h1v1h-1zM52.1 358.3h1v1h-1zM42.0 360.9h1v1h-1zM43.2 355.5h1v1h-1zM62.2 354.9h1v1h-1zM57.4 352.6h1v1h-1zM51.8 354.7h1v1h-1zM50.7 349.9h1v1h-1zM43.5 356.3h1v1h-1zM40.1 349.9h1v1h-1zM51.9 351.2h1v1h-1zM43.7 348.5h1v1h-1zM49.2 352.5h1v1h-1zM49.3 353.4h1v1h-1zM58.4 352.1h1v1h-1zM37.9 355.1h1v1h-1zM48.5 355.3h1v1h-1zM39.8 360.5h1v1h-1zM48.3 354.2h1v1h-1zM40.0 357.0h1v1h-1zM48.1 361.7h1v1h-1zM46.2 347.8h1v1h-1zM49.2 349.6h1v1h-1zM50.7 348.7h1v1h-1zM47.8 353.2h1v1h-1zM48.3 351.7h1v1h-1zM44.1 354.1h1v1h-1zM45.4 355.3h1v1h-1zM47.0 342.4h1v1h-1zM48.1 361.9h1v1h-1zM50.1 357.7h1v1h-1zM50.9 352.0h1v1h-1zM41.3 358.8h1v1h-1zM54.1 357.5h1v1h-1zM50.7 356.6h1v1h-1zM48.3 355.9h1v1h-1zM48.5 356.2h1v1h-1zM43.4 351.1h1v1h-1zM51.5 352.7h1v1h-1zM52.3 358.0h1v1h-1zM44.9 348.5h1v1h-1zM47.3 354.6h1v1h-1zM44.4 355.3h1v1h-1zM52.1 357.7h1v1h-1zM43.0 343.0h1v1h-1zM48.5 351.0h1v1h-1zM50.9 363.2h1v1h-1zM57.2 356.0h1v1h-1zM54.4 363.2h1v1h-1zM48.7 355.9h1v1h-1zM53.0 354.3h1v1h-1zM45.9 350.6h1v1h-1zM48.6 351.3h1v1h-1zM52.7 352.8h1v1h-1zM56.2 360.9h1v1h-1zM42.0 360.2h1v1h-1zM46.4 361.8h1v1h-1zM51.3 354.3h1v1h-1zM52.1 351.6h1v1h-1zM50.3 356.6h1v1h-1zM47.8 356.6h1v1h-1zM43.3 357.5h1v1h-1zM42.2 357.9h1v1h-1zM51.1 358.3h1v1h-1zM47.4 355.4h1v1h-1zM44.7 362.1h1v1h-1zM46.2 359.8h1v1h-1zM43.7 356.3h1v1h-1zM46.7 359.5h1v1h-1zM47.1 350.2h1v1h-1zM51.0 348.4h1v1h-1zM43.7 358.7h1v1h-1zM38.9 358.7h1v1h-1zM46.6 349.9h1v1h-1zM50.0 358.0h1v1h-1zM45.7 353.8h1v1h-1zM52.9 358.7h1v1h-1zM48.5 350.7h1v1h-1zM43.8 351.6h1v1h-1zM52.3 357.8h1v1h-1zM50.3 362.0h1v1h-1zM47.2 352.8h1v1h-1zM46.8 364.7h1v1h-1zM38.1 356.3h1v1h-1zM51.1 355.1h1v1h-1zM60.9 360.9h1v1h-1zM52.8 350.2h1v1h-1zM51.4 352.9h1v1h-1zM49.1 355.9h1v1h-1zM46.3 358.1h1v1h-1zM57.3 360.2h1v1h-1zM50.0 344.9h1v1h-1zM54.5 360.5h1v1h-1zM47.9 352.4h1v1h-1zM52.3 350.7h1v1h-1zM53.0 349.3h1v1h-1zM44.1 355.0h1v1h-1zM41.4 354.9h1v1h-1zM51.7 348.1h1v1h-1zM53.7 352.0h1v1h-1zM51.8 356.0h1v1h-1zM46.6 352.2h1v1h-1zM40.1 351.3h1v1h-1zM45.0 363.4h1v1h-1zM54.2 347.9h1v1h-1zM53.1 356.1h1v1h-1zM47.0 357.3h1v1h-1zM53.0 352.0h1v1h-1zM47.5 355.8h1v1h-1zM43.9 355.9h1v1h-1zM48.6 351.5h1v1h-1zM44.6 356.5h1v1h-1zM53.5 356.7h1v1h-1zM44.6 358.8h1v1h-1zM49.9 358.0h1v1h-1zM55.0 350.3h1v1h-1zM48.3 351.9h1v1h-1zM44.5 365.3h1v1h-1zM53.8 345.9h1v1h-1zM51.2 352.1h1v1h-1zM54.9 355.4h1v1h-1zM48.1 355.7h1v1h-1zM51.0 355.1h1v1h-1zM47.9 354.3h1v1h-1zM51.6 349.2h1v1h-1zM49.0 354.4h1v1h-1zM46.5 358.8h1v1h-1zM42.4 353.1h1v1h-1zM44.6 357.8h1v1h-1zM46.6 355.2h1v1h-1zM51.0 346.8h1v1h-1zM51.3 351.2h1v1h-1zM47.7 354.4h1v1h-1zM53.2 358.8h1v1h-1zM58.1 355.9h1v1h-1zM46.5 352.4h1v1h-1zM52.4 363.2h1v1h-1zM50.7 352.0h1v1h-1zM50.4 356.3h1v1h-1zM49.2 351.2h1v1h-1zM54.4 356.1h1v1h-1zM37.7 355.0h1v1h-1zM39.5 365.2h1v1h-1zM50.0 348.8h1v1h-1zM53.1 351.0h1v1h-1zM51.9 355.1h1v1h-1zM42.9 358.4h1v1h-1zM42.1 361.9h1v1h-1zM49.3 349.7h1v1h-1zM39.7 363.3h1v1h-1zM56.5 348.5h1v1h-1zM57.5 355.9h1v1h-1zM47.9 354.6h1v1h-1zM47.6 362.4h1v1h-1zM49.8 345.5h1v1h-1zM59.8 359.5h1v1h-1zM43.4 353.2h1v1h-1zM44.4 355.2h1v1h-1zM51.0 356.2h1v1h-1zM45.9 350.9h1v1h-1zM53.4 354.5h1v1h-1zM60.6 350.9h1v1h-1zM53.0 355.3h1v1h-1zM45.1 362.0h1v1h-1zM49.6 350.4h1v1h-1zM47.4 360.2h1v1h-1zM42.7 362.1h1v1h-1zM52.5 353.6h1v1h-1zM56.0 364.0h1v1h-1zM52.1 355.9h1v1h-1zM58.5 362.7h1v1h-1zM44.2 353.9h1v1h-1zM47.9 352.9h1v1h-1zM41.3 359.6h1v1h-1zM49.4 355.5h1v1h-1zM56.3 352.1h1v1h-1zM48.7 356.4h1v1h-1zM46.8 354.4h1v1h-1zM53.0 355.0h1v1h-1zM55.9 351.1h1v1h-1zM50.0 347.6h1v1h-1zM48.4 351.4h1v1h-1zM56.0 358.8h1v1h-1zM51.6 364.5h1v1h-1zM56.5 358.7h1v1h-1zM45.4 347.5h1v1h-1zM48.8 353.2h1v1h-1zM45.7 353.5h1v1h-1zM40.4 362.7h1v1h-1zM43.1 351.5h1v1h-1zM52.0 346.6h1v1h-1zM53.8 359.9h1v1h-1zM47.4 349.4h1v1h-1zM46.5 345.4h1v1h-1zM56.2 355.3h1v1h-1zM45.2 350.3h1v1h-1zM52.0 362.8h1v1h-1zM42.4 352.0h1v1h-1zM39.9 358.5h1v1h-1zM49.8 366.7h1v1h-1zM48.4 352.7h1v1h-1zM45.3 359.4h1v1h-1zM40.5 358.9h1v1h-1zM50.3 352.4h1v1h-1zM44.3 360.5h1v1h-1zM58.7 352.7h1v1h-1zM51.8 364.1h1v1h-1zM45.8 353.7h1v1h-1zM42.6 354.2h1v1h-1zM48.6 352.8h1v1h-1zM45.1 346.7h1v1h-1zM42.0 349.9h1v1h-1zM52.3 352.3h1v1h-1zM44.6 358.4h1v1h-1zM51.9 351.1h1v1h-1zM45.7 358.5h1v1h-1zM50.9 350.6h1v1h-1zM50.3 354.8h1v1h-1zM54.8 350.5h1v1h-1zM53.6 357.3h1v1h-1zM43.7 360.5h1v1h-1zM53.8 348.1h1v1h-1zM59.4 349.0h1v1h-1zM44.2 353.3h1v1h-1zM53.0 358.1h1v1h-1zM48.5 362.2h1v1h-1zM51.1 362.3h1v1h-1zM63.8 356.0h1v1h-1zM43.3 355.5h1v1h-1zM49.5 348.5h1v1h-1zM42.9 353.6h1v1h-1zM48.0 341.2h1v1h-1zM54.1 355.2h1v1h-1zM48.9 356.6h1v1h-1zM43.6 354.7h1v1h-1zM54.5 360.7h1v1h-1zM51.5 353.5h1v1h-1zM44.6 362.0h1v1h-1zM51.8 352.7h1v1h-1zM37.4 350.4h1v1h-1zM38.7 361.6h1v1h-1zM50.0 351.0h1v1h-1zM55.5 347.8h1v1h-1zM48.3 348.4h1v1h-1zM39.8 355.9h1v1h-1zM62.0 363.4h1v1h-1zM49.2 353.0h1v1h-1zM50.1 360.6h1v1h-1zM41.1 344.9h1v1h-1zM59.1 356.5h1v1h-1zM57.7 356.3h1v1h-1zM57.0 351.7h1v1h-1zM51.7 363.4h1v1h-1zM54.5 352.5h1v1h-1zM53.8 351.4h1v1h-1zM41.3 357.8h1v1h-1zM56.6 359.6h1v1h-1zM42.2 359.7h1v1h-1zM52.7 352.5h1v1h-1zM53.8 357.7h1v1h-1zM39.6 346.9h1v1h-1zM54.5 359.4h1v1h-1zM51.7 353.7h1v1h-1zM51.1 352.0h1v1h-1zM47.3 350.3h1v1h-1zM50.4 352.7h1v1h-1zM54.2 358.9h1v1h-1zM44.6 365.0h1v1h-1zM42.9 357.5h1v1h-1z" fill="#5a5a5a" fill-opacity="0.4"/>
<ellipse cx="48.5" cy="353" rx="6" ry="5.5" transform="rotate(0 48.5 353)" fill="#666" fill-opacity="0.45" filter="url(#bl)"/>
<path d="M65.9 342.4h1v1h-1zM67.6 343.2h1v1h-1zM51.8 333.8h1v1h-1zM69.0 332.6h1v1h-1zM67.7 338.8h1v1h-1zM47.4 336.5h1v1h-1zM64.9 335.1h1v1h-1zM63.9 328.1h1v1h-1zM58.5 334.2h1v1h-1zM40.9 338.1h1v1h-1zM76.2 335.5h1v1h-1zM44.3 331.8h1v1h-1zM76.6 335.8h1v1h-1zM60.3 342.1h1v1h-1zM65.9 331.4h1v1h-1zM64.5 340.2h1v1h-1zM58.9 341.0h1v1h-1zM46.3 335.6h1v1h-1zM46.7 339.8h1v1h-1zM45.2 338.0h1v1h-1zM39.9 335.4h1v1h-1zM48.7 335.4h1v1h-1zM54.6 335.1h1v1h-1zM50.4 325.6h1v1h-1zM66.3 332.9h1v1h-1zM50.1 331.9h1v1h-1zM65.0 331.5h1v1h-1zM59.1 341.9h1v1h-1zM72.7 341.9h1v1h-1zM60.4 330.0h1v1h-1zM68.5 341.9h1v1h-1zM63.1 340.0h1v1h-1zM54.0 333.4h1v1h-1zM66.0 342.4h1v1h-1zM40.6 340.6h1v1h-1zM56.0 340.5h1v1h-1zM56.4 341.6h1v1h-1zM65.4 340.5h1v1h-1zM36.6 340.2h1v1h-1zM53.7 330.5h1v1h-1zM61.6 329.3h1v1h-1zM63.9 344.5h1v1h-1zM47.2 340.7h1v1h-1zM58.6 339.3h1v1h-1zM37.1 339.1h1v1h-1zM54.8 339.8h1v1h-1zM53.3 341.5h1v1h-1zM56.5 339.5h1v1h-1zM69.6 337.0h1v1h-1zM65.1 337.3h1v1h-1zM59.5 333.5h1v1h-1zM62.5 342.2h1v1h-1zM52.4 340.1h1v1h-1zM58.4 330.7h1v1h-1zM57.5 342.7h1v1h-1zM47.6 327.4h1v1h-1zM55.8 333.0h1v1h-1zM75.8 336.0h1v1h-1zM53.3 333.1h1v1h-1zM56.4 333.4h1v1h-1zM42.7 335.9h1v1h-1zM43.8 342.7h1v1h-1zM39.6 335.8h1v1h-1zM45.3 329.4h1v1h-1zM73.0 325.8h1v1h-1zM70.6 329.2h1v1h-1zM54.5 347.3h1v1h-1zM68.9 337.0h1v1h-1zM47.0 336.0h1v1h-1zM42.1 336.8h1v1h-1zM71.0 334.3h1v1h-1zM55.1 342.1h1v1h-1zM76.8 333.3h1v1h-1zM57.0 333.4h1v1h-1zM45.8 334.2h1v1h-1zM46.0 327.7h1v1h-1zM55.0 342.1h1v1h-1zM47.2 335.4h1v1h-1zM61.2 339.8h1v1h-1zM52.1 335.9h1v1h-1zM75.4 334.5h1v1h-1zM47.7 328.2h1v1h-1zM58.5 334.9h1v1h-1zM75.9 334.5h1v1h-1zM63.0 340.7h1v1h-1zM72.8 329.8h1v1h-1zM71.8 336.2h1v1h-1zM52.2 334.7h1v1h-1zM48.8 334.5h1v1h-1zM54.2 331.5h1v1h-1zM52.7 347.4h1v1h-1zM57.9 334.3h1v1h-1zM73.5 332.3h1v1h-1zM51.6 333.5h1v1h-1zM50.6 339.7h1v1h-1zM60.2 332.6h1v1h-1zM51.9 336.6h1v1h-1zM48.6 336.0h1v1h-1zM45.0 332.6h1v1h-1zM53.9 331.1h1v1h-1zM58.3 335.2h1v1h-1zM42.6 333.2h1v1h-1zM47.8 335.4h1v1h-1zM54.7 335.1h1v1h-1zM43.2 343.1h1v1h-1zM63.9 336.7h1v1h-1zM64.5 337.7h1v1h-1zM50.4 336.6h1v1h-1zM84.5 341.0h1v1h-1zM65.5 334.2h1v1h-1zM60.4 347.1h1v1h-1zM58.3 341.4h1v1h-1zM68.0 339.3h1v1h-1zM71.7 337.3h1v1h-1zM59.1 333.1h1v1h-1zM84.1 337.6h1v1h-1zM54.6 342.9h1v1h-1zM47.7 336.1h1v1h-1zM44.2 336.3h1v1h-1zM48.8 338.8h1v1h-1zM51.9 333.2h1v1h-1zM49.9 335.6h1v1h-1zM47.4 340.7h1v1h-1zM61.1 336.8h1v1h-1zM39.5 338.6h1v1h-1zM38.5 337.0h1v1h-1zM53.9 333.3h1v1h-1zM43.7 332.8h1v1h-1zM77.2 334.9h1v1h-1zM50.9 340.8h1v1h-1zM58.2 341.2h1v1h-1zM39.1 330.9h1v1h-1zM91.9 335.9h1v1h-1zM50.0 336.9h1v1h-1zM64.8 330.4h1v1h-1zM56.6 336.0h1v1h-1zM61.1 337.0h1v1h-1zM47.2 332.0h1v1h-1zM72.5 334.1h1v1h-1zM60.4 335.1h1v1h-1zM61.4 336.3h1v1h-1zM47.4 342.6h1v1h-1zM50.2 329.7h1v1h-1zM49.5 338.7h1v1h-1zM40.5 339.9h1v1h-1zM62.2 346.3h1v1h-1zM45.9 339.3h1v1h-1zM54.5 338.1h1v1h-1zM52.7 335.7h1v1h-1zM46.2 334.0h1v1h-1zM56.8 338.8h1v1h-1zM60.7 340.9h1v1h-1zM67.0 327.5h1v1h-1zM47.3 335.4h1v1h-1zM45.9 341.2h1v1h-1zM61.9 335.6h1v1h-1zM54.7 342.2h1v1h-1zM49.3 334.6h1v1h-1zM63.7 338.4h1v1h-1zM69.6 337.9h1v1h-1zM61.9 333.5h1v1h-1zM42.5 336.1h1v1h-1zM64.5 336.5h1v1h-1zM50.8 341.3h1v1h-1zM52.8 340.8h1v1h-1zM78.5 339.6h1v1h-1zM64.1 338.5h1v1h-1zM56.2 337.5h1v1h-1zM54.1 341.3h1v1h-1zM60.9 332.1h1v1h-1zM52.1 332.8h1v1h-1zM58.4 340.3h1v1h-1zM70.0 338.5h1v1h-1zM45.1 337.3h1v1h-1zM59.9 342.9h1v1h-1zM58.4 338.5h1v1h-1zM63.5 338.0h1v1h-1zM45.9 337.8h1v1h-1zM67.1 335.6h1v1h-1zM53.6 330.3h1v1h-1zM66.6 333.7h1v1h-1zM44.8 334.0h1v1h-1zM43.4 334.9h1v1h-1zM67.9 339.9h1v1h-1zM69.6 343.2h1v1h-1zM43.1 338.4h1v1h-1zM70.5 347.1h1v1h-1zM37.1 329.3h1v1h-1zM58.7 334.5h1v1h-1zM41.9 337.9h1v1h-1zM44.3 325.3h1v1h-1zM53.0 336.7h1v1h-1zM60.6 340.6h1v1h-1zM55.4 335.0h1v1h-1zM45.7 328.3h1v1h-1zM48.3 340.9h1v1h-1zM60.7 345.9h1v1h-1zM51.5 327.6h1v1h-1zM62.7 341.1h1v1h-1zM39.9 328.4h1v1h-1zM55.0 339.5h1v1h-1zM40.4 334.5h1v1h-1zM44.4 330.5h1v1h-1zM38.2 336.8h1v1h-1zM49.0 332.9h1v1h-1zM42.4 335.4h1v1h-1zM40.2 337.9h1v1h-1zM51.0 340.5h1v1h-1zM40.6 333.0h1v1h-1zM50.5 346.1h1v1h-1zM45.7 337.6h1v1h-1zM60.6 336.7h1v1h-1zM56.2 337.4h1v1h-1zM46.4 335.0h1v1h-1zM44.3 334.8h1v1h-1zM61.6 337.9h1v1h-1zM58.5 341.3h1v1h-1zM52.8 335.6h1v1h-1zM38.1 338.7h1v1h-1zM66.2 340.9h1v1h-1zM52.1 339.1h1v1h-1zM63.6 344.7h1v1h-1zM67.1 336.7h1v1h-1zM54.2 336.8h1v1h-1zM55.7 333.7h1v1h-1zM61.9 332.7h1v1h-1zM43.9 337.7h1v1h-1zM46.5 334.9h1v1h-1zM53.0 335.4h1v1h-1zM58.3 337.0h1v1h-1zM45.0 345.6h1v1h-1zM47.9 340.7h1v1h-1zM74.0 333.1h1v1h-1zM54.1 332.1h1v1h-1zM65.1 334.4h1v1h-1zM40.4 342.3h1v1h-1zM63.5 331.8h1v1h-1zM66.6 336.9h1v1h-1zM84.1 344.2h1v1h-1zM46.7 334.7h1v1h-1zM43.0 336.6h1v1h-1zM53.6 339.5h1v1h-1zM54.0 329.0h1v1h-1zM43.7 342.8h1v1h-1zM66.2 335.2h1v1h-1zM51.5 335.2h1v1h-1zM53.3 328.0h1v1h-1zM63.3 332.9h1v1h-1zM54.7 323.9h1v1h-1zM55.7 342.4h1v1h-1zM58.4 332.5h1v1h-1zM56.0 338.8h1v1h-1zM49.9 332.2h1v1h-1zM63.0 331.4h1v1h-1zM63.3 328.0h1v1h-1zM42.4 329.1h1v1h-1zM68.0 327.6h1v1h-1zM39.9 339.2h1v1h-1zM55.6 346.5h1v1h-1zM74.1 338.9h1v1h-1zM60.9 327.3h1v1h-1zM42.9 334.4h1v1h-1zM51.0 329.4h1v1h-1zM42.3 331.9h1v1h-1zM65.2 338.0h1v1h-1zM49.2 334.7h1v1h-1zM56.3 332.7h1v1h-1zM50.0 327.8h1v1h-1zM60.7 340.6h1v1h-1zM57.2 338.3h1v1h-1zM57.2 345.8h1v1h-1zM55.3 329.7h1v1h-1zM41.0 339.4h1v1h-1zM65.2 339.7h1v1h-1zM62.6 336.9h1v1h-1zM37.3 336.5h1v1h-1zM51.0 326.7h1v1h-1zM61.4 339.6h1v1h-1zM37.0 336.7h1v1h-1zM61.2 334.6h1v1h-1zM62.8 336.9h1v1h-1zM65.3 336.9h1v1h-1zM51.0 338.4h1v1h-1zM61.9 337.2h1v1h-1zM47.7 332.2h1v1h-1zM48.6 333.2h1v1h-1zM55.2 336.8h1v1h-1zM51.9 335.9h1v1h-1zM54.8 343.5h1v1h-1zM66.8 333.2h1v1h-1zM57.7 334.4h1v1h-1zM51.7 334.8h1v1h-1zM45.6 329.4h1v1h-1zM66.5 331.6h1v1h-1zM58.7 334.1h1v1h-1zM56.0 332.0h1v1h-1zM50.1 335.4h1v1h-1zM51.2 323.9h1v1h-1zM60.3 335.7h1v1h-1zM55.1 337.6h1v1h-1zM47.9 330.7h1v1h-1zM47.6 333.8h1v1h-1zM78.5 344.8h1v1h-1zM47.1 333.9h1v1h-1zM56.5 338.6h1v1h-1zM44.7 331.0h1v1h-1zM75.2 341.0h1v1h-1zM43.1 336.9h1v1h-1zM59.0 334.2h1v1h-1zM59.7 335.9h1v1h-1zM46.9 338.6h1v1h-1zM52.0 330.4h1v1h-1zM53.8 329.6h1v1h-1zM63.9 338.1h1v1h-1zM41.0 336.9h1v1h-1zM67.2 325.4h1v1h-1zM51.0 343.9h1v1h-1zM46.4 336.5h1v1h-1zM57.1 337.9h1v1h-1zM66.1 339.3h1v1h-1zM61.3 331.1h1v1h-1zM50.8 351.4h1v1h-1zM79.2 339.9h1v1h-1zM61.3 340.7h1v1h-1zM47.9 345.4h1v1h-1zM48.2 335.4h1v1h-1zM78.2 325.7h1v1h-1zM56.9 327.4h1v1h-1zM45.0 335.4h1v1h-1zM48.5 336.7h1v1h-1zM43.6 335.3h1v1h-1zM38.6 333.9h1v1h-1zM37.4 339.3h1v1h-1zM47.8 334.4h1v1h-1zM66.6 336.4h1v1h-1zM47.9 328.9h1v1h-1zM53.6 334.3h1v1h-1zM76.4 333.7h1v1h-1zM75.7 342.7h1v1h-1zM45.4 331.8h1v1h-1zM68.3 335.2h1v1h-1zM54.5 334.6h1v1h-1zM38.3 334.0h1v1h-1zM41.2 328.3h1v1h-1zM49.2 344.7h1v1h-1zM71.9 335.5h1v1h-1zM54.3 338.4h1v1h-1zM68.8 337.4h1v1h-1zM47.0 333.9h1v1h-1zM66.1 348.8h1v1h-1zM45.2 325.7h1v1h-1zM62.3 335.5h1v1h-1zM54.3 342.0h1v1h-1zM53.5 329.3h1v1h-1zM38.8 337.3h1v1h-1zM37.4 334.1h1v1h-1zM47.3 338.8h1v1h-1zM68.7 334.9h1v1h-1zM42.3 345.6h1v1h-1zM57.0 338.9h1v1h-1zM59.9 343.1h1v1h-1zM64.7 339.2h1v1h-1zM61.8 331.6h1v1h-1zM45.4 335.3h1v1h-1zM53.8 336.0h1v1h-1zM56.4 336.0h1v1h-1zM47.6 327.8h1v1h-1zM62.7 338.8h1v1h-1zM42.2 338.4h1v1h-1zM57.4 336.2h1v1h-1zM45.5 343.9h1v1h-1zM42.4 334.1h1v1h-1zM39.4 333.4h1v1h-1zM56.8 325.5h1v1h-1zM53.1 332.9h1v1h-1zM64.3 340.7h1v1h-1zM66.0 332.5h1v1h-1zM48.9 340.6h1v1h-1zM49.5 329.9h1v1h-1zM44.5 329.2h1v1h-1zM59.3 327.3h1v1h-1zM64.7 327.7h1v1h-1zM53.2 328.5h1v1h-1zM48.9 341.0h1v1h-1zM66.1 342.4h1v1h-1zM51.6 336.4h1v1h-1zM55.5 338.9h1v1h-1zM47.9 341.4h1v1h-1zM56.6 341.6h1v1h-1zM58.4 339.3h1v1h-1zM43.9 333.8h1v1h-1zM37.2 334.4h1v1h-1zM50.6 340.0h1v1h-1zM37.6 352.0h1v1h-1zM51.2 342.2h1v1h-1zM65.2 323.3h1v1h-1zM49.5 343.2h1v1h-1zM41.7 333.5h1v1h-1zM55.4 326.5h1v1h-1zM55.0 332.6h1v1h-1zM43.7 339.4h1v1h-1zM94.8 337.6h1v1h-1zM59.3 335.6h1v1h-1zM44.0 337.2h1v1h-1zM70.9 336.8h1v1h-1zM63.3 334.7h1v1h-1zM82.9 327.6h1v1h-1zM59.7 338.6h1v1h-1zM55.8 330.3h1v1h-1zM39.0 334.7h1v1h-1zM53.8 329.8h1v1h-1zM39.8 338.6h1v1h-1zM65.0 333.0h1v1h-1zM44.2 332.2h1v1h-1zM82.3 338.3h1v1h-1zM51.8 340.9h1v1h-1zM80.1 341.7h1v1h-1zM47.7 334.1h1v1h-1zM37.9 333.9h1v1h-1zM39.5 337.5h1v1h-1zM53.1 328.7h1v1h-1zM60.4 338.3h1v1h-1zM51.7 319.3h1v1h-1zM46.6 332.1h1v1h-1zM48.5 329.7h1v1h-1zM47.3 332.5h1v1h-1zM85.2 339.3h1v1h-1zM50.2 335.6h1v1h-1zM51.1 336.7h1v1h-1zM47.6 335.7h1v1h-1zM64.9 340.0h1v1h-1zM56.2 342.5h1v1h-1zM55.2 330.9h1v1h-1zM51.8 337.8h1v1h-1zM65.5 332.9h1v1h-1zM42.8 339.7h1v1h-1zM66.7 333.4h1v1h-1zM56.6 342.7h1v1h-1zM56.4 335.5h1v1h-1zM60.3 336.4h1v1h-1zM46.9 329.5h1v1h-1zM51.3 335.3h1v1h-1zM65.7 329.7h1v1h-1zM69.9 336.0h1v1h-1zM66.8 330.9h1v1h-1zM56.7 341.9h1v1h-1zM53.9 328.4h1v1h-1zM48.5 338.5h1v1h-1zM55.3 331.0h1v1h-1zM60.7 329.9h1v1h-1zM70.5 331.5h1v1h-1zM52.5 337.0h1v1h-1zM41.1 341.3h1v1h-1zM54.7 338.0h1v1h-1zM49.8 339.4h1v1h-1zM70.4 334.5h1v1h-1zM49.3 338.1h1v1h-1zM70.9 331.7h1v1h-1zM60.1 334.6h1v1h-1zM48.5 339.9h1v1h-1zM43.1 330.5h1v1h-1zM60.6 335.7h1v1h-1zM49.4 335.1h1v1h-1zM58.5 334.0h1v1h-1zM61.8 337.9h1v1h-1zM70.4 342.2h1v1h-1zM62.9 334.8h1v1h-1zM54.0 332.9h1v1h-1zM86.8 334.7h1v1h-1zM59.3 342.6h1v1h-1zM47.8 330.9h1v1h-1zM37.4 333.2h1v1h-1zM68.1 339.5h1v1h-1zM53.0 336.0h1v1h-1zM57.7 330.4h1v1h-1zM55.1 334.9h1v1h-1zM46.4 330.9h1v1h-1zM44.5 331.1h1v1h-1zM58.2 337.7h1v1h-1zM56.5 334.9h1v1h-1zM47.7 346.1h1v1h-1zM56.9 336.2h1v1h-1zM46.5 334.8h1v1h-1zM38.4 328.9h1v1h-1zM51.3 327.6h1v1h-1zM62.7 341.4h1v1h-1zM55.9 336.9h1v1h-1zM54.0 338.0h1v1h-1zM61.6 340.2h1v1h-1zM74.1 336.0h1v1h-1zM63.0 327.7h1v1h-1zM51.1 329.8h1v1h-1zM69.4 347.5h1v1h-1zM59.2 329.4h1v1h-1zM51.3 336.0h1v1h-1zM55.1 341.3h1v1h-1zM64.1 322.6h1v1h-1zM69.1 333.4h1v1h-1zM46.0 343.0h1v1h-1zM49.5 329.0h1v1h-1zM36.8 336.2h1v1h-1zM63.6 343.4h1v1h-1zM50.7 333.5h1v1h-1zM72.2 333.6h1v1h-1zM70.2 337.1h1v1h-1zM55.6 334.7h1v1h-1zM56.3 333.6h1v1h-1zM44.6 335.2h1v1h-1zM44.9 337.4h1v1h-1zM53.7 334.6h1v1h-1zM50.3 334.7h1v1h-1zM73.6 335.8h1v1h-1zM45.6 334.4h1v1h-1zM60.7 334.9h1v1h-1zM50.9 334.6h1v1h-1zM54.7 337.8h1v1h-1zM58.0 327.7h1v1h-1zM39.9 322.7h1v1h-1zM62.3 341.4h1v1h-1zM68.3 336.6h1v1h-1zM66.5 335.7h1v1h-1zM51.3 328.2h1v1h-1zM43.3 332.9h1v1h-1zM63.7 344.2h1v1h-1zM47.1 337.7h1v1h-1zM56.0 332.0h1v1h-1zM51.0 335.0h1v1h-1zM50.7 338.3h1v1h-1zM41.5 340.3h1v1h-1zM57.3 331.9h1v1h-1zM44.6 339.8h1v1h-1zM61.9 335.8h1v1h-1zM52.7 340.8h1v1h-1zM57.2 331.2h1v1h-1zM54.7 338.6h1v1h-1zM55.1 336.8h1v1h-1zM50.9 335.3h1v1h-1zM41.5 328.7h1v1h-1zM66.1 332.7h1v1h-1zM55.3 328.4h1v1h-1zM54.6 331.7h1v1h-1zM88.1 330.8h1v1h-1zM41.1 340.6h1v1h-1zM66.3 325.4h1v1h-1z" fill="#EE9A1E" fill-opacity="0.42"/>
<path d="M83.1 344.2h1v1h-1zM75.8 343.3h1v1h-1zM79.2 334.9h1v1h-1zM80.1 337.6h1v1h-1zM74.9 351.0h1v1h-1zM79.6 336.1h1v1h-1zM86.1 339.5h1v1h-1zM88.5 338.5h1v1h-1zM83.6 340.3h1v1h-1zM82.7 338.8h1v1h-1zM81.3 348.2h1v1h-1zM78.5 337.1h1v1h-1zM80.1 342.7h1v1h-1zM83.8 344.5h1v1h-1zM75.2 341.1h1v1h-1z" fill="#EE9A1E" fill-opacity="0.3"/>
<ellipse cx="52.5" cy="339.5" rx="14.5" ry="6" transform="rotate(0 52.5 339.5)" fill="#E8901A" fill-opacity="0.9" filter="url(#bl)"/>
<path d="M161.0 359.0h1v1h-1zM161.7 348.1h1v1h-1zM161.9 361.7h1v1h-1zM158.2 360.2h1v1h-1zM164.7 358.3h1v1h-1zM162.6 359.4h1v1h-1zM159.6 354.9h1v1h-1zM163.1 356.3h1v1h-1zM163.5 360.0h1v1h-1zM159.8 363.6h1v1h-1zM159.3 350.7h1v1h-1zM164.2 349.1h1v1h-1zM162.5 351.0h1v1h-1zM161.3 359.5h1v1h-1zM160.4 346.8h1v1h-1zM161.1 360.6h1v1h-1zM159.4 360.4h1v1h-1zM163.5 356.2h1v1h-1zM161.9 353.4h1v1h-1zM162.2 364.9h1v1h-1zM166.7 366.6h1v1h-1zM160.2 356.9h1v1h-1zM163.7 362.3h1v1h-1zM164.2 351.6h1v1h-1zM161.9 357.5h1v1h-1zM160.8 348.6h1v1h-1zM163.4 362.2h1v1h-1zM159.2 352.2h1v1h-1zM161.1 358.7h1v1h-1zM162.4 361.0h1v1h-1zM161.9 365.6h1v1h-1zM162.1 366.5h1v1h-1zM158.8 361.3h1v1h-1zM160.6 361.6h1v1h-1zM161.3 356.9h1v1h-1zM160.6 367.0h1v1h-1zM160.2 353.0h1v1h-1zM162.7 367.1h1v1h-1zM160.8 361.8h1v1h-1zM159.6 359.7h1v1h-1zM163.8 366.1h1v1h-1zM161.7 359.2h1v1h-1zM157.9 363.0h1v1h-1zM165.7 363.4h1v1h-1zM163.5 353.9h1v1h-1zM164.0 366.5h1v1h-1zM164.3 365.3h1v1h-1zM160.0 365.1h1v1h-1zM163.7 356.0h1v1h-1zM158.9 363.8h1v1h-1zM161.7 364.9h1v1h-1zM162.8 356.2h1v1h-1zM160.7 359.2h1v1h-1zM159.0 366.2h1v1h-1zM165.6 352.4h1v1h-1zM163.1 366.8h1v1h-1zM160.2 358.7h1v1h-1zM159.2 356.1h1v1h-1zM161.8 365.2h1v1h-1zM161.7 366.5h1v1h-1zM161.9 353.7h1v1h-1zM162.4 362.0h1v1h-1zM165.6 345.3h1v1h-1zM158.0 365.6h1v1h-1zM160.9 355.1h1v1h-1zM164.7 364.2h1v1h-1zM158.7 357.0h1v1h-1zM157.2 362.7h1v1h-1zM160.6 350.1h1v1h-1zM161.1 351.0h1v1h-1zM162.6 366.1h1v1h-1zM162.7 363.4h1v1h-1zM163.6 353.8h1v1h-1zM160.7 366.6h1v1h-1zM159.9 358.4h1v1h-1zM160.2 356.0h1v1h-1zM162.7 362.9h1v1h-1zM160.0 365.0h1v1h-1zM162.7 361.8h1v1h-1zM159.9 363.3h1v1h-1zM161.6 357.7h1v1h-1zM162.0 362.9h1v1h-1zM161.4 358.2h1v1h-1zM163.3 351.1h1v1h-1zM163.3 361.3h1v1h-1zM162.1 346.2h1v1h-1zM165.1 350.3h1v1h-1zM159.6 365.4h1v1h-1zM160.2 358.7h1v1h-1zM156.7 358.5h1v1h-1zM162.0 365.6h1v1h-1zM160.9 362.7h1v1h-1zM162.4 357.0h1v1h-1zM160.1 364.6h1v1h-1zM162.2 359.8h1v1h-1zM162.2 356.4h1v1h-1zM161.3 358.7h1v1h-1zM163.1 360.7h1v1h-1zM158.5 358.9h1v1h-1zM161.3 355.5h1v1h-1zM164.4 363.9h1v1h-1zM163.3 356.4h1v1h-1zM158.4 363.6h1v1h-1zM161.7 358.1h1v1h-1zM161.7 354.4h1v1h-1zM162.0 353.5h1v1h-1zM160.0 347.8h1v1h-1zM163.6 356.4h1v1h-1zM153.9 360.9h1v1h-1zM163.5 363.5h1v1h-1zM165.2 360.5h1v1h-1zM162.8 354.9h1v1h-1zM162.6 362.3h1v1h-1zM157.2 358.9h1v1h-1zM158.7 366.3h1v1h-1zM159.9 363.6h1v1h-1zM159.0 362.2h1v1h-1zM167.2 362.7h1v1h-1zM159.6 365.2h1v1h-1zM163.7 366.9h1v1h-1zM157.2 362.7h1v1h-1zM161.7 358.4h1v1h-1zM163.0 364.4h1v1h-1zM161.0 350.0h1v1h-1zM164.2 364.8h1v1h-1zM159.6 367.3h1v1h-1zM165.5 366.5h1v1h-1zM165.0 356.3h1v1h-1zM163.7 367.3h1v1h-1zM158.3 350.9h1v1h-1zM159.9 361.9h1v1h-1zM162.5 359.9h1v1h-1zM161.4 360.6h1v1h-1zM161.7 365.1h1v1h-1zM162.6 361.0h1v1h-1zM162.1 358.4h1v1h-1zM163.3 358.1h1v1h-1zM165.1 361.2h1v1h-1zM162.1 356.4h1v1h-1zM160.8 362.4h1v1h-1zM161.6 357.3h1v1h-1zM159.0 361.6h1v1h-1zM161.9 364.9h1v1h-1zM164.2 359.3h1v1h-1zM157.2 360.4h1v1h-1zM157.5 353.0h1v1h-1zM163.8 365.0h1v1h-1zM160.1 357.2h1v1h-1zM161.3 350.0h1v1h-1zM162.6 359.1h1v1h-1zM165.5 354.5h1v1h-1zM163.7 357.0h1v1h-1zM163.8 355.0h1v1h-1zM163.1 358.5h1v1h-1zM159.7 360.4h1v1h-1zM162.6 364.0h1v1h-1zM165.0 366.7h1v1h-1zM155.8 358.8h1v1h-1zM157.2 358.9h1v1h-1zM162.9 352.7h1v1h-1zM158.9 362.3h1v1h-1zM162.2 364.8h1v1h-1zM165.4 358.1h1v1h-1zM161.5 354.9h1v1h-1zM164.5 361.1h1v1h-1zM160.0 356.4h1v1h-1zM158.5 362.2h1v1h-1zM164.5 346.0h1v1h-1zM158.0 363.5h1v1h-1zM158.8 366.5h1v1h-1zM163.3 362.5h1v1h-1zM163.3 361.7h1v1h-1zM163.9 357.1h1v1h-1zM159.8 359.9h1v1h-1zM161.0 361.9h1v1h-1zM160.2 365.7h1v1h-1zM161.6 363.8h1v1h-1zM161.6 365.4h1v1h-1zM162.3 364.4h1v1h-1zM163.2 363.0h1v1h-1zM161.2 350.8h1v1h-1zM162.0 359.4h1v1h-1zM157.5 361.8h1v1h-1zM164.3 353.3h1v1h-1zM159.5 365.5h1v1h-1zM162.1 362.8h1v1h-1zM162.5 359.7h1v1h-1zM161.8 357.1h1v1h-1zM161.5 358.4h1v1h-1zM162.1 352.3h1v1h-1zM158.3 364.5h1v1h-1zM162.1 355.3h1v1h-1zM161.1 354.7h1v1h-1zM166.1 351.4h1v1h-1zM165.4 356.2h1v1h-1zM162.5 359.8h1v1h-1zM163.4 359.7h1v1h-1zM164.7 362.5h1v1h-1zM160.9 363.5h1v1h-1zM159.5 361.7h1v1h-1zM165.6 361.0h1v1h-1zM160.9 355.5h1v1h-1zM163.9 364.9h1v1h-1zM162.1 350.0h1v1h-1zM162.4 361.2h1v1h-1zM165.7 361.5h1v1h-1zM161.1 364.4h1v1h-1zM162.1 352.4h1v1h-1zM161.9 359.5h1v1h-1zM159.1 355.3h1v1h-1zM159.7 357.3h1v1h-1zM160.1 362.0h1v1h-1zM164.0 353.1h1v1h-1zM158.2 349.6h1v1h-1zM158.2 351.0h1v1h-1zM163.8 362.9h1v1h-1zM163.1 363.7h1v1h-1zM161.6 354.4h1v1h-1zM160.6 351.6h1v1h-1zM166.2 364.1h1v1h-1zM159.1 356.1h1v1h-1zM160.9 353.3h1v1h-1zM158.9 359.9h1v1h-1zM161.2 365.6h1v1h-1zM164.0 355.8h1v1h-1zM163.8 360.6h1v1h-1zM162.1 362.9h1v1h-1zM159.9 360.3h1v1h-1zM160.2 358.8h1v1h-1zM162.6 355.4h1v1h-1zM163.2 362.3h1v1h-1zM164.4 365.7h1v1h-1zM163.2 360.4h1v1h-1zM162.9 355.8h1v1h-1zM161.1 366.5h1v1h-1zM161.5 364.5h1v1h-1zM160.3 364.2h1v1h-1zM160.8 355.1h1v1h-1zM157.4 359.6h1v1h-1zM159.0 365.1h1v1h-1zM164.8 347.1h1v1h-1zM158.8 363.6h1v1h-1zM164.3 363.6h1v1h-1zM162.3 364.9h1v1h-1zM163.0 353.5h1v1h-1zM160.6 363.0h1v1h-1zM159.8 359.9h1v1h-1zM160.4 357.0h1v1h-1zM163.1 359.1h1v1h-1zM159.2 356.9h1v1h-1zM162.7 347.6h1v1h-1zM162.4 356.0h1v1h-1zM158.6 354.6h1v1h-1zM165.6 351.3h1v1h-1zM163.1 350.4h1v1h-1zM161.4 358.2h1v1h-1zM161.2 366.5h1v1h-1zM160.3 359.5h1v1h-1zM164.8 349.5h1v1h-1zM160.8 364.7h1v1h-1zM158.8 357.5h1v1h-1zM158.7 362.6h1v1h-1zM160.2 366.7h1v1h-1zM163.9 361.9h1v1h-1zM160.8 363.3h1v1h-1zM161.7 353.6h1v1h-1zM164.0 363.1h1v1h-1zM163.3 352.7h1v1h-1zM163.0 352.1h1v1h-1zM161.7 361.2h1v1h-1zM162.1 360.1h1v1h-1zM162.7 358.5h1v1h-1zM162.1 357.1h1v1h-1zM160.5 365.9h1v1h-1zM159.6 359.1h1v1h-1zM158.3 360.5h1v1h-1zM163.6 366.1h1v1h-1zM159.3 353.5h1v1h-1zM163.5 353.3h1v1h-1zM162.9 358.1h1v1h-1zM165.0 367.1h1v1h-1zM158.5 363.7h1v1h-1zM161.7 360.9h1v1h-1zM164.6 350.3h1v1h-1zM162.3 362.4h1v1h-1zM158.8 361.7h1v1h-1zM161.8 347.1h1v1h-1zM158.4 355.2h1v1h-1zM162.9 363.1h1v1h-1zM156.7 362.9h1v1h-1zM163.2 366.9h1v1h-1zM159.3 362.0h1v1h-1zM158.9 360.1h1v1h-1zM159.7 358.4h1v1h-1zM162.6 357.8h1v1h-1zM162.1 354.9h1v1h-1zM164.7 357.3h1v1h-1zM156.1 355.0h1v1h-1zM160.5 364.0h1v1h-1zM159.9 365.2h1v1h-1zM158.9 367.0h1v1h-1zM154.9 349.0h1v1h-1zM165.6 362.6h1v1h-1zM160.6 365.6h1v1h-1zM162.7 350.5h1v1h-1zM162.9 360.2h1v1h-1zM160.1 357.5h1v1h-1zM162.0 365.8h1v1h-1zM160.6 360.7h1v1h-1zM162.9 364.3h1v1h-1zM164.2 363.0h1v1h-1zM159.6 349.8h1v1h-1zM163.4 359.2h1v1h-1zM160.8 359.5h1v1h-1zM158.0 358.9h1v1h-1zM155.7 358.8h1v1h-1zM162.6 360.0h1v1h-1zM161.9 366.3h1v1h-1zM159.8 359.9h1v1h-1zM161.7 348.3h1v1h-1zM160.3 359.6h1v1h-1zM158.8 354.4h1v1h-1zM158.9 363.9h1v1h-1zM162.3 357.1h1v1h-1zM161.6 360.8h1v1h-1zM160.4 361.7h1v1h-1zM161.7 354.6h1v1h-1zM158.6 355.7h1v1h-1zM164.9 363.5h1v1h-1zM163.7 362.2h1v1h-1zM164.0 362.3h1v1h-1zM162.4 359.5h1v1h-1zM158.8 361.4h1v1h-1zM165.7 359.3h1v1h-1zM155.2 365.5h1v1h-1zM162.9 350.1h1v1h-1zM161.0 360.9h1v1h-1zM156.3 365.9h1v1h-1z" fill="#E0901E" fill-opacity="0.5"/>
<path d="M162.6 348.2h1v1h-1zM159.0 344.3h1v1h-1zM160.0 349.2h1v1h-1zM159.2 353.3h1v1h-1zM162.4 338.2h1v1h-1zM165.5 347.9h1v1h-1zM160.2 347.6h1v1h-1zM157.2 348.0h1v1h-1zM155.7 343.0h1v1h-1zM164.8 352.4h1v1h-1zM160.7 343.2h1v1h-1zM163.7 347.0h1v1h-1zM162.0 349.8h1v1h-1zM158.9 350.5h1v1h-1zM156.5 353.3h1v1h-1zM157.8 344.6h1v1h-1zM159.9 350.2h1v1h-1zM163.3 348.7h1v1h-1zM162.8 349.1h1v1h-1zM161.3 339.2h1v1h-1zM156.0 337.6h1v1h-1zM161.4 346.2h1v1h-1zM161.2 348.1h1v1h-1zM160.9 343.0h1v1h-1zM157.9 339.2h1v1h-1z" fill="#EE9A1E" fill-opacity="0.3"/>
<ellipse cx="161.4" cy="363" rx="3.2" ry="7.5" transform="rotate(0 161.4 363)" fill="#E0901E" fill-opacity="0.85" filter="url(#bl2)"/>
<path d="M238.5 366.4h1v1h-1zM225.1 360.9h1v1h-1zM229.0 363.0h1v1h-1zM238.2 354.0h1v1h-1zM228.3 362.0h1v1h-1zM236.7 363.1h1v1h-1zM227.2 366.2h1v1h-1zM235.5 359.7h1v1h-1zM229.9 355.3h1v1h-1zM231.8 366.2h1v1h-1zM237.4 364.9h1v1h-1zM236.5 359.4h1v1h-1zM234.5 358.4h1v1h-1zM234.8 366.0h1v1h-1zM235.8 362.6h1v1h-1zM229.4 364.0h1v1h-1zM241.0 362.8h1v1h-1zM228.7 363.7h1v1h-1zM225.7 363.2h1v1h-1zM230.6 366.6h1v1h-1zM232.7 367.0h1v1h-1zM244.1 361.1h1v1h-1zM227.8 364.3h1v1h-1zM231.7 362.8h1v1h-1zM229.0 364.7h1v1h-1zM232.5 352.0h1v1h-1zM230.9 363.7h1v1h-1zM238.3 359.4h1v1h-1zM227.9 367.5h1v1h-1zM228.9 362.6h1v1h-1zM234.6 365.6h1v1h-1zM232.2 356.9h1v1h-1zM237.4 360.1h1v1h-1zM236.7 357.1h1v1h-1zM229.6 360.9h1v1h-1zM228.2 353.1h1v1h-1zM236.3 365.7h1v1h-1zM233.4 360.2h1v1h-1zM233.2 365.1h1v1h-1zM226.7 360.5h1v1h-1zM229.2 365.3h1v1h-1zM233.5 356.0h1v1h-1zM227.1 362.8h1v1h-1zM231.8 360.0h1v1h-1zM226.0 360.9h1v1h-1zM236.4 365.2h1v1h-1zM230.8 357.2h1v1h-1zM232.7 359.2h1v1h-1zM229.1 359.1h1v1h-1zM231.6 359.7h1v1h-1zM223.2 364.5h1v1h-1zM229.4 367.6h1v1h-1zM234.8 364.9h1v1h-1zM230.4 357.4h1v1h-1zM233.8 349.4h1v1h-1zM230.1 363.1h1v1h-1zM235.7 362.6h1v1h-1zM230.0 367.1h1v1h-1zM228.5 360.1h1v1h-1zM235.9 364.8h1v1h-1zM242.6 361.0h1v1h-1zM222.3 365.1h1v1h-1zM238.5 361.3h1v1h-1zM228.6 359.8h1v1h-1zM225.6 364.6h1v1h-1zM235.7 364.8h1v1h-1zM225.7 358.5h1v1h-1zM224.6 354.5h1v1h-1zM225.1 354.7h1v1h-1zM231.1 364.0h1v1h-1zM235.2 361.9h1v1h-1zM228.6 362.0h1v1h-1zM235.0 360.6h1v1h-1zM232.3 360.6h1v1h-1zM229.3 362.2h1v1h-1zM226.3 366.9h1v1h-1zM224.0 364.1h1v1h-1zM236.5 358.2h1v1h-1zM229.7 356.8h1v1h-1zM231.7 363.9h1v1h-1zM245.2 355.7h1v1h-1zM238.4 359.3h1v1h-1zM233.4 366.1h1v1h-1zM234.8 364.0h1v1h-1zM231.0 362.0h1v1h-1zM232.8 367.6h1v1h-1zM224.4 359.7h1v1h-1zM225.6 357.5h1v1h-1zM227.9 367.1h1v1h-1zM225.9 362.3h1v1h-1zM226.2 364.1h1v1h-1zM238.5 364.7h1v1h-1zM236.5 361.3h1v1h-1zM221.9 352.8h1v1h-1zM231.5 364.7h1v1h-1zM238.5 360.4h1v1h-1zM232.4 363.2h1v1h-1zM237.5 361.7h1v1h-1zM226.4 367.0h1v1h-1zM234.1 363.8h1v1h-1zM225.5 362.0h1v1h-1zM223.2 352.7h1v1h-1zM230.8 360.0h1v1h-1zM229.0 365.5h1v1h-1zM225.5 362.6h1v1h-1zM230.4 361.0h1v1h-1zM235.0 353.3h1v1h-1zM232.6 358.2h1v1h-1zM232.6 363.8h1v1h-1zM230.1 360.3h1v1h-1zM226.1 364.5h1v1h-1zM228.5 364.0h1v1h-1zM226.8 367.3h1v1h-1zM229.7 364.5h1v1h-1zM231.3 365.1h1v1h-1zM235.4 365.1h1v1h-1zM240.6 358.8h1v1h-1zM238.7 362.3h1v1h-1zM224.4 364.2h1v1h-1zM229.5 362.2h1v1h-1zM233.2 353.2h1v1h-1zM234.6 357.4h1v1h-1zM232.0 354.7h1v1h-1zM232.9 362.8h1v1h-1zM235.7 360.6h1v1h-1zM225.9 361.3h1v1h-1zM228.4 359.0h1v1h-1zM231.8 356.3h1v1h-1zM229.7 361.4h1v1h-1zM229.5 360.8h1v1h-1zM238.4 364.0h1v1h-1zM225.1 360.0h1v1h-1zM235.8 359.0h1v1h-1zM232.4 361.9h1v1h-1zM234.7 361.2h1v1h-1zM231.3 358.0h1v1h-1zM233.8 357.7h1v1h-1zM240.9 361.9h1v1h-1zM230.9 365.6h1v1h-1zM231.6 362.4h1v1h-1zM231.7 358.7h1v1h-1zM227.3 358.8h1v1h-1zM237.8 359.1h1v1h-1zM229.9 359.9h1v1h-1zM227.3 364.5h1v1h-1zM232.6 360.6h1v1h-1zM234.6 356.1h1v1h-1zM236.3 363.0h1v1h-1zM236.4 367.4h1v1h-1zM224.6 360.7h1v1h-1zM229.3 364.9h1v1h-1zM238.9 353.2h1v1h-1zM232.1 361.4h1v1h-1zM237.1 361.8h1v1h-1zM225.5 361.1h1v1h-1zM226.7 358.4h1v1h-1zM232.2 359.8h1v1h-1zM233.4 355.0h1v1h-1zM235.7 356.0h1v1h-1zM238.7 359.6h1v1h-1zM238.2 367.6h1v1h-1zM232.1 367.6h1v1h-1zM233.7 359.0h1v1h-1zM226.0 361.4h1v1h-1zM237.1 355.8h1v1h-1zM223.8 364.5h1v1h-1zM229.8 365.4h1v1h-1zM241.5 355.3h1v1h-1zM230.5 361.4h1v1h-1zM233.2 366.9h1v1h-1zM238.8 362.5h1v1h-1zM230.3 361.8h1v1h-1zM227.6 364.4h1v1h-1zM233.7 357.9h1v1h-1zM228.4 361.3h1v1h-1zM233.6 360.9h1v1h-1zM224.6 358.6h1v1h-1zM234.6 365.8h1v1h-1zM224.8 360.3h1v1h-1zM223.4 359.4h1v1h-1zM250.1 362.3h1v1h-1zM230.2 359.3h1v1h-1zM225.8 353.4h1v1h-1zM231.8 360.7h1v1h-1zM239.6 354.5h1v1h-1zM222.0 365.0h1v1h-1zM223.8 364.4h1v1h-1zM239.5 362.0h1v1h-1zM233.5 358.8h1v1h-1zM233.5 367.2h1v1h-1zM231.1 361.4h1v1h-1zM234.0 365.8h1v1h-1zM223.6 362.3h1v1h-1zM228.5 364.3h1v1h-1zM237.3 363.4h1v1h-1zM238.6 357.4h1v1h-1zM229.9 357.4h1v1h-1zM232.3 362.4h1v1h-1zM231.0 356.4h1v1h-1zM231.6 360.0h1v1h-1zM235.1 360.8h1v1h-1zM238.0 363.1h1v1h-1zM222.5 361.2h1v1h-1zM224.7 366.5h1v1h-1zM239.3 361.9h1v1h-1zM234.3 355.3h1v1h-1zM230.7 355.0h1v1h-1zM232.5 363.4h1v1h-1zM236.2 360.3h1v1h-1zM232.5 364.8h1v1h-1zM236.6 361.0h1v1h-1zM236.3 366.3h1v1h-1zM241.2 366.5h1v1h-1zM233.1 365.3h1v1h-1zM227.3 365.3h1v1h-1zM224.1 364.0h1v1h-1zM234.9 354.8h1v1h-1zM241.9 356.7h1v1h-1zM237.4 359.6h1v1h-1zM233.6 359.0h1v1h-1zM244.8 366.8h1v1h-1zM241.3 365.7h1v1h-1zM235.6 362.8h1v1h-1zM230.8 364.9h1v1h-1zM232.9 361.4h1v1h-1zM225.0 360.7h1v1h-1zM235.2 359.9h1v1h-1zM233.9 361.4h1v1h-1zM226.8 357.9h1v1h-1zM228.3 360.8h1v1h-1zM230.8 367.3h1v1h-1zM226.6 352.7h1v1h-1zM235.6 360.0h1v1h-1zM239.6 364.8h1v1h-1zM237.0 362.7h1v1h-1zM237.0 359.3h1v1h-1zM228.5 360.0h1v1h-1zM229.0 367.5h1v1h-1zM231.3 367.1h1v1h-1zM230.5 366.5h1v1h-1zM231.6 360.8h1v1h-1zM232.0 362.9h1v1h-1zM229.2 355.8h1v1h-1zM240.9 360.3h1v1h-1zM222.8 351.7h1v1h-1zM239.1 354.6h1v1h-1zM230.5 353.7h1v1h-1zM237.8 363.9h1v1h-1zM240.6 366.9h1v1h-1zM229.2 356.0h1v1h-1zM226.8 354.1h1v1h-1zM241.5 361.3h1v1h-1zM232.9 363.1h1v1h-1zM242.6 359.6h1v1h-1zM238.3 363.6h1v1h-1zM231.4 353.3h1v1h-1zM236.9 358.7h1v1h-1zM229.8 363.2h1v1h-1zM232.7 367.4h1v1h-1zM228.8 362.9h1v1h-1zM233.6 362.3h1v1h-1zM235.7 361.0h1v1h-1zM238.4 358.9h1v1h-1zM224.8 362.0h1v1h-1zM238.3 359.8h1v1h-1zM229.0 360.6h1v1h-1zM233.1 361.4h1v1h-1zM233.8 354.2h1v1h-1zM239.9 364.9h1v1h-1zM232.5 352.7h1v1h-1zM236.1 360.8h1v1h-1zM227.0 361.2h1v1h-1zM222.2 364.9h1v1h-1zM231.1 360.9h1v1h-1zM239.5 362.4h1v1h-1zM228.8 357.8h1v1h-1zM231.9 367.1h1v1h-1zM229.2 357.4h1v1h-1zM237.0 362.5h1v1h-1zM226.0 363.1h1v1h-1zM223.1 360.8h1v1h-1zM235.2 367.4h1v1h-1zM225.7 366.1h1v1h-1zM236.2 361.6h1v1h-1zM244.9 362.2h1v1h-1zM227.7 364.2h1v1h-1zM237.3 360.3h1v1h-1zM235.4 364.7h1v1h-1zM242.2 359.3h1v1h-1zM225.6 352.8h1v1h-1zM230.7 354.9h1v1h-1zM231.3 364.1h1v1h-1zM229.9 357.8h1v1h-1zM238.3 361.3h1v1h-1zM233.4 366.6h1v1h-1zM225.5 357.9h1v1h-1zM245.1 361.5h1v1h-1zM226.8 361.0h1v1h-1zM229.3 356.5h1v1h-1zM230.1 362.1h1v1h-1zM232.1 364.7h1v1h-1zM223.3 355.3h1v1h-1zM236.3 360.1h1v1h-1zM238.5 363.6h1v1h-1zM224.9 364.7h1v1h-1zM227.0 363.4h1v1h-1zM231.8 365.4h1v1h-1zM233.8 365.8h1v1h-1zM233.7 364.4h1v1h-1zM228.3 366.0h1v1h-1zM237.9 362.5h1v1h-1zM231.0 360.5h1v1h-1zM232.9 367.6h1v1h-1zM239.9 360.0h1v1h-1zM227.4 358.5h1v1h-1zM237.3 363.2h1v1h-1zM233.7 364.4h1v1h-1zM234.1 361.6h1v1h-1zM226.9 359.3h1v1h-1zM232.8 364.0h1v1h-1zM230.3 360.3h1v1h-1zM239.2 360.0h1v1h-1zM233.3 360.7h1v1h-1zM227.8 355.2h1v1h-1zM229.5 358.4h1v1h-1zM236.6 356.9h1v1h-1zM230.1 365.2h1v1h-1zM231.6 364.5h1v1h-1zM236.5 354.5h1v1h-1zM230.1 357.8h1v1h-1zM239.1 361.6h1v1h-1zM230.4 362.5h1v1h-1zM234.3 361.0h1v1h-1zM238.6 365.9h1v1h-1zM237.3 362.4h1v1h-1zM230.5 360.6h1v1h-1zM230.3 354.6h1v1h-1zM234.1 365.9h1v1h-1zM232.2 359.9h1v1h-1zM232.4 363.2h1v1h-1zM227.8 363.8h1v1h-1zM235.7 362.5h1v1h-1zM231.0 357.5h1v1h-1zM229.2 365.4h1v1h-1zM239.6 359.2h1v1h-1zM234.6 364.6h1v1h-1zM237.3 363.3h1v1h-1zM234.4 366.3h1v1h-1zM226.3 362.4h1v1h-1zM223.2 353.2h1v1h-1zM228.0 355.2h1v1h-1zM234.8 366.7h1v1h-1zM230.6 361.5h1v1h-1zM231.0 361.0h1v1h-1zM232.9 363.8h1v1h-1zM229.8 358.6h1v1h-1zM229.6 365.8h1v1h-1zM226.2 359.0h1v1h-1zM234.6 364.4h1v1h-1zM232.5 363.5h1v1h-1zM236.5 364.0h1v1h-1zM223.9 363.8h1v1h-1zM229.8 363.9h1v1h-1zM236.8 358.8h1v1h-1zM233.3 366.1h1v1h-1zM233.0 360.7h1v1h-1zM226.8 359.1h1v1h-1zM225.8 366.6h1v1h-1zM232.7 356.7h1v1h-1z" fill="#5a5a5a" fill-opacity="0.45"/>
<ellipse cx="232" cy="361.5" rx="4.5" ry="4" transform="rotate(0 232 361.5)" fill="#666" fill-opacity="0.45" filter="url(#bl)"/>
<path d="M240.4 338.4h1v1h-1zM253.0 334.6h1v1h-1zM234.9 352.3h1v1h-1zM237.0 342.8h1v1h-1zM236.4 348.2h1v1h-1zM236.7 352.0h1v1h-1zM238.7 343.3h1v1h-1zM240.2 335.2h1v1h-1zM255.5 331.8h1v1h-1zM242.0 352.2h1v1h-1zM247.3 350.6h1v1h-1zM254.4 337.3h1v1h-1zM241.8 350.5h1v1h-1zM236.1 345.2h1v1h-1zM255.3 340.7h1v1h-1zM236.7 347.8h1v1h-1zM240.3 350.9h1v1h-1zM240.6 352.7h1v1h-1zM244.5 352.9h1v1h-1zM255.9 339.5h1v1h-1zM259.5 342.3h1v1h-1zM249.8 349.2h1v1h-1zM236.2 333.3h1v1h-1zM258.6 339.8h1v1h-1zM235.3 359.5h1v1h-1zM245.9 364.9h1v1h-1zM261.5 351.9h1v1h-1zM246.1 355.0h1v1h-1zM228.3 353.1h1v1h-1zM243.2 344.9h1v1h-1zM242.9 336.5h1v1h-1zM253.9 358.2h1v1h-1zM228.5 352.8h1v1h-1zM259.6 349.7h1v1h-1zM229.7 342.9h1v1h-1zM254.2 362.8h1v1h-1zM230.6 351.5h1v1h-1zM233.5 348.2h1v1h-1zM245.5 348.2h1v1h-1zM240.3 347.9h1v1h-1zM254.2 347.1h1v1h-1zM241.5 357.4h1v1h-1zM232.2 357.3h1v1h-1zM254.3 352.7h1v1h-1zM240.3 349.4h1v1h-1zM223.6 351.3h1v1h-1zM246.6 355.8h1v1h-1zM243.2 345.6h1v1h-1zM233.2 350.3h1v1h-1zM245.5 358.9h1v1h-1zM241.6 345.0h1v1h-1zM240.4 345.3h1v1h-1zM236.5 331.3h1v1h-1zM223.4 342.2h1v1h-1zM247.1 347.6h1v1h-1zM245.5 358.5h1v1h-1zM232.7 360.6h1v1h-1zM245.3 342.5h1v1h-1zM256.1 334.5h1v1h-1zM229.8 349.5h1v1h-1zM246.3 346.8h1v1h-1zM257.1 347.5h1v1h-1zM231.0 354.0h1v1h-1zM230.0 353.0h1v1h-1zM245.5 345.1h1v1h-1zM244.4 345.9h1v1h-1zM238.3 362.9h1v1h-1zM248.0 345.5h1v1h-1zM234.3 352.0h1v1h-1zM249.5 355.1h1v1h-1zM258.6 350.1h1v1h-1zM255.8 353.8h1v1h-1zM254.3 334.3h1v1h-1zM237.5 345.6h1v1h-1zM253.2 337.1h1v1h-1zM241.0 362.2h1v1h-1zM248.5 344.7h1v1h-1zM260.3 334.6h1v1h-1zM246.7 346.4h1v1h-1zM247.2 345.9h1v1h-1zM233.5 352.4h1v1h-1zM228.9 356.0h1v1h-1zM240.1 357.3h1v1h-1zM236.4 344.4h1v1h-1zM248.2 358.5h1v1h-1zM246.8 336.2h1v1h-1zM233.7 356.0h1v1h-1zM232.4 345.4h1v1h-1zM259.1 338.1h1v1h-1zM229.6 331.6h1v1h-1zM228.7 341.0h1v1h-1zM262.2 355.9h1v1h-1zM231.5 367.7h1v1h-1zM250.1 346.1h1v1h-1zM251.3 350.7h1v1h-1zM231.4 336.0h1v1h-1zM232.4 350.7h1v1h-1zM237.2 343.6h1v1h-1zM251.0 338.4h1v1h-1zM250.9 343.4h1v1h-1zM241.6 339.6h1v1h-1zM240.9 342.6h1v1h-1zM223.4 352.2h1v1h-1zM242.8 356.0h1v1h-1zM243.7 340.1h1v1h-1zM231.9 329.7h1v1h-1zM232.0 361.9h1v1h-1zM259.4 352.5h1v1h-1zM246.2 353.3h1v1h-1zM244.8 333.8h1v1h-1zM234.5 360.5h1v1h-1zM255.0 348.8h1v1h-1zM238.2 346.4h1v1h-1zM234.9 342.4h1v1h-1zM221.7 353.9h1v1h-1zM236.9 348.1h1v1h-1zM261.3 350.7h1v1h-1zM235.4 355.2h1v1h-1zM227.5 360.6h1v1h-1zM244.6 346.9h1v1h-1zM250.3 360.0h1v1h-1zM235.7 341.7h1v1h-1zM264.7 345.2h1v1h-1zM257.1 340.6h1v1h-1zM245.2 343.0h1v1h-1zM248.4 345.5h1v1h-1zM237.1 363.1h1v1h-1zM242.7 331.6h1v1h-1zM238.2 341.9h1v1h-1zM228.1 346.5h1v1h-1zM237.0 350.2h1v1h-1zM230.8 335.1h1v1h-1zM237.6 357.3h1v1h-1zM228.3 356.7h1v1h-1zM246.3 344.4h1v1h-1zM244.3 342.2h1v1h-1zM236.2 341.3h1v1h-1zM249.0 359.5h1v1h-1zM236.5 360.2h1v1h-1zM233.7 365.2h1v1h-1zM236.8 356.6h1v1h-1zM248.1 347.6h1v1h-1zM252.7 358.5h1v1h-1zM243.8 334.2h1v1h-1zM241.1 356.9h1v1h-1zM234.0 355.3h1v1h-1zM237.0 350.7h1v1h-1zM249.1 341.7h1v1h-1zM273.1 344.8h1v1h-1zM244.6 342.2h1v1h-1zM242.3 346.6h1v1h-1zM224.0 339.0h1v1h-1zM245.0 347.7h1v1h-1zM238.6 349.0h1v1h-1zM246.7 337.5h1v1h-1zM248.0 345.3h1v1h-1zM236.3 348.8h1v1h-1zM253.5 351.8h1v1h-1zM250.6 341.5h1v1h-1zM237.2 339.8h1v1h-1zM235.4 346.7h1v1h-1zM238.0 355.9h1v1h-1zM247.7 354.5h1v1h-1zM245.0 357.7h1v1h-1zM244.7 356.9h1v1h-1zM248.5 354.2h1v1h-1zM239.4 338.8h1v1h-1zM246.9 352.0h1v1h-1zM239.5 345.5h1v1h-1zM271.5 334.1h1v1h-1zM241.2 348.7h1v1h-1zM227.9 340.5h1v1h-1zM233.9 347.5h1v1h-1zM237.9 356.7h1v1h-1zM229.8 354.6h1v1h-1zM259.2 353.7h1v1h-1zM225.3 326.5h1v1h-1zM251.9 351.5h1v1h-1zM237.5 360.8h1v1h-1zM237.8 350.7h1v1h-1zM231.2 353.7h1v1h-1zM236.6 345.6h1v1h-1zM254.0 348.7h1v1h-1zM226.8 357.6h1v1h-1zM249.8 340.4h1v1h-1zM237.8 350.2h1v1h-1zM239.5 350.5h1v1h-1zM248.3 343.6h1v1h-1zM263.5 339.1h1v1h-1zM239.1 366.5h1v1h-1zM267.9 344.8h1v1h-1zM238.4 340.4h1v1h-1zM254.6 348.3h1v1h-1zM233.4 354.0h1v1h-1zM257.9 352.1h1v1h-1zM267.6 354.5h1v1h-1zM246.7 347.9h1v1h-1zM249.8 358.1h1v1h-1zM252.9 356.2h1v1h-1zM245.5 355.0h1v1h-1zM254.9 345.3h1v1h-1zM230.5 365.9h1v1h-1zM247.7 344.2h1v1h-1zM244.2 346.5h1v1h-1zM223.3 350.7h1v1h-1zM226.9 353.4h1v1h-1zM242.5 358.7h1v1h-1zM241.3 352.4h1v1h-1zM238.2 346.4h1v1h-1zM228.3 360.0h1v1h-1zM243.0 343.8h1v1h-1zM243.6 345.1h1v1h-1zM234.5 352.5h1v1h-1zM254.8 344.4h1v1h-1zM225.7 346.6h1v1h-1zM260.3 338.8h1v1h-1zM254.5 344.7h1v1h-1zM249.9 346.7h1v1h-1zM224.3 348.6h1v1h-1zM264.7 343.9h1v1h-1zM247.6 345.1h1v1h-1zM241.0 352.0h1v1h-1zM250.4 366.7h1v1h-1zM241.6 347.5h1v1h-1zM232.9 339.3h1v1h-1zM225.6 357.6h1v1h-1zM223.9 364.3h1v1h-1zM250.9 344.9h1v1h-1zM229.6 351.5h1v1h-1zM243.9 358.4h1v1h-1zM233.4 347.3h1v1h-1zM241.1 346.8h1v1h-1zM232.7 335.9h1v1h-1zM223.3 346.5h1v1h-1zM241.1 357.8h1v1h-1zM269.6 359.0h1v1h-1zM249.1 364.0h1v1h-1zM240.0 344.8h1v1h-1zM265.5 335.7h1v1h-1zM237.2 347.6h1v1h-1zM257.0 341.3h1v1h-1zM249.9 344.1h1v1h-1zM229.1 353.3h1v1h-1zM242.2 339.0h1v1h-1zM231.5 344.0h1v1h-1zM253.2 351.1h1v1h-1zM245.4 352.7h1v1h-1zM237.6 353.9h1v1h-1zM233.5 339.0h1v1h-1zM234.8 352.1h1v1h-1zM244.6 357.7h1v1h-1zM223.5 350.4h1v1h-1zM244.9 340.2h1v1h-1zM244.2 345.1h1v1h-1zM231.5 360.6h1v1h-1zM228.5 360.1h1v1h-1zM236.2 342.0h1v1h-1zM231.4 344.6h1v1h-1zM233.3 352.9h1v1h-1zM223.7 363.0h1v1h-1zM253.2 359.1h1v1h-1zM228.0 331.5h1v1h-1zM235.1 348.8h1v1h-1zM244.6 344.1h1v1h-1zM241.4 350.5h1v1h-1zM228.0 367.1h1v1h-1zM230.3 353.4h1v1h-1zM252.6 340.5h1v1h-1zM244.6 362.7h1v1h-1zM240.6 358.4h1v1h-1zM245.6 350.4h1v1h-1zM249.6 345.8h1v1h-1zM241.3 357.5h1v1h-1zM245.7 352.7h1v1h-1zM229.2 351.5h1v1h-1zM256.6 354.3h1v1h-1zM245.1 344.1h1v1h-1zM236.2 353.9h1v1h-1zM257.6 346.7h1v1h-1zM255.9 344.1h1v1h-1zM253.7 338.4h1v1h-1zM242.6 339.8h1v1h-1zM250.2 352.6h1v1h-1zM230.8 344.7h1v1h-1zM235.2 337.5h1v1h-1zM230.9 343.6h1v1h-1zM252.7 359.2h1v1h-1zM237.0 347.5h1v1h-1zM243.7 344.3h1v1h-1zM240.4 356.6h1v1h-1zM244.6 347.9h1v1h-1zM238.2 362.5h1v1h-1zM235.7 351.3h1v1h-1zM230.1 346.1h1v1h-1zM242.6 345.6h1v1h-1zM248.1 348.6h1v1h-1zM223.8 332.4h1v1h-1zM252.1 342.3h1v1h-1zM258.2 346.4h1v1h-1zM234.7 355.2h1v1h-1zM239.3 349.7h1v1h-1zM233.1 356.2h1v1h-1zM253.3 342.6h1v1h-1zM260.6 340.9h1v1h-1zM242.5 334.9h1v1h-1zM259.3 356.0h1v1h-1zM224.1 354.2h1v1h-1zM246.8 349.0h1v1h-1zM244.0 340.8h1v1h-1zM238.7 339.9h1v1h-1zM238.9 352.9h1v1h-1zM233.3 348.3h1v1h-1zM237.5 350.0h1v1h-1zM252.5 349.3h1v1h-1zM244.3 336.3h1v1h-1zM239.4 356.6h1v1h-1zM232.2 347.1h1v1h-1zM233.6 362.1h1v1h-1zM236.2 343.8h1v1h-1zM250.4 357.1h1v1h-1zM248.9 356.3h1v1h-1zM244.2 347.6h1v1h-1zM236.6 345.7h1v1h-1zM236.2 353.3h1v1h-1zM241.0 350.0h1v1h-1zM248.6 347.4h1v1h-1zM226.1 345.1h1v1h-1zM227.2 335.2h1v1h-1zM241.5 338.8h1v1h-1zM226.6 342.5h1v1h-1zM251.1 344.8h1v1h-1zM252.8 346.4h1v1h-1zM238.2 354.6h1v1h-1zM248.7 348.9h1v1h-1zM230.2 347.2h1v1h-1zM228.9 349.1h1v1h-1zM245.3 361.3h1v1h-1zM258.4 352.0h1v1h-1zM252.7 349.1h1v1h-1zM274.3 356.5h1v1h-1zM271.3 347.2h1v1h-1zM248.1 357.0h1v1h-1zM244.5 351.3h1v1h-1zM232.7 358.8h1v1h-1zM244.7 355.5h1v1h-1zM237.0 334.6h1v1h-1zM249.2 357.8h1v1h-1zM226.7 343.3h1v1h-1zM238.4 347.5h1v1h-1zM226.2 366.9h1v1h-1zM252.1 341.9h1v1h-1zM222.9 355.5h1v1h-1zM264.7 352.1h1v1h-1zM253.1 338.9h1v1h-1zM242.3 336.0h1v1h-1zM264.3 350.0h1v1h-1zM247.4 349.2h1v1h-1zM239.5 354.7h1v1h-1zM264.3 348.2h1v1h-1zM222.2 351.1h1v1h-1zM226.6 344.8h1v1h-1zM245.3 346.9h1v1h-1zM230.4 350.8h1v1h-1zM233.9 355.0h1v1h-1zM239.9 352.7h1v1h-1zM240.1 355.7h1v1h-1zM240.4 349.1h1v1h-1zM236.0 351.2h1v1h-1zM234.7 351.1h1v1h-1zM236.0 345.8h1v1h-1zM245.5 343.9h1v1h-1zM235.2 338.2h1v1h-1zM230.1 340.9h1v1h-1zM259.4 334.3h1v1h-1zM230.5 352.6h1v1h-1zM254.8 332.0h1v1h-1zM225.2 352.9h1v1h-1zM243.4 336.4h1v1h-1zM249.8 347.1h1v1h-1zM249.7 346.6h1v1h-1zM242.3 354.1h1v1h-1zM240.8 351.1h1v1h-1zM231.0 345.6h1v1h-1zM246.5 346.0h1v1h-1zM234.6 355.8h1v1h-1zM247.7 347.8h1v1h-1zM234.9 357.8h1v1h-1zM267.6 337.2h1v1h-1zM223.9 345.3h1v1h-1zM229.8 340.1h1v1h-1zM230.2 358.2h1v1h-1zM253.2 359.6h1v1h-1zM249.1 343.4h1v1h-1zM252.6 341.7h1v1h-1zM236.2 339.7h1v1h-1zM256.5 355.0h1v1h-1zM236.2 347.1h1v1h-1zM242.4 350.5h1v1h-1zM250.9 347.8h1v1h-1zM243.8 335.5h1v1h-1zM235.8 334.4h1v1h-1zM263.0 357.1h1v1h-1zM251.1 356.8h1v1h-1zM264.7 352.9h1v1h-1zM224.1 350.1h1v1h-1zM228.2 351.1h1v1h-1zM244.5 340.3h1v1h-1zM239.0 351.7h1v1h-1zM239.6 347.6h1v1h-1zM250.6 349.4h1v1h-1zM225.1 349.3h1v1h-1zM243.0 340.1h1v1h-1zM247.7 340.8h1v1h-1zM237.8 348.5h1v1h-1zM265.2 341.8h1v1h-1zM236.4 355.8h1v1h-1zM236.7 351.3h1v1h-1zM239.4 338.0h1v1h-1zM255.9 344.2h1v1h-1zM237.5 338.1h1v1h-1zM223.1 347.1h1v1h-1zM225.8 355.8h1v1h-1zM250.0 341.8h1v1h-1zM223.5 348.5h1v1h-1zM230.3 352.2h1v1h-1zM242.8 344.8h1v1h-1zM243.9 357.3h1v1h-1zM259.2 341.1h1v1h-1zM249.0 345.4h1v1h-1zM231.9 361.5h1v1h-1zM246.0 349.2h1v1h-1zM245.1 346.7h1v1h-1zM232.7 365.6h1v1h-1zM251.6 349.2h1v1h-1zM253.8 357.7h1v1h-1zM240.2 354.0h1v1h-1zM238.9 354.7h1v1h-1zM238.4 353.7h1v1h-1zM246.0 345.0h1v1h-1zM251.5 346.2h1v1h-1zM237.0 349.5h1v1h-1zM235.1 360.2h1v1h-1zM249.7 355.8h1v1h-1zM227.3 353.6h1v1h-1zM233.3 350.9h1v1h-1zM255.7 348.4h1v1h-1zM241.2 358.4h1v1h-1zM255.2 362.3h1v1h-1zM221.8 355.0h1v1h-1zM235.7 342.2h1v1h-1zM241.0 338.8h1v1h-1zM241.4 364.9h1v1h-1zM232.0 340.3h1v1h-1zM239.1 350.4h1v1h-1zM224.7 345.1h1v1h-1zM254.8 350.7h1v1h-1zM245.8 351.0h1v1h-1zM231.9 359.7h1v1h-1zM233.0 366.7h1v1h-1zM241.2 332.9h1v1h-1zM253.8 363.6h1v1h-1zM240.3 358.2h1v1h-1zM238.3 343.9h1v1h-1zM237.2 352.8h1v1h-1zM227.9 343.3h1v1h-1zM253.0 343.4h1v1h-1zM235.3 339.0h1v1h-1zM244.9 354.9h1v1h-1zM236.3 348.1h1v1h-1zM230.4 362.8h1v1h-1zM234.6 348.6h1v1h-1zM259.5 343.6h1v1h-1zM223.3 344.0h1v1h-1zM240.3 364.4h1v1h-1zM243.7 346.5h1v1h-1zM252.5 358.1h1v1h-1zM235.5 362.3h1v1h-1zM251.6 350.9h1v1h-1zM256.4 343.8h1v1h-1zM266.9 345.0h1v1h-1zM231.4 355.7h1v1h-1zM246.1 355.3h1v1h-1zM241.2 360.2h1v1h-1zM235.8 351.0h1v1h-1zM226.9 344.5h1v1h-1zM242.9 342.9h1v1h-1zM236.5 348.0h1v1h-1zM245.6 354.8h1v1h-1zM251.6 356.0h1v1h-1zM243.1 343.8h1v1h-1zM223.9 349.0h1v1h-1zM230.3 335.0h1v1h-1zM257.0 330.1h1v1h-1zM246.4 352.9h1v1h-1zM240.8 342.3h1v1h-1zM259.8 338.7h1v1h-1zM224.5 343.1h1v1h-1zM234.8 350.5h1v1h-1zM243.2 335.3h1v1h-1zM248.9 367.1h1v1h-1zM233.7 349.1h1v1h-1zM251.2 357.7h1v1h-1zM233.0 342.0h1v1h-1zM232.3 360.1h1v1h-1zM248.4 328.7h1v1h-1zM225.9 355.2h1v1h-1zM247.1 365.1h1v1h-1zM250.6 348.4h1v1h-1zM253.4 339.0h1v1h-1zM226.4 351.8h1v1h-1zM249.6 333.3h1v1h-1zM252.9 354.4h1v1h-1zM236.5 351.3h1v1h-1zM238.8 350.1h1v1h-1zM249.4 340.5h1v1h-1zM254.5 354.2h1v1h-1zM248.8 330.4h1v1h-1zM222.3 358.4h1v1h-1zM234.2 344.1h1v1h-1zM231.3 338.9h1v1h-1zM237.5 343.3h1v1h-1zM235.2 354.2h1v1h-1zM230.4 360.7h1v1h-1zM227.6 356.5h1v1h-1zM251.8 347.0h1v1h-1zM249.8 346.5h1v1h-1zM222.8 355.2h1v1h-1zM253.5 341.9h1v1h-1zM222.1 347.0h1v1h-1zM245.8 350.8h1v1h-1zM254.7 351.5h1v1h-1zM244.3 330.8h1v1h-1zM266.4 344.9h1v1h-1zM250.7 344.2h1v1h-1zM240.1 349.7h1v1h-1zM261.4 358.7h1v1h-1zM251.5 364.6h1v1h-1zM238.2 354.1h1v1h-1zM238.7 360.8h1v1h-1zM243.6 357.2h1v1h-1zM257.7 327.8h1v1h-1zM266.3 347.4h1v1h-1zM235.4 333.2h1v1h-1zM235.0 329.8h1v1h-1zM242.5 347.3h1v1h-1zM261.5 342.6h1v1h-1zM255.5 356.8h1v1h-1zM264.3 342.8h1v1h-1zM248.0 334.4h1v1h-1zM229.2 348.8h1v1h-1zM239.8 338.6h1v1h-1zM238.4 355.7h1v1h-1zM236.6 348.5h1v1h-1zM234.1 362.5h1v1h-1zM261.9 347.2h1v1h-1zM243.1 363.5h1v1h-1zM246.2 342.3h1v1h-1zM226.0 346.5h1v1h-1zM265.4 339.6h1v1h-1zM274.0 343.3h1v1h-1zM241.5 360.7h1v1h-1zM239.8 352.7h1v1h-1zM228.5 340.3h1v1h-1zM234.1 352.3h1v1h-1zM231.6 333.4h1v1h-1zM247.0 346.6h1v1h-1zM237.9 344.3h1v1h-1zM237.4 354.4h1v1h-1zM259.1 355.9h1v1h-1zM244.2 348.7h1v1h-1zM246.7 356.2h1v1h-1zM247.7 344.0h1v1h-1zM247.5 351.3h1v1h-1zM250.0 349.4h1v1h-1zM257.5 348.0h1v1h-1zM251.9 347.6h1v1h-1zM234.2 342.0h1v1h-1zM241.0 353.9h1v1h-1zM255.9 345.7h1v1h-1zM235.4 345.6h1v1h-1zM256.5 347.4h1v1h-1zM237.5 356.3h1v1h-1zM227.5 352.6h1v1h-1zM241.3 347.9h1v1h-1zM230.6 359.7h1v1h-1zM258.7 334.3h1v1h-1zM244.3 354.3h1v1h-1zM266.4 341.0h1v1h-1zM231.4 350.8h1v1h-1zM264.5 345.6h1v1h-1zM247.6 363.7h1v1h-1zM253.2 353.9h1v1h-1zM227.4 356.2h1v1h-1zM242.8 350.8h1v1h-1zM232.4 346.7h1v1h-1zM232.3 351.2h1v1h-1zM242.0 363.9h1v1h-1zM246.6 334.3h1v1h-1zM248.8 360.5h1v1h-1zM246.8 357.8h1v1h-1zM242.7 355.1h1v1h-1zM232.8 357.6h1v1h-1zM228.6 362.8h1v1h-1zM222.0 333.8h1v1h-1zM247.6 346.5h1v1h-1zM243.9 352.4h1v1h-1zM240.4 341.5h1v1h-1zM244.9 351.6h1v1h-1zM250.5 365.1h1v1h-1zM233.9 351.0h1v1h-1zM247.5 344.1h1v1h-1zM227.8 346.5h1v1h-1zM253.4 344.6h1v1h-1zM247.7 341.5h1v1h-1zM245.9 342.3h1v1h-1zM232.8 351.6h1v1h-1zM244.8 361.5h1v1h-1zM224.7 356.6h1v1h-1zM262.0 357.5h1v1h-1zM236.7 343.9h1v1h-1zM237.0 352.6h1v1h-1zM244.6 351.6h1v1h-1zM247.0 338.6h1v1h-1zM227.6 340.7h1v1h-1zM226.9 350.8h1v1h-1zM248.0 348.1h1v1h-1zM256.7 339.9h1v1h-1zM247.2 356.7h1v1h-1zM251.4 350.9h1v1h-1zM236.2 339.0h1v1h-1zM239.4 344.2h1v1h-1zM249.4 346.5h1v1h-1zM245.8 334.1h1v1h-1zM251.5 339.8h1v1h-1zM222.6 340.2h1v1h-1zM236.7 359.9h1v1h-1zM248.1 337.5h1v1h-1zM242.8 347.9h1v1h-1zM223.1 343.6h1v1h-1zM230.4 344.0h1v1h-1zM234.6 360.5h1v1h-1zM238.5 351.8h1v1h-1zM251.7 355.2h1v1h-1zM248.7 342.9h1v1h-1zM228.6 344.5h1v1h-1zM236.8 350.0h1v1h-1zM242.7 358.6h1v1h-1zM243.6 364.6h1v1h-1zM252.7 342.9h1v1h-1zM247.2 322.7h1v1h-1zM257.9 349.8h1v1h-1zM243.9 333.8h1v1h-1zM269.6 341.9h1v1h-1zM242.1 358.9h1v1h-1zM238.6 342.1h1v1h-1zM247.8 339.0h1v1h-1zM250.4 348.7h1v1h-1zM252.7 336.4h1v1h-1zM256.2 349.1h1v1h-1zM262.9 339.6h1v1h-1zM263.6 351.4h1v1h-1zM249.6 341.2h1v1h-1zM249.2 353.6h1v1h-1zM231.0 340.7h1v1h-1zM235.6 363.0h1v1h-1zM245.1 356.7h1v1h-1zM245.4 349.4h1v1h-1zM243.8 345.0h1v1h-1zM255.8 348.1h1v1h-1zM242.4 336.7h1v1h-1zM244.4 342.6h1v1h-1zM238.0 358.9h1v1h-1zM229.6 349.4h1v1h-1zM250.7 357.6h1v1h-1zM236.7 352.7h1v1h-1zM243.5 338.8h1v1h-1zM248.8 348.7h1v1h-1zM226.2 346.1h1v1h-1zM237.0 346.7h1v1h-1zM233.6 351.7h1v1h-1zM232.5 345.1h1v1h-1zM231.9 348.7h1v1h-1zM236.4 353.1h1v1h-1zM243.0 340.9h1v1h-1zM261.5 335.2h1v1h-1zM249.2 366.9h1v1h-1zM236.1 361.7h1v1h-1zM258.2 349.1h1v1h-1zM223.7 364.8h1v1h-1zM242.2 344.1h1v1h-1zM255.0 340.3h1v1h-1zM252.9 342.2h1v1h-1zM246.3 338.7h1v1h-1zM236.2 341.9h1v1h-1zM234.4 352.0h1v1h-1zM240.4 350.9h1v1h-1zM256.0 345.5h1v1h-1zM244.4 357.5h1v1h-1zM254.9 355.1h1v1h-1zM240.4 355.0h1v1h-1zM228.0 362.9h1v1h-1zM247.6 352.5h1v1h-1zM237.9 350.2h1v1h-1zM235.4 355.1h1v1h-1zM228.8 359.9h1v1h-1zM251.1 365.2h1v1h-1zM241.4 348.3h1v1h-1zM244.2 348.9h1v1h-1zM239.1 339.8h1v1h-1zM228.9 346.3h1v1h-1zM237.0 339.4h1v1h-1zM228.7 348.8h1v1h-1zM249.9 345.9h1v1h-1zM251.0 356.0h1v1h-1zM249.9 343.9h1v1h-1zM234.7 333.8h1v1h-1zM235.1 354.3h1v1h-1zM232.0 362.7h1v1h-1zM257.3 343.0h1v1h-1zM250.1 335.1h1v1h-1zM229.8 347.9h1v1h-1zM241.8 347.4h1v1h-1zM235.4 367.5h1v1h-1zM245.7 350.9h1v1h-1zM249.8 349.2h1v1h-1zM238.6 344.7h1v1h-1zM226.1 365.0h1v1h-1zM229.3 336.6h1v1h-1zM230.6 336.9h1v1h-1zM264.6 348.2h1v1h-1zM259.8 358.7h1v1h-1zM249.2 352.8h1v1h-1zM233.9 349.7h1v1h-1zM235.4 350.5h1v1h-1zM236.2 361.2h1v1h-1zM250.3 346.6h1v1h-1zM224.6 358.1h1v1h-1zM251.7 346.7h1v1h-1zM228.7 355.2h1v1h-1zM250.7 330.6h1v1h-1zM245.5 332.4h1v1h-1zM245.5 363.8h1v1h-1zM243.7 352.9h1v1h-1zM238.4 349.6h1v1h-1zM270.0 355.8h1v1h-1zM238.0 346.4h1v1h-1zM245.5 367.7h1v1h-1zM246.0 358.1h1v1h-1zM236.1 338.8h1v1h-1zM256.5 345.8h1v1h-1zM232.3 344.6h1v1h-1zM233.7 345.1h1v1h-1zM226.8 362.2h1v1h-1zM247.7 356.6h1v1h-1zM238.7 352.6h1v1h-1zM245.6 358.7h1v1h-1zM251.5 350.5h1v1h-1zM233.0 340.0h1v1h-1zM232.2 345.2h1v1h-1zM234.2 339.5h1v1h-1zM260.7 348.1h1v1h-1zM227.6 353.6h1v1h-1zM252.3 338.5h1v1h-1zM248.4 345.4h1v1h-1zM256.7 358.4h1v1h-1zM246.5 354.5h1v1h-1zM241.4 345.8h1v1h-1zM229.7 354.0h1v1h-1zM240.7 345.9h1v1h-1zM240.9 347.6h1v1h-1zM229.8 346.5h1v1h-1zM254.2 344.8h1v1h-1zM255.6 336.5h1v1h-1zM227.3 352.7h1v1h-1zM249.5 341.9h1v1h-1zM250.3 355.7h1v1h-1zM253.6 346.0h1v1h-1zM239.0 335.1h1v1h-1zM242.7 351.3h1v1h-1zM255.6 335.5h1v1h-1zM231.2 342.1h1v1h-1zM248.1 325.8h1v1h-1zM247.2 336.5h1v1h-1zM242.6 356.3h1v1h-1zM247.7 346.1h1v1h-1zM234.6 357.6h1v1h-1zM243.1 355.9h1v1h-1zM245.7 344.3h1v1h-1zM257.0 342.0h1v1h-1zM245.8 342.8h1v1h-1zM239.1 347.3h1v1h-1zM235.1 352.3h1v1h-1zM259.1 362.2h1v1h-1zM257.5 344.8h1v1h-1zM258.6 349.7h1v1h-1zM259.8 334.9h1v1h-1zM257.3 341.1h1v1h-1zM254.0 342.8h1v1h-1zM251.6 344.9h1v1h-1zM239.4 349.7h1v1h-1zM233.7 348.6h1v1h-1zM243.2 341.6h1v1h-1zM225.9 354.5h1v1h-1zM239.7 357.1h1v1h-1zM237.2 355.5h1v1h-1zM232.7 353.0h1v1h-1zM243.7 352.6h1v1h-1zM231.6 349.8h1v1h-1zM232.5 349.3h1v1h-1zM243.4 355.0h1v1h-1zM244.9 358.3h1v1h-1zM248.6 356.9h1v1h-1zM254.5 332.0h1v1h-1zM245.4 349.1h1v1h-1zM235.9 343.7h1v1h-1zM240.8 333.7h1v1h-1zM251.3 354.1h1v1h-1zM245.4 345.6h1v1h-1zM241.4 345.1h1v1h-1zM255.3 351.1h1v1h-1zM263.2 342.1h1v1h-1zM257.0 341.4h1v1h-1zM238.7 340.6h1v1h-1zM247.7 347.5h1v1h-1zM251.0 360.4h1v1h-1zM242.0 352.3h1v1h-1zM251.8 346.8h1v1h-1zM236.6 353.1h1v1h-1zM248.7 354.6h1v1h-1zM250.1 341.8h1v1h-1zM248.7 358.5h1v1h-1zM237.6 353.0h1v1h-1zM235.6 351.6h1v1h-1zM261.2 347.2h1v1h-1zM232.1 353.8h1v1h-1zM246.1 358.0h1v1h-1zM225.8 344.0h1v1h-1zM238.9 336.2h1v1h-1zM251.4 329.9h1v1h-1zM230.9 338.2h1v1h-1zM236.2 357.0h1v1h-1zM250.0 355.7h1v1h-1zM245.6 330.8h1v1h-1zM242.6 333.0h1v1h-1zM236.0 346.7h1v1h-1zM236.9 354.2h1v1h-1zM235.9 365.1h1v1h-1zM250.3 357.8h1v1h-1zM251.7 355.1h1v1h-1zM244.5 365.6h1v1h-1zM231.4 354.9h1v1h-1zM241.8 347.2h1v1h-1zM244.4 342.2h1v1h-1zM252.7 354.0h1v1h-1zM244.3 355.1h1v1h-1zM228.1 335.9h1v1h-1zM235.5 348.2h1v1h-1z" fill="#EE9A1E" fill-opacity="0.42"/>
<ellipse cx="241.5" cy="349.6" rx="13" ry="10" transform="rotate(-10 241.5 349.6)" fill="#E8901A" fill-opacity="0.8" filter="url(#bl)"/>
<rect x="36.2" y="216" width="66.2" height="59" fill="none" stroke="#7a7a7a" stroke-width="1"/>
<path d="M34.2 272.79H36.2M35.3 268.35H36.2M35.3 265.75H36.2M35.3 263.91H36.2M35.3 262.48H36.2M35.3 261.31H36.2M35.3 260.32H36.2M35.3 259.47H36.2M35.3 258.71H36.2M34.2 258.04H36.2M35.3 253.6H36.2M35.3 251H36.2M35.3 249.16H36.2M35.3 247.73H36.2M35.3 246.56H36.2M35.3 245.57H36.2M35.3 244.72H36.2M35.3 243.96H36.2M34.2 243.29H36.2M35.3 238.85H36.2M35.3 236.25H36.2M35.3 234.41H36.2M35.3 232.98H36.2M35.3 231.81H36.2M35.3 230.82H36.2M35.3 229.97H36.2M35.3 229.21H36.2M34.2 228.54H36.2M35.3 224.1H36.2M35.3 221.5H36.2M35.3 219.66H36.2M35.3 218.23H36.2M35.3 217.06H36.2M35.3 216.07H36.2M38.68 275V277M43.66 275V276.1M46.58 275V276.1M48.65 275V276.1M50.25 275V276.1M51.56 275V276.1M52.67 275V276.1M53.63 275V276.1M54.48 275V276.1M55.23 275V277M60.21 275V276.1M63.13 275V276.1M65.2 275V276.1M66.8 275V276.1M68.11 275V276.1M69.22 275V276.1M70.18 275V276.1M71.03 275V276.1M71.78 275V277M76.76 275V276.1M79.68 275V276.1M81.75 275V276.1M83.35 275V276.1M84.66 275V276.1M85.77 275V276.1M86.73 275V276.1M87.58 275V276.1M88.33 275V277M93.31 275V276.1M96.23 275V276.1M98.3 275V276.1M99.9 275V276.1M101.21 275V276.1M102.32 275V276.1" stroke="#777" stroke-width="0.6"/>
<rect x="127.9" y="216" width="66" height="58.8" fill="none" stroke="#7a7a7a" stroke-width="1"/>
<path d="M125.9 272.6H127.9M127 268.17H127.9M127 265.58H127.9M127 263.74H127.9M127 262.32H127.9M127 261.16H127.9M127 260.17H127.9M127 259.32H127.9M127 258.57H127.9M125.9 257.89H127.9M127 253.47H127.9M127 250.88H127.9M127 249.04H127.9M127 247.62H127.9M127 246.46H127.9M127 245.47H127.9M127 244.62H127.9M127 243.87H127.9M125.9 243.19H127.9M127 238.77H127.9M127 236.18H127.9M127 234.34H127.9M127 232.92H127.9M127 231.76H127.9M127 230.77H127.9M127 229.92H127.9M127 229.17H127.9M125.9 228.5H127.9M127 224.07H127.9M127 221.48H127.9M127 219.64H127.9M127 218.22H127.9M127 217.06H127.9M127 216.07H127.9M130.38 274.8V276.8M135.34 274.8V275.9M138.25 274.8V275.9M140.31 274.8V275.9M141.91 274.8V275.9M143.21 274.8V275.9M144.32 274.8V275.9M145.28 274.8V275.9M146.12 274.8V275.9M146.88 274.8V276.8M151.84 274.8V275.9M154.75 274.8V275.9M156.81 274.8V275.9M158.41 274.8V275.9M159.71 274.8V275.9M160.82 274.8V275.9M161.78 274.8V275.9M162.62 274.8V275.9M163.38 274.8V276.8M168.34 274.8V275.9M171.25 274.8V275.9M173.31 274.8V275.9M174.91 274.8V275.9M176.21 274.8V275.9M177.32 274.8V275.9M178.28 274.8V275.9M179.12 274.8V275.9M179.88 274.8V276.8M184.84 274.8V275.9M187.75 274.8V275.9M189.81 274.8V275.9M191.41 274.8V275.9M192.71 274.8V275.9M193.82 274.8V275.9" stroke="#777" stroke-width="0.6"/>
<rect x="220.3" y="216" width="67.9" height="58.6" fill="none" stroke="#7a7a7a" stroke-width="1"/>
<path d="M218.3 272.4H220.3M219.4 267.99H220.3M219.4 265.41H220.3M219.4 263.58H220.3M219.4 262.16H220.3M219.4 261H220.3M219.4 260.02H220.3M219.4 259.17H220.3M219.4 258.42H220.3M218.3 257.75H220.3M219.4 253.34H220.3M219.4 250.76H220.3M219.4 248.93H220.3M219.4 247.51H220.3M219.4 246.35H220.3M219.4 245.37H220.3M219.4 244.52H220.3M219.4 243.77H220.3M218.3 243.1H220.3M219.4 238.69H220.3M219.4 236.11H220.3M219.4 234.28H220.3M219.4 232.86H220.3M219.4 231.7H220.3M219.4 230.72H220.3M219.4 229.87H220.3M219.4 229.12H220.3M218.3 228.45H220.3M219.4 224.04H220.3M219.4 221.46H220.3M219.4 219.63H220.3M219.4 218.21H220.3M219.4 217.05H220.3M219.4 216.07H220.3M222.85 274.6V276.6M227.96 274.6V275.7M230.95 274.6V275.7M233.07 274.6V275.7M234.71 274.6V275.7M236.06 274.6V275.7M237.19 274.6V275.7M238.18 274.6V275.7M239.04 274.6V275.7M239.82 274.6V276.6M244.93 274.6V275.7M247.92 274.6V275.7M250.04 274.6V275.7M251.69 274.6V275.7M253.03 274.6V275.7M254.17 274.6V275.7M255.15 274.6V275.7M256.02 274.6V275.7M256.8 274.6V276.6M261.91 274.6V275.7M264.9 274.6V275.7M267.02 274.6V275.7M268.66 274.6V275.7M270.01 274.6V275.7M271.14 274.6V275.7M272.13 274.6V275.7M272.99 274.6V275.7M273.77 274.6V276.6M278.88 274.6V275.7M281.87 274.6V275.7M283.99 274.6V275.7M285.64 274.6V275.7M286.98 274.6V275.7M288.12 274.6V275.7" stroke="#777" stroke-width="0.6"/>
<rect x="36" y="311.2" width="66.3" height="58" fill="none" stroke="#7a7a7a" stroke-width="1"/>
<path d="M34 367.02H36M35.1 362.66H36M35.1 360.11H36M35.1 358.3H36M35.1 356.89H36M35.1 355.74H36M35.1 354.77H36M35.1 353.93H36M35.1 353.19H36M34 352.52H36M35.1 348.16H36M35.1 345.61H36M35.1 343.8H36M35.1 342.39H36M35.1 341.24H36M35.1 340.27H36M35.1 339.43H36M35.1 338.69H36M34 338.02H36M35.1 333.66H36M35.1 331.11H36M35.1 329.3H36M35.1 327.89H36M35.1 326.74H36M35.1 325.77H36M35.1 324.93H36M35.1 324.19H36M34 323.52H36M35.1 319.16H36M35.1 316.61H36M35.1 314.8H36M35.1 313.39H36M35.1 312.24H36M35.1 311.27H36M38.49 369.2V371.2M43.48 369.2V370.3M46.39 369.2V370.3M48.47 369.2V370.3M50.07 369.2V370.3M51.38 369.2V370.3M52.49 369.2V370.3M53.45 369.2V370.3M54.3 369.2V370.3M55.06 369.2V371.2M60.05 369.2V370.3M62.97 369.2V370.3M65.04 369.2V370.3M66.65 369.2V370.3M67.96 369.2V370.3M69.07 369.2V370.3M70.03 369.2V370.3M70.88 369.2V370.3M71.64 369.2V371.2M76.63 369.2V370.3M79.54 369.2V370.3M81.62 369.2V370.3M83.22 369.2V370.3M84.53 369.2V370.3M85.64 369.2V370.3M86.6 369.2V370.3M87.45 369.2V370.3M88.21 369.2V371.2M93.2 369.2V370.3M96.12 369.2V370.3M98.19 369.2V370.3M99.8 369.2V370.3M101.11 369.2V370.3M102.22 369.2V370.3" stroke="#777" stroke-width="0.6"/>
<rect x="128" y="310.2" width="66.4" height="58.8" fill="none" stroke="#7a7a7a" stroke-width="1"/>
<path d="M126 366.8H128M127.1 362.37H128M127.1 359.78H128M127.1 357.94H128M127.1 356.52H128M127.1 355.36H128M127.1 354.37H128M127.1 353.52H128M127.1 352.77H128M126 352.1H128M127.1 347.67H128M127.1 345.08H128M127.1 343.24H128M127.1 341.82H128M127.1 340.66H128M127.1 339.67H128M127.1 338.82H128M127.1 338.07H128M126 337.39H128M127.1 332.97H128M127.1 330.38H128M127.1 328.54H128M127.1 327.12H128M127.1 325.96H128M127.1 324.97H128M127.1 324.12H128M127.1 323.37H128M126 322.69H128M127.1 318.27H128M127.1 315.68H128M127.1 313.84H128M127.1 312.42H128M127.1 311.26H128M127.1 310.27H128M130.49 369V371M135.49 369V370.1M138.41 369V370.1M140.48 369V370.1M142.09 369V370.1M143.41 369V370.1M144.52 369V370.1M145.48 369V370.1M146.33 369V370.1M147.09 369V371M152.09 369V370.1M155.01 369V370.1M157.08 369V370.1M158.69 369V370.1M160.01 369V370.1M161.12 369V370.1M162.08 369V370.1M162.93 369V370.1M163.69 369V371M168.69 369V370.1M171.61 369V370.1M173.68 369V370.1M175.29 369V370.1M176.61 369V370.1M177.72 369V370.1M178.68 369V370.1M179.53 369V370.1M180.29 369V371M185.29 369V370.1M188.21 369V370.1M190.28 369V370.1M191.89 369V370.1M193.21 369V370.1M194.32 369V370.1" stroke="#777" stroke-width="0.6"/>
<rect x="221" y="310.2" width="66.4" height="59.1" fill="none" stroke="#7a7a7a" stroke-width="1"/>
<path d="M219 367.08H221M220.1 362.64H221M220.1 360.03H221M220.1 358.19H221M220.1 356.76H221M220.1 355.59H221M220.1 354.6H221M220.1 353.74H221M220.1 352.98H221M219 352.31H221M220.1 347.86H221M220.1 345.26H221M220.1 343.41H221M220.1 341.98H221M220.1 340.81H221M220.1 339.82H221M220.1 338.97H221M220.1 338.21H221M219 337.53H221M220.1 333.09H221M220.1 330.48H221M220.1 328.64H221M220.1 327.21H221M220.1 326.04H221M220.1 325.05H221M220.1 324.19H221M220.1 323.43H221M219 322.76H221M220.1 318.31H221M220.1 315.71H221M220.1 313.86H221M220.1 312.43H221M220.1 311.26H221M220.1 310.27H221M223.49 369.3V371.3M228.49 369.3V370.4M231.41 369.3V370.4M233.48 369.3V370.4M235.09 369.3V370.4M236.41 369.3V370.4M237.52 369.3V370.4M238.48 369.3V370.4M239.33 369.3V370.4M240.09 369.3V371.3M245.09 369.3V370.4M248.01 369.3V370.4M250.08 369.3V370.4M251.69 369.3V370.4M253.01 369.3V370.4M254.12 369.3V370.4M255.08 369.3V370.4M255.93 369.3V370.4M256.69 369.3V371.3M261.69 369.3V370.4M264.61 369.3V370.4M266.68 369.3V370.4M268.29 369.3V370.4M269.61 369.3V370.4M270.72 369.3V370.4M271.68 369.3V370.4M272.53 369.3V370.4M273.29 369.3V371.3M278.29 369.3V370.4M281.21 369.3V370.4M283.28 369.3V370.4M284.89 369.3V370.4M286.21 369.3V370.4M287.32 369.3V370.4" stroke="#777" stroke-width="0.6"/>
<path d="M248 216V274.6M220.3 251.4H288.2" stroke="#6a6a6a" stroke-width="0.9"/>
<path d="M71.3 323.5V369.2" stroke="#777" stroke-width="0.9"/>
<path d="M128 354H194.4" stroke="#777" stroke-width="0.9"/>
<path d="M240.4 310.2V369.3M221 355H287.4" stroke="#555" stroke-width="0.85"/>
<rect x="42.7" y="203.6" width="56" height="22.2" fill="#fff"/>
<text x="70.7" y="211.6" text-anchor="middle" font-family='"Liberation Sans", sans-serif' font-size="10.4" fill="#222" stroke="#222" stroke-width="0.25">CD45+ Living</text>
<text x="70.7" y="223.8" text-anchor="middle" font-family='"Liberation Sans", sans-serif' font-size="10.4" fill="#222" stroke="#222" stroke-width="0.25">Cells</text>
<rect x="42.1" y="298.9" width="56" height="21.6" fill="#fff"/>
<text x="70.1" y="306.9" text-anchor="middle" font-family='"Liberation Sans", sans-serif' font-size="10.4" fill="#222" stroke="#222" stroke-width="0.25">CD45+ Living</text>
<text x="70.1" y="318.5" text-anchor="middle" font-family='"Liberation Sans", sans-serif' font-size="10.4" fill="#222" stroke="#222" stroke-width="0.25">Cells</text>
<path d="M25.3 215V234.3M25.3 257.1V287.1H51.1M89.3 287.1H102.7" fill="none" stroke="#111" stroke-width="1.15"/>
<text transform="translate(28.6 245.7) rotate(-90)" x="-7.8" textLength="15.6" lengthAdjust="spacingAndGlyphs" font-family='"Liberation Sans", sans-serif' font-size="10.2" fill="#1a1a1a" stroke="#1a1a1a" stroke-width="0.3">CD4</text>
<text x="54.7" y="290.7" textLength="31" lengthAdjust="spacingAndGlyphs" font-family='"Liberation Sans", sans-serif' font-size="10.2" fill="#1a1a1a" stroke="#1a1a1a" stroke-width="0.3">CD158k</text>
<path d="M118.2 215V233.8M118.2 256.4V287.3H147.6M175 287.3H196.5" fill="none" stroke="#111" stroke-width="1.15"/>
<text transform="translate(121.5 245.1) rotate(-90)" x="-7.7" textLength="15.4" lengthAdjust="spacingAndGlyphs" font-family='"Liberation Sans", sans-serif' font-size="10.2" fill="#1a1a1a" stroke="#1a1a1a" stroke-width="0.3">CD4</text>
<text x="151.2" y="290.9" textLength="20.2" lengthAdjust="spacingAndGlyphs" font-family='"Liberation Sans", sans-serif' font-size="10.2" fill="#1a1a1a" stroke="#1a1a1a" stroke-width="0.3">Vβ22</text>
<path d="M211.1 215V227.5M211.1 261.7V286.9H240.15M268.85 286.9H289.7" fill="none" stroke="#111" stroke-width="1.15"/>
<text transform="translate(214.4 244.6) rotate(-90)" x="-13.5" textLength="27" lengthAdjust="spacingAndGlyphs" font-family='"Liberation Sans", sans-serif' font-size="10.2" fill="#1a1a1a" stroke="#1a1a1a" stroke-width="0.3">CD103</text>
<text x="243.75" y="290.5" textLength="21.5" lengthAdjust="spacingAndGlyphs" font-family='"Liberation Sans", sans-serif' font-size="10.2" fill="#1a1a1a" stroke="#1a1a1a" stroke-width="0.3">CD69</text>
<path d="M25.3 310.4V329.1M25.3 351.9V381.3H49.8M90.4 381.3H103" fill="none" stroke="#111" stroke-width="1.15"/>
<text transform="translate(28.6 340.5) rotate(-90)" x="-7.8" textLength="15.6" lengthAdjust="spacingAndGlyphs" font-family='"Liberation Sans", sans-serif' font-size="10.2" fill="#1a1a1a" stroke="#1a1a1a" stroke-width="0.3">CD4</text>
<text x="53.4" y="384.9" textLength="33.4" lengthAdjust="spacingAndGlyphs" font-family='"Liberation Sans", sans-serif' font-size="10.2" fill="#1a1a1a" stroke="#1a1a1a" stroke-width="0.3">CD45RA</text>
<path d="M118.2 310.4V324.4M118.2 355.2V381H145.6M177.8 381H196" fill="none" stroke="#111" stroke-width="1.15"/>
<text transform="translate(121.5 339.8) rotate(-90)" x="-11.8" textLength="23.6" lengthAdjust="spacingAndGlyphs" font-family='"Liberation Sans", sans-serif' font-size="10.2" fill="#1a1a1a" stroke="#1a1a1a" stroke-width="0.3">CCR7</text>
<text x="149.2" y="384.6" textLength="25" lengthAdjust="spacingAndGlyphs" font-family='"Liberation Sans", sans-serif' font-size="10.2" fill="#1a1a1a" stroke="#1a1a1a" stroke-width="0.3">SSC-A</text>
<path d="M211 310.4V325.7M211 355.7V380.9H240.4M268 380.9H289.7" fill="none" stroke="#111" stroke-width="1.15"/>
<text transform="translate(214.3 340.7) rotate(-90)" x="-11.4" textLength="22.8" lengthAdjust="spacingAndGlyphs" font-family='"Liberation Sans", sans-serif' font-size="10.2" fill="#1a1a1a" stroke="#1a1a1a" stroke-width="0.3">CD95</text>
<text x="244" y="384.5" textLength="20.4" lengthAdjust="spacingAndGlyphs" font-family='"Liberation Sans", sans-serif' font-size="10.2" fill="#1a1a1a" stroke="#1a1a1a" stroke-width="0.3">CD27</text>
<path d="M141.2 396.05L144.7 402.35L137.7 402.35Z" fill="#D08A30"/>
<text x="147.9" y="402" textLength="95.2" lengthAdjust="spacingAndGlyphs" font-family='"Liberation Sans", sans-serif' font-size="8.15" fill="#222" stroke="#222" stroke-width="0.25">Circulating CD158k+T-cells</text>
<path d="M262.5 396.4L265.1 399L262.5 401.6L259.9 399Z" fill="#fff" stroke="#000" stroke-width="1.25"/>
<text x="268.5" y="402" textLength="104.8" lengthAdjust="spacingAndGlyphs" font-family='"Liberation Sans", sans-serif' font-size="8.15" fill="#222" stroke="#222" stroke-width="0.25">Skin-derived CD158k+ T-cells</text></svg>
</body></html>
